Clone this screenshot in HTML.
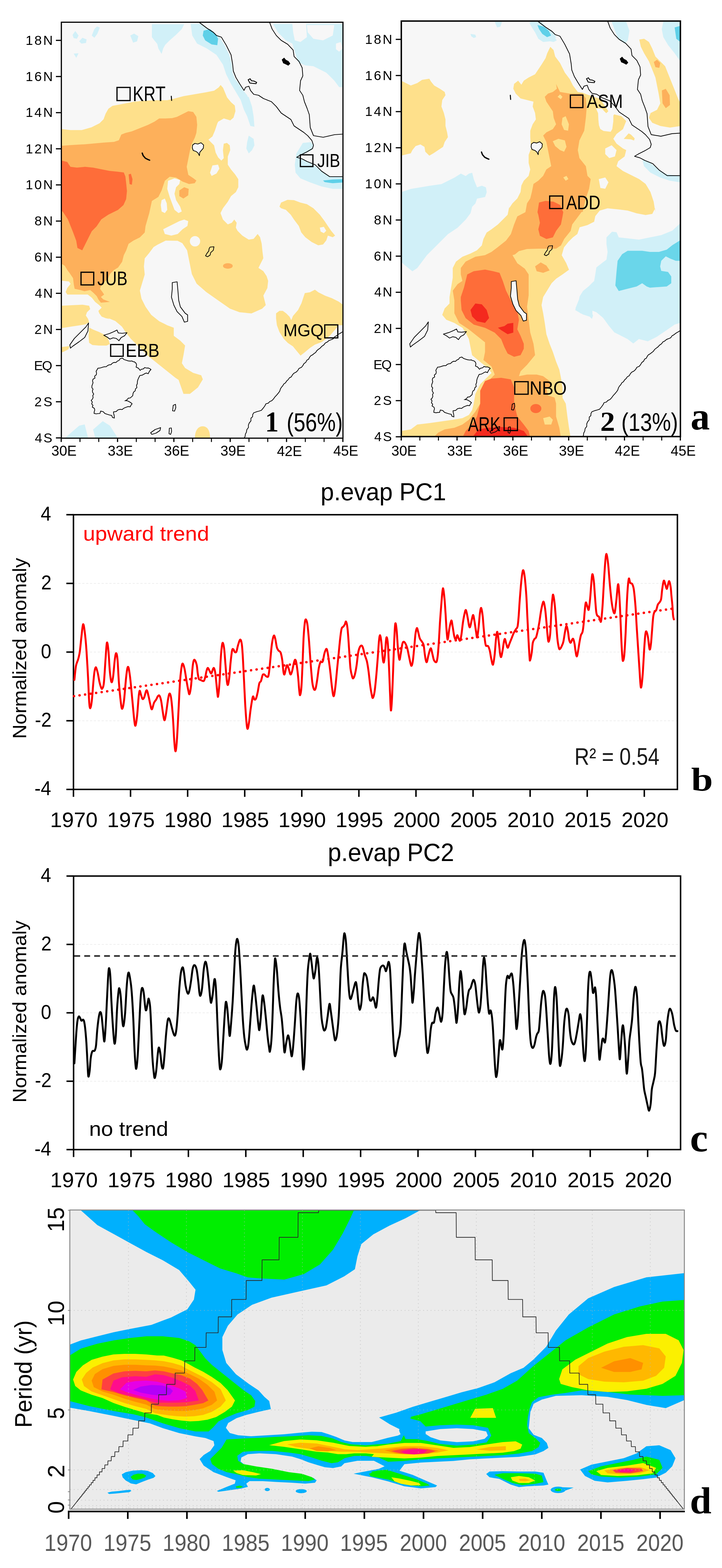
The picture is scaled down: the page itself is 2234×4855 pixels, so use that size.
<!DOCTYPE html>
<html><head><meta charset="utf-8"><style>
html,body{margin:0;padding:0;background:#fff;}
svg{display:block;}
text{font-kerning:none;}
</style></head><body>
<svg width="2234" height="4855" viewBox="0 0 2234 4855">
<rect width="2234" height="4855" fill="#fff"/>
<clipPath id="cl"><rect x="190" y="69" width="871" height="1287.5"/></clipPath>
<clipPath id="cr"><rect x="1241.5" y="65.5" width="864" height="1286"/></clipPath>
<rect x="188" y="67" width="875" height="1291" fill="#f7f7f7"/>
<g clip-path="url(#cl)">
<path d="M470.0,75.0 L569.9,75.0 L562.4,90.0 L544.9,107.5 L525.0,124.9 L507.5,142.4 L490.0,139.9 L477.5,124.9 L470.0,115.0 Z" fill="#d1f0f8" />
<path d="M589.9,74.0 L619.9,74.0 L634.9,85.0 L654.8,97.5 L679.8,115.0 L694.8,139.9 L709.8,169.9 L717.3,199.9 L719.8,224.9 L727.3,244.8 L739.8,259.8 L752.3,279.8 L764.7,294.8 L774.7,319.8 L779.7,339.8 L782.2,359.7 L764.7,359.7 L754.8,339.8 L744.8,309.8 L729.8,284.8 L714.8,259.8 L699.8,229.9 L689.8,199.9 L669.8,169.9 L639.9,149.9 L609.9,134.9 L594.9,110.0 Z" fill="#d1f0f8" />
<path d="M844.7,74.0 L1062.0,74.0 L1062.0,269.8 L1049.5,269.8 L1034.5,249.8 L1009.5,224.9 L969.6,204.9 L944.6,202.4 L922.1,192.4 L912.1,159.9 L904.6,134.9 L884.6,124.9 L859.7,100.0 Z" fill="#d1f0f8" />
<path d="M904.6,74.0 L947.1,74.0 L949.6,115.0 L929.6,129.9 L912.1,124.9 L907.1,100.0 Z" fill="#f7f7f7" />
<path d="M949.6,77.5 L1034.5,77.5 L1029.5,110.0 L999.5,124.9 L969.6,119.9 L952.1,100.0 Z" fill="#f7f7f7" />
<path d="M1039.5,134.9 L1054.5,129.9 L1059.5,149.9 L1049.5,159.9 L1039.5,152.4 Z" fill="#f7f7f7" />
<path d="M224.5,108.0 L233.0,96.0 L243.0,110.0 L238.0,120.0 L228.0,118.0 Z" fill="#d1f0f8" />
<path d="M245.0,128.0 L255.0,117.0 L268.0,122.0 L266.0,133.0 L252.0,135.0 Z" fill="#d1f0f8" />
<path d="M284.0,110.0 L292.0,90.0 L300.0,82.0 L309.0,85.0 L301.0,105.0 L292.0,117.0 Z" fill="#d1f0f8" />
<path d="M228.0,166.0 L243.0,165.0 L236.0,179.0 Z" fill="#d1f0f8" />
<path d="M403.0,110.0 L415.0,104.0 L428.0,112.0 L424.0,128.0 L412.0,132.0 Z" fill="#d1f0f8" />
<path d="M483.0,122.0 L500.0,124.0 L513.0,135.0 L505.0,150.0 L500.0,167.0 L490.0,150.0 Z" fill="#d1f0f8" />
<path d="M629.9,95.0 L649.8,90.0 L667.3,105.0 L674.8,119.9 L672.3,139.9 L654.8,137.4 L634.9,124.9 L627.4,110.0 Z" fill="#5fd0e8" />
<path d="M749.8,300.0 L769.7,300.0 L779.7,330.0 L784.7,359.9 L787.2,392.4 L774.7,389.9 L764.7,359.9 L757.3,330.0 Z" fill="#d1f0f8" />
<path d="M769.7,419.9 L784.7,429.9 L787.2,449.9 L779.7,464.9 L769.7,474.9 L762.3,459.9 L764.7,439.9 Z" fill="#d1f0f8" />
<path d="M937.1,442.4 L962.1,439.9 L969.6,449.9 L964.6,464.9 L944.6,474.9 L922.1,484.8 L969.6,509.8 L994.6,529.8 L1019.5,547.3 L1062.0,547.3 L1062.0,584.8 L1029.5,584.8 L994.6,577.3 L959.6,564.8 L929.6,552.3 L914.6,534.8 L912.1,509.8 L917.1,474.9 Z" fill="#d1f0f8" />
<path d="M999.5,558.8 L1029.5,555.8 L1062.0,554.8 L1062.0,564.8 L1029.5,567.3 L1004.5,563.8 Z" fill="#5fd0e8" />
<path d="M200.0,1357.0 L245.0,1318.0 L262.0,1314.0 L266.0,1330.0 L273.0,1357.0 Z" fill="#d1f0f8" />
<path d="M288.0,1330.0 L318.0,1304.0 L340.0,1318.0 L365.0,1357.0 L295.0,1357.0 Z" fill="#d1f0f8" />
<path d="M188.0,399.2 L218.0,402.7 L252.9,402.7 L282.9,394.2 L307.9,381.7 L320.4,369.2 L326.9,351.8 L335.4,336.8 L347.9,327.8 L387.8,320.3 L412.8,315.3 L447.8,311.8 L487.7,310.3 L517.7,310.3 L537.7,305.8 L567.7,297.8 L602.6,291.8 L637.6,285.8 L662.6,280.8 L676.6,270.8 L682.6,263.3 L690.1,271.8 L702.6,301.8 L715.1,316.8 L726.5,326.8 L728.5,344.3 L722.5,364.2 L712.6,372.7 L692.6,366.7 L675.1,376.7 L672.3,382.4 L664.8,404.9 L657.3,422.4 L644.9,432.4 L662.3,449.9 L667.3,472.4 L674.8,487.3 L684.8,497.3 L692.3,489.8 L689.8,464.9 L692.3,444.9 L702.3,442.4 L710.8,449.9 L712.3,464.9 L704.8,484.8 L704.8,509.8 L714.8,524.8 L727.3,539.8 L737.3,554.8 L737.3,579.8 L729.8,594.7 L714.8,607.2 L704.8,624.7 L689.8,644.7 L682.3,659.7 L689.8,679.7 L704.8,694.7 L717.3,689.7 L724.8,679.7 L732.3,689.7 L729.8,704.7 L734.8,714.6 L749.8,729.6 L769.7,742.1 L784.7,739.6 L797.2,724.6 L804.7,734.6 L809.7,754.6 L812.2,779.6 L814.7,799.6 L804.7,819.6 L799.7,829.5 L814.7,839.5 L824.7,854.5 L829.7,869.5 L827.2,892.0 L814.9,915.2 L822.3,944.7 L811.2,955.8 L778.0,970.5 L741.2,966.8 L711.7,955.8 L674.8,929.9 L637.9,904.1 L608.4,878.3 L593.7,848.8 L586.3,811.9 L578.9,775.1 L564.2,752.9 L549.4,745.5 L512.7,745.0 L487.7,757.5 L475.3,764.9 L460.3,784.9 L447.8,799.9 L445.3,824.9 L447.8,849.9 L440.3,874.9 L432.8,899.8 L437.8,924.8 L450.3,949.8 L467.8,974.8 L492.7,994.7 L517.7,1007.2 L537.7,1014.7 L537.7,1039.7 L557.7,1054.7 L572.7,1069.7 L567.7,1099.7 L562.7,1124.6 L572.7,1139.6 L597.7,1154.6 L622.6,1162.1 L627.6,1174.6 L612.6,1199.6 L587.7,1219.6 L567.7,1219.6 L552.6,1176.3 L542.4,1169.5 L525.6,1156.0 L508.7,1142.5 L491.8,1129.0 L474.9,1115.5 L458.0,1102.0 L444.5,1088.5 L431.0,1075.0 L417.5,1061.5 L404.0,1048.0 L390.5,1031.1 L377.0,1010.9 L356.8,994.0 L333.1,983.9 L339.9,987.8 L327.2,985.3 L314.6,980.3 L307.0,970.1 L304.5,962.5 L314.6,952.4 L307.0,944.8 L294.3,934.7 L284.2,922.0 L271.5,911.9 L246.2,911.9 L208.3,911.9 L203.2,904.3 L208.3,891.6 L218.4,879.0 L213.3,871.4 L188.0,868.9 Z" fill="#fee08b" />
<path d="M188.0,946.8 L221.8,945.1 L255.5,943.4 L275.8,946.8 L279.1,956.9 L269.0,967.0 L265.6,977.1 L272.4,987.3 L275.8,997.4 L265.6,1004.1 L245.4,1007.5 L221.8,1010.9 L201.5,1014.3 L188.0,1016.0 Z" fill="#fee08b" />
<path d="M275.8,1014.3 L289.3,1021.0 L306.1,1027.8 L319.6,1034.5 L329.8,1041.3 L336.5,1054.8 L339.9,1064.9 L329.8,1070.0 L306.1,1070.0 L285.9,1068.3 L275.8,1061.5 L274.1,1041.3 Z" fill="#fee08b" />
<path d="M188.0,1075.0 L201.5,1073.3 L215.0,1071.6 L211.6,1081.8 L198.1,1088.5 L188.0,1091.9 Z" fill="#fee08b" />
<path d="M603,1357 C603,1330 615,1320 627,1320 C640,1320 650,1330 650,1357 Z" fill="#fee08b"/>
<path d="M854.2,970.3 L864.6,962.5 L875.1,962.5 L885.6,970.3 L896.0,980.8 L901.3,991.3 L906.5,978.2 L922.2,959.9 L932.7,938.9 L943.1,907.6 L958.8,904.9 L974.5,897.1 L985.0,904.9 L1005.9,915.4 L1026.8,923.2 L1047.8,933.7 L1062.0,944.2 L1062.0,1007.0 L1047.8,1007.0 L1037.3,1020.0 L1021.6,1038.4 L1005.9,1051.4 L995.4,1059.3 L974.5,1067.1 L958.8,1077.6 L943.1,1090.7 L930.0,1101.1 L917.0,1085.4 L906.5,1072.4 L890.8,1061.9 L877.7,1048.8 L864.6,1027.9 L856.8,1007.0 L854.2,986.0 Z" fill="#fee08b" />
<path d="M864.7,639.7 L869.7,627.2 L889.6,618.7 L909.6,619.7 L929.6,627.2 L949.6,632.2 L969.6,644.7 L989.6,664.7 L1004.5,684.7 L1014.5,699.7 L1024.5,714.6 L1037.0,729.6 L1029.5,734.6 L1014.5,729.6 L1009.5,744.6 L999.5,757.1 L984.6,759.6 L964.6,749.6 L944.6,734.6 L932.1,719.6 L924.6,699.7 L909.6,679.7 L899.6,664.7 L884.6,649.7 L869.7,644.7 Z" fill="#fee08b" />
<path d="M989.6,704.7 L1002.0,702.2 L1009.5,714.6 L1002.0,722.1 L992.1,717.1 Z" fill="#f7f7f7" />
<path d="M657.3,512.3 L674.8,509.8 L678.8,522.3 L669.8,537.3 L654.8,544.8 L649.8,534.8 Z" fill="#f7f7f7" />
<path d="M520.0,559.8 L539.9,552.3 L557.4,557.3 L554.9,569.8 L544.9,579.8 L539.9,599.7 L544.9,619.7 L557.4,639.7 L562.4,654.7 L552.4,659.7 L539.9,649.7 L532.4,629.7 L525.0,609.7 L517.5,584.8 Z" fill="#f7f7f7" />
<path d="M500.0,619.7 L510.0,614.7 L516.0,629.7 L517.5,649.7 L510.0,659.7 L500.0,654.7 L497.5,634.7 Z" fill="#f7f7f7" />
<path d="M505.0,709.7 L529.9,697.2 L554.9,684.7 L569.9,679.7 L582.4,684.7 L579.9,699.7 L564.9,709.7 L549.9,724.6 L529.9,729.6 L510.0,724.6 Z" fill="#f7f7f7" />
<circle cx="603.4" cy="747.1" r="16" fill="#f7f7f7"/>
<path d="M188.0,451.7 L218.0,449.2 L262.9,446.7 L317.9,441.7 L352.9,439.2 L367.8,434.2 L375.3,416.7 L387.8,411.7 L407.8,406.7 L432.8,396.7 L457.8,386.7 L477.8,376.7 L492.7,366.7 L512.7,366.7 L532.7,365.7 L547.7,361.7 L567.7,351.8 L582.7,344.3 L597.7,346.8 L607.6,361.7 L610.1,386.7 L607.6,411.7 L602.6,426.7 L592.7,446.7 L587.7,466.7 L582.7,491.6 L577.7,516.6 L582.7,541.6 L597.7,551.6 L607.6,559.1 L602.4,567.3 L584.9,569.8 L564.9,562.3 L544.9,549.8 L525.0,547.3 L510.0,559.8 L500.0,589.8 L490.0,609.7 L470.0,622.2 L461.8,660.0 L450.3,700.0 L447.8,720.0 L432.8,735.0 L412.8,745.0 L397.8,755.0 L390.5,775.2 L382.9,790.4 L377.9,810.6 L365.2,828.4 L352.6,835.9 L339.9,848.6 L334.8,861.3 L322.2,873.9 L312.1,886.6 L309.5,894.2 L317.1,904.3 L322.2,911.9 L312.1,919.5 L319.6,927.1 L339.9,934.7 L312.1,937.2 L304.5,927.1 L299.4,917.0 L289.3,906.8 L279.1,898.0 L261.4,901.8 L248.8,898.0 L231.0,894.2 L228.5,881.5 L226.0,861.3 L215.8,846.1 L208.3,835.9 L200.7,823.3 L193.1,818.2 L188.0,818.2 Z" fill="#fdb05b" />
<path d="M554.9,589.8 L569.9,579.8 L583.9,584.8 L582.4,604.7 L567.4,614.7 L554.9,607.2 Z" fill="#fdb05b" />
<ellipse cx="705" cy="823.5" rx="15" ry="8.5" fill="#fdb05b"/>
<path d="M188.0,496.6 L208.0,501.6 L218.0,516.6 L238.0,519.1 L263.0,516.6 L288.0,519.1 L313.0,524.1 L338.0,529.1 L363.0,531.6 L383.0,534.1 L388.0,546.6 L390.3,566.6 L392.8,591.6 L390.3,616.6 L382.0,635.0 L365.0,650.0 L335.5,664.4 L313.4,679.2 L298.6,701.3 L283.9,716.0 L269.1,745.6 L261.8,760.3 L254.4,775.1 L239.6,767.7 L235.9,745.6 L224.9,716.0 L210.1,679.2 L195.4,657.0 L188.0,649.7 Z" fill="#fe6d39" />
<path d="M398.0,540.0 L405.0,538.0 L410.0,555.0 L408.0,572.0 L401.0,570.0 Z" fill="#fe6d39" />
<path d="M612.0,66.0 L620.0,72.0 L640.0,87.0 L660.0,100.0 L670.0,110.0 L685.0,115.0 L700.0,140.0 L715.0,170.0 L720.0,200.0 L722.0,220.0 L730.0,240.0 L742.0,260.0 L755.0,280.0 L760.0,270.0 L770.0,267.0 L775.0,280.0 L785.0,292.0 L800.0,295.0 L815.0,305.0 L840.0,315.0 L855.0,330.0 L870.0,350.0 L885.0,360.0 L900.0,370.0 L910.0,390.0 L925.0,400.0 L940.0,410.0 L952.0,420.0 L965.0,435.0 L970.0,450.0 L967.0,460.0 L950.0,470.0 L930.0,480.0 L918.0,487.0 L935.0,492.0 L950.0,500.0 L975.0,510.0 L995.0,530.0 L1020.0,547.0 L1065.0,547.0" fill="none" stroke="#000" stroke-width="2.2" stroke-linejoin="round" stroke-linecap="round" />
<path d="M833.0,66.0 L842.0,90.0 L855.0,110.0 L870.0,125.0 L890.0,137.0 L907.0,155.0 L910.0,175.0 L925.0,190.0 L935.0,210.0 L937.0,235.0 L930.0,250.0 L927.0,280.0 L937.0,295.0 L942.0,315.0 L950.0,335.0 L957.0,355.0 L960.0,395.0 L970.0,420.0 L1000.0,425.0 L1035.0,417.0 L1065.0,415.0" fill="none" stroke="#000" stroke-width="2.2" stroke-linejoin="round" stroke-linecap="round" />
<path d="M1064.8,1023.7 L1058.4,1028.4 L1052.5,1032.0 L1046.5,1035.4 L1041.1,1039.8 L1035.0,1043.1 L1030.8,1049.3 L1024.3,1051.9 L1017.7,1054.5 L1012.5,1059.1 L1006.3,1062.2 L1002.1,1068.0 L995.9,1072.1 L991.0,1077.6 L984.9,1081.9 L980.2,1085.9 L976.7,1091.3 L971.6,1094.9 L966.9,1098.8 L961.3,1101.8 L957.6,1106.6 L954.9,1112.3 L949.3,1115.4 L946.2,1121.9 L940.5,1125.9 L937.0,1132.1 L932.6,1137.6 L925.2,1140.7 L921.1,1147.5 L915.7,1152.6 L909.2,1155.7 L904.8,1160.7 L901.5,1166.7 L895.4,1170.0 L891.7,1175.5 L886.8,1179.8 L883.4,1185.3 L877.9,1189.1 L875.0,1194.6 L870.7,1199.2 L867.5,1204.6 L865.6,1211.0 L861.9,1216.3 L856.6,1222.7 L850.9,1228.7 L846.5,1234.9 L841.0,1240.7 L834.7,1243.3 L829.9,1248.4 L822.8,1250.2 L819.6,1256.6 L815.5,1262.3 L809.0,1270.3 L802.1,1272.7 L795.2,1274.5 L784.9,1278.2 L781.9,1283.7 L781.5,1290.3 L776.5,1294.9 L776.4,1303.3 L771.2,1309.7 L768.6,1316.2 L768.7,1323.7 L763.7,1330.3 L762.4,1338.2 L759.2,1344.4 L758.4,1351.5 L753.4,1360.0" fill="none" stroke="#000" stroke-width="2.2" stroke-linejoin="round" stroke-linecap="round" />
<path d="M596.0,449.0 L603.0,444.0 L612.0,446.0 L622.0,442.0 L630.0,449.0 L629.0,459.0 L622.0,467.0 L618.0,472.0 L617.0,482.0 L613.0,474.0 L607.0,469.0 L598.0,466.0 L595.0,458.0 Z" fill="#f7f7f7" stroke="#000" stroke-width="2.2" stroke-linejoin="round"/>
<path d="M533.0,875.0 L548.0,872.5 L550.5,900.0 L553.0,930.0 L558.0,950.0 L573.0,970.0 L580.5,975.0 L580.5,995.0 L570.5,997.5 L563.0,980.0 L548.0,965.0 L538.0,945.0 L530.5,920.0 L533.0,895.0 Z" fill="#f7f7f7" stroke="#000" stroke-width="2.2" stroke-linejoin="round"/>
<path d="M216.0,1068.0 L230.0,1048.0 L250.0,1028.0 L266.0,1012.0 L274.0,1000.0 L272.0,1025.0 L262.0,1045.0 L245.0,1058.0 L225.0,1072.0 L218.0,1078.0 Z" fill="#f7f7f7" stroke="#000" stroke-width="2.2" stroke-linejoin="round"/>
<path d="M378.6,1108.8 L383.9,1113.2 L390.1,1115.3 L396.4,1117.3 L402.7,1118.1 L408.5,1117.7 L411.2,1119.6 L416.3,1120.6 L420.9,1124.6 L422.6,1129.6 L421.2,1136.8 L428.1,1139.9 L433.6,1146.7 L438.0,1143.2 L443.2,1142.4 L447.7,1138.2 L454.1,1139.7 L458.7,1139.4 L463.9,1141.6 L467.1,1144.1 L462.4,1149.4 L458.5,1157.2 L452.7,1154.9 L447.9,1157.0 L443.3,1159.8 L439.7,1161.7 L432.7,1162.7 L430.1,1168.0 L426.9,1174.8 L425.1,1181.2 L424.9,1187.7 L422.4,1193.5 L423.5,1200.2 L419.1,1204.3 L418.3,1210.1 L413.5,1214.0 L411.6,1218.6 L410.7,1225.2 L406.8,1228.8 L402.8,1232.3 L396.9,1232.8 L393.1,1237.8 L387.8,1240.6 L394.3,1241.0 L400.0,1244.0 L404.4,1246.5 L408.7,1250.3 L405.1,1254.8 L402.9,1259.6 L396.2,1258.9 L389.5,1261.2 L382.8,1264.1 L378.0,1268.1 L371.5,1267.4 L364.7,1269.2 L359.7,1274.1 L351.2,1275.4 L351.6,1280.5 L352.9,1284.6 L353.6,1289.9 L353.7,1294.2 L348.0,1292.6 L345.7,1286.4 L338.2,1284.7 L331.0,1282.5 L324.4,1280.2 L319.4,1274.7 L311.5,1272.9 L309.2,1280.3 L303.3,1280.5 L297.9,1281.5 L291.2,1280.2 L291.4,1275.1 L293.3,1269.5 L291.8,1264.3 L285.7,1260.5 L287.6,1254.9 L283.7,1250.7 L285.6,1244.7 L282.2,1239.8 L286.2,1235.5 L288.1,1230.6 L287.0,1225.0 L289.9,1220.2 L286.7,1214.9 L285.8,1210.3 L287.8,1204.9 L284.3,1200.3 L284.4,1194.8 L286.2,1189.9 L287.9,1185.1 L286.3,1179.3 L287.8,1174.1 L293.8,1170.6 L292.8,1164.7 L297.8,1160.6 L298.8,1155.5 L297.4,1149.7 L300.3,1144.9 L303.0,1140.1 L308.1,1139.7 L313.1,1138.5 L318.1,1136.8 L323.2,1135.6 L328.7,1135.5 L333.0,1131.7 L337.9,1129.7 L343.4,1129.1 L347.3,1124.8 L352.5,1122.1 L358.9,1122.3 L363.0,1118.1 L368.1,1116.2 L371.7,1110.8 Z" fill="#f7f7f7" stroke="#000" stroke-width="2.2" stroke-linejoin="miter"/>
<path d="M321.0,1038.0 L338.0,1033.0 L352.0,1027.0 L362.0,1022.0 L366.0,1031.0 L378.0,1032.0 L393.0,1030.0 L385.0,1040.0 L375.0,1045.0 L368.0,1055.0 L360.0,1048.0 L350.0,1046.0 L340.0,1050.0 L332.0,1044.0 Z" fill="none" stroke="#000" stroke-width="2.2" stroke-linejoin="round"/>
<path d="M650.0,765.0 L662.0,764.0 L660.0,775.0 L652.0,782.0 L650.0,790.0 L642.0,795.0 L636.0,792.0 L640.0,785.0 L646.0,777.0 L647.0,770.0 Z" fill="none" stroke="#000" stroke-width="2.2" stroke-linejoin="round"/>
<path d="M466.0,1340.0 L480.0,1330.0 L497.0,1324.0 L495.0,1333.0 L483.0,1341.0 L470.0,1345.0 Z" fill="none" stroke="#000" stroke-width="2.2" stroke-linejoin="round"/>
<path d="M524.0,1326.0 L530.0,1325.0 L531.0,1336.0 L528.0,1345.0 L523.0,1343.0 Z" fill="none" stroke="#000" stroke-width="2.2" stroke-linejoin="round"/>
<path d="M536.0,1255.0 L543.0,1252.0 L544.0,1262.0 L540.0,1273.0 L534.0,1272.0 Z" fill="none" stroke="#000" stroke-width="2.2" stroke-linejoin="round"/>
<path d="M440.0,474.0 L443.0,482.0 L450.0,490.0 L458.0,494.0 L463.0,496.0" fill="none" stroke="#000" stroke-width="4" stroke-linejoin="round" stroke-linecap="round" />
<path d="M530.0,298.0 L531.0,311.0" fill="none" stroke="#000" stroke-width="3" stroke-linejoin="round" stroke-linecap="round" />
<path d="M768,247 L774,244 L778,250 L786,251 L794,255 L792,259 L781,258 L773,257 Z" fill="none" stroke="#000" stroke-width="2.6"/>
<path d="M873,185 L879,180 L884,186 L892,190 L897,197 L892,202 L884,198 L877,195 Z" fill="#000" stroke="#000" stroke-width="2"/>
</g>
<rect x="362.0" y="270.7" width="40.5" height="40.7" fill="none" stroke="#000" stroke-width="3.7"/><text transform="translate(410.8,313.2) scale(0.7866,1)" font-family='"Liberation Sans", sans-serif' font-weight="normal" font-size="64.54" fill="#000" >KRT</text>
<rect x="929.4" y="479.4" width="38.8" height="36.3" fill="none" stroke="#000" stroke-width="3.7"/><text transform="translate(981.7,516.9) scale(0.8554,1)" font-family='"Liberation Sans", sans-serif' font-weight="normal" font-size="57.33" fill="#000" >JIB</text>
<rect x="250.7" y="842.9" width="39.3" height="39.3" fill="none" stroke="#000" stroke-width="3.7"/><text transform="translate(301.2,883.4) scale(0.8003,1)" font-family='"Liberation Sans", sans-serif' font-weight="normal" font-size="61.63" fill="#000" >JUB</text>
<rect x="342.4" y="1066.8" width="38.8" height="36.3" fill="none" stroke="#000" stroke-width="3.7"/><text transform="translate(388.7,1105.0) scale(0.9216,1)" font-family='"Liberation Sans", sans-serif' font-weight="normal" font-size="56.69" fill="#000" >EBB</text>
<rect x="1004.9" y="1005.9" width="40.3" height="40.3" fill="none" stroke="#000" stroke-width="3.7"/><text transform="translate(876.7,1041.4) scale(0.9757,1)" font-family='"Liberation Sans", sans-serif' font-weight="normal" font-size="53.54" fill="#000" >MGQ</text>
<text transform="translate(820.3,1334.5) scale(0.9502,1)" font-family='"Liberation Serif", serif' font-weight="bold" font-size="88.62" fill="#000" >1</text>
<text transform="translate(887.0,1334.5) scale(0.8143,1)" font-family='"Liberation Sans", sans-serif' font-weight="normal" font-size="79.86" fill="#000" >(56%)</text>
<rect x="189.8" y="68.8" width="871.4" height="1287.9" fill="none" stroke="#000" stroke-width="3.6"/>
<line x1="173.0" y1="125.0" x2="189.0" y2="125.0" stroke="#000" stroke-width="3.6"/>
<text x="79.2" y="138.8" font-family='"Liberation Sans", sans-serif' font-weight="normal" font-size="40.96" letter-spacing="4.51" fill="#000">18N</text>
<line x1="173.0" y1="236.9" x2="189.0" y2="236.9" stroke="#000" stroke-width="3.6"/>
<text x="79.2" y="250.7" font-family='"Liberation Sans", sans-serif' font-weight="normal" font-size="40.96" letter-spacing="4.51" fill="#000">16N</text>
<line x1="173.0" y1="348.8" x2="189.0" y2="348.8" stroke="#000" stroke-width="3.6"/>
<text x="79.2" y="362.1" font-family='"Liberation Sans", sans-serif' font-weight="normal" font-size="40.96" letter-spacing="4.51" fill="#000">14N</text>
<line x1="173.0" y1="460.7" x2="189.0" y2="460.7" stroke="#000" stroke-width="3.6"/>
<text x="79.2" y="474.5" font-family='"Liberation Sans", sans-serif' font-weight="normal" font-size="40.96" letter-spacing="4.51" fill="#000">12N</text>
<line x1="173.0" y1="572.5" x2="189.0" y2="572.5" stroke="#000" stroke-width="3.6"/>
<text x="79.2" y="586.4" font-family='"Liberation Sans", sans-serif' font-weight="normal" font-size="40.96" letter-spacing="4.51" fill="#000">10N</text>
<line x1="173.0" y1="684.5" x2="189.0" y2="684.5" stroke="#000" stroke-width="3.6"/>
<text x="106.8" y="698.3" font-family='"Liberation Sans", sans-serif' font-weight="normal" font-size="40.96" letter-spacing="4.16" fill="#000">8N</text>
<line x1="173.0" y1="796.4" x2="189.0" y2="796.4" stroke="#000" stroke-width="3.6"/>
<text x="106.5" y="810.2" font-family='"Liberation Sans", sans-serif' font-weight="normal" font-size="40.96" letter-spacing="4.46" fill="#000">6N</text>
<line x1="173.0" y1="908.2" x2="189.0" y2="908.2" stroke="#000" stroke-width="3.6"/>
<text x="107.7" y="921.6" font-family='"Liberation Sans", sans-serif' font-weight="normal" font-size="40.96" letter-spacing="3.32" fill="#000">4N</text>
<line x1="173.0" y1="1020.2" x2="189.0" y2="1020.2" stroke="#000" stroke-width="3.6"/>
<text x="106.5" y="1034.0" font-family='"Liberation Sans", sans-serif' font-weight="normal" font-size="40.96" letter-spacing="4.44" fill="#000">2N</text>
<line x1="173.0" y1="1132.0" x2="189.0" y2="1132.0" stroke="#000" stroke-width="3.6"/>
<text x="105.2" y="1145.9" font-family='"Liberation Sans", sans-serif' font-weight="normal" font-size="40.96" letter-spacing="-2.46" fill="#000">EQ</text>
<line x1="173.0" y1="1244.0" x2="189.0" y2="1244.0" stroke="#000" stroke-width="3.6"/>
<text x="106.5" y="1257.8" font-family='"Liberation Sans", sans-serif' font-weight="normal" font-size="40.96" letter-spacing="5.24" fill="#000">2S</text>
<line x1="173.0" y1="1355.9" x2="189.0" y2="1355.9" stroke="#000" stroke-width="3.6"/>
<text x="107.7" y="1369.7" font-family='"Liberation Sans", sans-serif' font-weight="normal" font-size="40.96" letter-spacing="4.12" fill="#000">4S</text>
<line x1="189.4" y1="1355.5" x2="189.4" y2="1368.5" stroke="#000" stroke-width="3.6"/>
<line x1="247.5" y1="1355.5" x2="247.5" y2="1368.5" stroke="#000" stroke-width="3"/>
<line x1="305.6" y1="1355.5" x2="305.6" y2="1368.5" stroke="#000" stroke-width="3"/>
<line x1="363.7" y1="1355.5" x2="363.7" y2="1368.5" stroke="#000" stroke-width="3.6"/>
<line x1="421.8" y1="1355.5" x2="421.8" y2="1368.5" stroke="#000" stroke-width="3"/>
<line x1="479.9" y1="1355.5" x2="479.9" y2="1368.5" stroke="#000" stroke-width="3"/>
<line x1="538.0" y1="1355.5" x2="538.0" y2="1368.5" stroke="#000" stroke-width="3.6"/>
<line x1="596.1" y1="1355.5" x2="596.1" y2="1368.5" stroke="#000" stroke-width="3"/>
<line x1="654.2" y1="1355.5" x2="654.2" y2="1368.5" stroke="#000" stroke-width="3"/>
<line x1="712.3" y1="1355.5" x2="712.3" y2="1368.5" stroke="#000" stroke-width="3.6"/>
<line x1="770.4" y1="1355.5" x2="770.4" y2="1368.5" stroke="#000" stroke-width="3"/>
<line x1="828.5" y1="1355.5" x2="828.5" y2="1368.5" stroke="#000" stroke-width="3"/>
<line x1="886.6" y1="1355.5" x2="886.6" y2="1368.5" stroke="#000" stroke-width="3.6"/>
<line x1="944.7" y1="1355.5" x2="944.7" y2="1368.5" stroke="#000" stroke-width="3"/>
<line x1="1002.8" y1="1355.5" x2="1002.8" y2="1368.5" stroke="#000" stroke-width="3"/>
<line x1="1060.9" y1="1355.5" x2="1060.9" y2="1368.5" stroke="#000" stroke-width="3.6"/>
<text transform="translate(159.0,1411.1) scale(0.9860,1)" font-family='"Liberation Sans", sans-serif' font-weight="normal" font-size="44.49" fill="#000" >30E</text>
<text transform="translate(333.3,1411.1) scale(0.9860,1)" font-family='"Liberation Sans", sans-serif' font-weight="normal" font-size="44.49" fill="#000" >33E</text>
<text transform="translate(507.6,1411.1) scale(0.9860,1)" font-family='"Liberation Sans", sans-serif' font-weight="normal" font-size="44.49" fill="#000" >36E</text>
<text transform="translate(681.9,1411.1) scale(0.9860,1)" font-family='"Liberation Sans", sans-serif' font-weight="normal" font-size="44.49" fill="#000" >39E</text>
<text transform="translate(856.9,1411.5) scale(0.9638,1)" font-family='"Liberation Sans", sans-serif' font-weight="normal" font-size="45.11" fill="#000" >42E</text>
<text transform="translate(1031.2,1411.1) scale(0.9632,1)" font-family='"Liberation Sans", sans-serif' font-weight="normal" font-size="45.14" fill="#000" >45E</text>
<rect x="1239" y="62.5" width="868" height="1292" fill="#f7f7f7"/>
<g clip-path="url(#cr)">
<path d="M1241.0,595.0 L1271.0,585.0 L1301.0,580.0 L1331.0,575.0 L1366.0,570.0 L1386.0,560.0 L1406.0,550.0 L1426.0,537.5 L1441.0,545.0 L1451.0,537.5 L1461.0,535.0 L1466.0,555.0 L1476.0,580.0 L1491.0,575.0 L1503.5,580.0 L1506.0,595.0 L1501.0,610.0 L1476.0,615.0 L1471.0,630.0 L1461.0,640.0 L1456.0,660.0 L1441.0,680.0 L1416.0,705.0 L1386.0,725.0 L1361.0,750.0 L1341.0,770.0 L1321.0,790.0 L1306.0,810.0 L1291.0,830.0 L1276.0,840.0 L1251.0,820.0 L1241.0,810.0 Z" fill="#d1f0f8" />
<path d="M2103.0,693.0 L2080.5,714.0 L2046.0,728.0 L2011.0,735.0 L1977.0,742.0 L1942.0,738.0 L1914.5,735.0 L1907.6,719.0 L1893.8,717.6 L1876.5,735.0 L1876.5,755.7 L1880.0,780.0 L1876.5,804.0 L1862.6,814.5 L1845.3,828.0 L1842.0,849.0 L1838.4,870.0 L1821.0,887.0 L1803.8,901.0 L1793.4,918.0 L1790.0,935.6 L1779.6,960.0 L1803.8,973.7 L1824.6,980.6 L1831.5,987.5 L1835.0,977.0 L1828.0,960.0 L1845.3,966.8 L1866.0,984.0 L1883.4,1008.0 L1900.7,1029.0 L1921.5,1039.4 L1942.0,1050.0 L1959.5,1063.6 L1976.8,1049.8 L2004.5,1056.7 L2032.0,1043.0 L2063.0,1022.0 L2087.5,1005.0 L2110.0,998.0 L2110.0,690.0 Z" fill="#d1f0f8" />
<path d="M2110.0,745.0 L2103.0,745.0 L2080.5,759.0 L2063.0,773.0 L2039.0,780.0 L2011.0,780.0 L1987.0,776.5 L1942.0,776.5 L1925.0,787.0 L1911.0,807.6 L1907.6,842.0 L1904.0,884.0 L1914.5,901.0 L1942.0,894.0 L1970.0,887.0 L1987.0,877.0 L2001.0,887.0 L2011.0,890.7 L2063.0,887.0 L2077.0,877.0 L2077.0,856.0 L2067.0,842.0 L2046.0,838.8 L2042.6,825.0 L2046.0,807.6 L2060.0,793.8 L2074.0,800.7 L2091.0,807.6 L2110.0,807.6 Z" fill="#6ad6ea" />
<path d="M1637.9,70.0 L1662.9,70.0 L1682.9,80.0 L1702.8,95.0 L1712.8,110.0 L1722.8,124.9 L1712.8,129.9 L1687.9,124.9 L1667.9,115.0 L1652.9,95.0 L1642.9,80.0 Z" fill="#d1f0f8" />
<path d="M1640.7,67.5 L1675.6,67.5 L1690.6,85.0 L1710.6,100.0 L1720.6,115.0 L1705.6,127.4 L1680.6,129.9 L1665.6,120.0 L1655.6,100.0 L1645.7,85.0 Z" fill="#d1f0f8" />
<path d="M1892.7,67.5 L1937.6,67.5 L1947.6,95.0 L1942.6,124.9 L1932.6,134.9 L1912.7,120.0 L1902.7,95.0 Z" fill="#d1f0f8" />
<path d="M1662.9,77.5 L1682.9,82.5 L1697.8,95.0 L1705.3,110.0 L1692.8,115.0 L1677.9,105.0 L1667.9,90.0 Z" fill="#5fd0e8" />
<path d="M1530.8,67.5 L1553.2,67.5 L1548.2,82.5 L1538.2,85.0 Z" fill="#d1f0f8" />
<path d="M2052.5,67.5 L2105.0,67.5 L2105.0,189.9 L2087.5,164.9 L2067.5,139.9 L2052.5,115.0 L2047.5,90.0 Z" fill="#d1f0f8" />
<path d="M2087.5,85.0 L2105.0,80.0 L2105.0,129.9 L2092.5,120.0 Z" fill="#5fd0e8" />
<path d="M1987.6,494.6 L2012.6,504.6 L2037.6,524.6 L2062.5,539.6 L2105.0,544.6 L2105.0,564.6 L2072.5,559.6 L2042.5,549.6 L2012.6,534.6 L1992.6,514.6 Z" fill="#d1f0f8" />
<path d="M1833.0,874.8 L1815.5,899.8 L1790.5,929.8 L1780.5,954.7 L1795.5,969.7 L1833.0,979.7 Z" fill="#d1f0f8" />
<path d="M1455.8,105.0 L1470.8,107.5 L1473.3,115.0 L1465.8,117.5 L1458.3,112.5 Z" fill="#d1f0f8" />
<path d="M1241.0,249.8 L1256.0,257.3 L1271.0,264.8 L1291.0,257.3 L1305.9,247.3 L1328.4,243.8 L1333.4,252.3 L1343.4,264.8 L1360.9,274.8 L1375.9,284.8 L1378.4,294.8 L1368.4,309.8 L1365.9,329.8 L1373.4,349.8 L1378.4,369.7 L1378.4,389.7 L1383.4,409.7 L1385.9,424.7 L1375.9,439.7 L1370.9,454.7 L1355.9,464.7 L1340.9,474.7 L1328.4,482.1 L1315.9,469.7 L1313.4,454.7 L1300.9,447.2 L1286.0,452.2 L1276.0,464.7 L1271.0,474.7 L1251.0,479.6 L1241.0,482.1 Z" fill="#fee08b" />
<path d="M1702.8,144.9 L1712.8,154.9 L1717.8,174.9 L1732.8,194.9 L1747.8,224.9 L1762.8,244.8 L1772.8,264.8 L1787.8,284.8 L1802.8,287.3 L1822.7,294.8 L1852.7,304.8 L1862.7,314.8 L1872.7,329.8 L1882.7,344.8 L1902.7,354.8 L1922.7,359.7 L1937.6,374.7 L1927.6,399.7 L1907.7,414.7 L1897.7,429.7 L1907.7,444.7 L1927.6,459.7 L1937.6,464.7 L1932.6,484.6 L1912.7,499.6 L1907.7,514.6 L1927.6,529.6 L1947.6,539.6 L1977.6,554.6 L1997.6,569.6 L2012.6,594.5 L2022.6,624.5 L2027.6,657.0 L2027.0,645.0 L2018.3,662.3 L1997.6,665.7 L1969.9,660.6 L1942.2,651.9 L1914.5,648.4 L1879.9,645.0 L1855.7,651.9 L1841.9,669.2 L1838.4,686.5 L1817.6,696.9 L1793.4,703.8 L1786.5,724.6 L1772.7,734.9 L1758.8,748.8 L1745.0,766.1 L1738.1,790.3 L1751.9,814.5 L1760.6,835.3 L1741.5,849.1 L1720.8,863.0 L1706.9,876.8 L1680.6,919.8 L1675.6,944.7 L1680.6,969.7 L1685.6,999.7 L1690.6,1034.7 L1700.6,1064.6 L1710.6,1089.6 L1720.6,1119.6 L1730.6,1144.6 L1735.6,1169.5 L1740.6,1199.5 L1740.6,1232.0 L1750.6,1249.7 L1755.6,1289.7 L1760.6,1324.6 L1765.6,1354.6 L1241.0,1354.6 L1241.0,1334.6 L1271.0,1329.6 L1291.0,1314.6 L1330.9,1309.7 L1365.9,1304.7 L1400.9,1299.7 L1430.8,1294.7 L1450.8,1284.7 L1460.8,1269.7 L1465.8,1249.7 L1470.8,1219.7 L1485.8,1189.8 L1505.8,1169.8 L1520.8,1154.8 L1510.8,1139.8 L1490.8,1124.8 L1460.8,1099.8 L1455.8,1074.9 L1450.8,1049.9 L1440.8,1029.9 L1430.8,1014.9 L1405.9,999.9 L1380.9,989.9 L1368.4,974.9 L1375.9,955.0 L1390.9,939.7 L1390.9,919.8 L1395.9,889.8 L1400.9,859.8 L1400.9,829.8 L1410.9,809.9 L1430.8,794.9 L1455.8,784.9 L1475.8,774.9 L1490.8,759.9 L1495.8,739.9 L1505.8,719.9 L1520.8,709.9 L1540.7,695.0 L1555.7,680.0 L1570.7,665.0 L1575.7,640.0 L1575.7,644.5 L1585.7,629.5 L1600.7,614.5 L1610.7,594.5 L1613.2,574.6 L1620.7,559.6 L1635.7,544.6 L1640.7,524.6 L1635.7,504.6 L1635.7,479.6 L1643.2,459.7 L1640.7,424.7 L1640.7,404.7 L1648.2,384.7 L1658.1,369.7 L1655.6,349.8 L1648.2,329.8 L1650.7,314.8 L1630.7,309.8 L1610.7,304.8 L1595.7,289.8 L1588.2,274.8 L1590.7,259.8 L1603.2,249.8 L1613.2,262.3 L1620.7,249.8 L1635.7,239.9 L1655.6,229.9 L1665.6,214.9 L1675.6,199.9 L1688.1,179.9 L1693.1,164.9 Z" fill="#fee08b" />
<path d="M1843.9,335.4 L1850.6,350.6 L1851.5,370.9 L1853.2,387.8 L1857.4,399.6 L1867.5,405.5 L1889.5,408.0 L1894.5,399.6 L1897.6,375.9 L1897.9,357.4 L1901.3,353.2 L1914.8,349.8 L1908.0,340.5 L1887.8,336.3 L1882.7,343.9 L1875.9,350.6 L1869.2,343.9 L1862.4,336.3 Z" fill="#f7f7f7" />
<path d="M1930.0,430.0 L1945.1,413.1 L1951.9,416.5 L1963.7,428.3 L1962.0,435.0 L1951.9,431.6 Z" fill="#fee08b" />
<path d="M1872.7,459.7 L1892.7,449.7 L1907.7,464.7 L1902.7,484.6 L1885.2,489.6 L1872.7,477.1 Z" fill="#f7f7f7" />
<path d="M1852.7,554.6 L1872.7,549.6 L1882.7,564.6 L1872.7,584.6 L1857.7,582.1 Z" fill="#f7f7f7" />
<path d="M1978.0,122.5 L1993.0,120.0 L2008.0,130.0 L2018.0,150.0 L2028.0,175.0 L2043.0,190.0 L2058.0,205.0 L2068.0,230.0 L2078.0,255.0 L2088.0,280.0 L2098.0,305.0 L2108.0,325.0 L2108.0,390.0 L2073.0,395.0 L2043.0,390.0 L2018.0,380.0 L2008.0,365.0 L2013.0,350.0 L2033.0,340.0 L2043.0,320.0 L2038.0,290.0 L2033.0,265.0 L2028.0,240.0 L2018.0,215.0 L2008.0,190.0 L1993.0,165.0 L1983.0,145.0 Z" fill="#fee08b" />
<path d="M2023.0,192.0 L2033.0,185.0 L2043.0,195.0 L2040.0,210.0 L2028.0,208.0 Z" fill="#fdb05b" />
<path d="M2048.0,280.0 L2060.0,275.0 L2072.0,295.0 L2073.0,325.0 L2060.0,335.0 L2050.0,320.0 Z" fill="#fdb05b" />
<path d="M1712.8,242.3 L1722.8,264.8 L1732.8,284.8 L1762.8,289.8 L1802.8,289.8 L1812.7,304.8 L1815.2,334.8 L1812.7,364.7 L1807.7,404.7 L1792.8,434.7 L1787.8,464.7 L1792.8,489.6 L1812.7,514.6 L1817.7,544.6 L1827.7,554.6 L1822.7,584.6 L1812.7,614.5 L1802.8,657.0 L1800.5,655.0 L1770.5,695.0 L1765.6,714.9 L1745.6,739.9 L1735.6,759.9 L1720.6,769.9 L1690.6,769.9 L1665.6,769.9 L1630.7,770.9 L1605.7,777.4 L1590.7,789.9 L1600.7,814.9 L1620.7,827.3 L1635.7,849.8 L1635.7,874.8 L1635.7,914.8 L1630.7,949.7 L1635.7,989.7 L1640.7,1029.7 L1650.7,1064.6 L1655.6,1099.6 L1630.7,1129.8 L1610.7,1149.8 L1605.7,1164.8 L1630.7,1159.8 L1660.6,1159.8 L1680.6,1164.8 L1700.6,1179.8 L1710.6,1209.7 L1720.6,1249.7 L1720.6,1289.7 L1730.6,1324.6 L1735.6,1354.6 L1340.9,1354.6 L1355.9,1339.6 L1375.9,1329.6 L1405.9,1324.6 L1430.8,1314.6 L1450.8,1299.7 L1470.8,1274.7 L1485.8,1249.7 L1490.8,1224.7 L1495.8,1199.7 L1510.8,1179.8 L1530.8,1159.8 L1520.8,1134.8 L1495.8,1114.8 L1500.8,1089.8 L1500.8,1059.9 L1475.8,1039.9 L1450.8,1019.9 L1420.8,999.9 L1405.9,969.9 L1405.9,930.0 L1400.9,900.0 L1415.9,879.8 L1430.8,869.8 L1425.8,849.8 L1425.8,829.8 L1440.8,809.9 L1470.8,794.9 L1500.8,789.9 L1520.8,779.9 L1540.7,764.9 L1565.7,744.9 L1580.7,724.9 L1590.7,695.0 L1600.7,670.0 L1625.7,657.0 L1630.7,629.5 L1640.7,614.5 L1645.7,594.5 L1650.7,569.6 L1665.6,559.6 L1680.6,544.6 L1690.6,524.6 L1705.6,514.6 L1700.6,489.6 L1695.6,464.7 L1690.6,439.7 L1680.6,419.7 L1690.6,409.7 L1710.6,399.7 L1720.6,384.7 L1713.1,364.7 L1710.6,344.8 L1700.6,329.8 L1690.6,314.8 L1685.6,299.8 L1695.6,289.8 L1710.6,284.8 L1723.1,274.8 L1720.6,259.8 Z" fill="#fdb05b" />
<path d="M1725.3,299.8 L1732.8,292.3 L1740.3,299.8 L1735.3,307.3 Z" fill="#fee08b" />
<path d="M1740.3,364.7 L1750.3,359.7 L1760.3,384.7 L1757.8,404.7 L1745.3,402.2 L1737.8,384.7 Z" fill="#fee08b" />
<path d="M1710.3,437.2 L1727.8,429.7 L1747.8,434.7 L1752.8,454.7 L1745.3,469.7 L1732.8,464.7 L1717.8,452.2 Z" fill="#fee08b" />
<path d="M1742.8,549.6 L1752.8,544.6 L1758.8,554.6 L1750.3,559.6 Z" fill="#fee08b" />
<path d="M1585.7,789.9 L1620.7,779.9 L1665.6,779.9 L1735.6,789.9 L1745.6,819.8 L1735.6,849.8 L1705.6,854.8 L1675.6,839.8 L1655.6,829.8 L1635.7,839.8 L1620.7,829.8 L1600.7,814.9 Z" fill="#fee08b" />
<path d="M1655.6,824.8 L1673.1,812.4 L1690.6,822.3 L1700.6,837.3 L1680.6,844.8 L1660.6,839.8 Z" fill="#fdb05b" />
<path d="M1690.6,1199.7 L1715.6,1194.7 L1740.6,1204.7 L1740.6,1224.7 L1720.6,1232.2 L1695.6,1224.7 Z" fill="#fee08b" />
<path d="M1680.6,1294.7 L1700.6,1289.7 L1710.6,1299.7 L1705.6,1314.6 L1685.6,1314.6 Z" fill="#fee08b" />
<path d="M1667.9,627.0 L1687.9,622.0 L1712.8,624.5 L1732.8,634.5 L1742.8,657.0 L1740.6,670.0 L1735.6,695.0 L1720.6,714.9 L1710.6,734.9 L1690.6,739.9 L1670.6,729.9 L1665.6,709.9 L1670.6,690.0 L1665.6,665.0 L1663.1,657.0 Z" fill="#fe6d39" />
<path d="M1445.8,849.8 L1465.8,839.8 L1500.8,834.8 L1525.8,839.8 L1545.7,844.8 L1555.7,869.8 L1565.7,899.8 L1575.7,919.8 L1585.7,939.7 L1600.7,964.7 L1605.7,989.7 L1600.7,1019.7 L1610.7,1039.7 L1620.7,1064.6 L1620.7,1064.9 L1620.7,1079.8 L1610.7,1099.8 L1590.7,1104.8 L1570.7,1094.8 L1560.7,1074.9 L1550.7,1049.9 L1530.8,1029.9 L1500.8,1014.9 L1465.8,1004.9 L1440.8,984.9 L1428.3,959.9 L1425.8,930.0 L1425.8,919.8 L1435.8,889.8 Z" fill="#fe6d39" />
<path d="M1485.8,1209.7 L1500.8,1179.8 L1520.8,1172.3 L1550.7,1169.8 L1580.7,1174.8 L1590.7,1199.7 L1590.7,1249.7 L1600.7,1289.7 L1620.7,1314.6 L1635.7,1334.6 L1640.7,1354.6 L1430.8,1354.6 L1440.8,1334.6 L1460.8,1314.6 L1475.8,1289.7 L1485.8,1249.7 Z" fill="#fe6d39" />
<ellipse cx="1658" cy="1265" rx="17" ry="14" fill="#fe6d39"/>
<path d="M1455.8,959.7 L1470.8,939.7 L1490.8,942.2 L1505.8,959.7 L1513.3,984.7 L1500.8,999.7 L1475.8,994.7 L1460.8,979.7 Z" fill="#f4291e" />
<path d="M1540.7,1014.7 L1560.7,1009.7 L1570.7,1002.2 L1588.2,999.7 L1588.2,1029.7 L1570.7,1034.7 L1550.7,1022.2 Z" fill="#f4291e" />
<path d="M1460.8,1354.6 L1480.8,1329.6 L1510.8,1324.6 L1550.7,1322.1 L1590.7,1324.6 L1620.7,1334.6 L1635.7,1354.6 Z" fill="#f4291e" />
<g transform="matrix(0.99088 0 0 0.99964 1053.83 -2.975)"><path d="M612.0,66.0 L620.0,72.0 L640.0,87.0 L660.0,100.0 L670.0,110.0 L685.0,115.0 L700.0,140.0 L715.0,170.0 L720.0,200.0 L722.0,220.0 L730.0,240.0 L742.0,260.0 L755.0,280.0 L760.0,270.0 L770.0,267.0 L775.0,280.0 L785.0,292.0 L800.0,295.0 L815.0,305.0 L840.0,315.0 L855.0,330.0 L870.0,350.0 L885.0,360.0 L900.0,370.0 L910.0,390.0 L925.0,400.0 L940.0,410.0 L952.0,420.0 L965.0,435.0 L970.0,450.0 L967.0,460.0 L950.0,470.0 L930.0,480.0 L918.0,487.0 L935.0,492.0 L950.0,500.0 L975.0,510.0 L995.0,530.0 L1020.0,547.0 L1065.0,547.0" fill="none" stroke="#000" stroke-width="2.2" stroke-linejoin="round" stroke-linecap="round" />
<path d="M833.0,66.0 L842.0,90.0 L855.0,110.0 L870.0,125.0 L890.0,137.0 L907.0,155.0 L910.0,175.0 L925.0,190.0 L935.0,210.0 L937.0,235.0 L930.0,250.0 L927.0,280.0 L937.0,295.0 L942.0,315.0 L950.0,335.0 L957.0,355.0 L960.0,395.0 L970.0,420.0 L1000.0,425.0 L1035.0,417.0 L1065.0,415.0" fill="none" stroke="#000" stroke-width="2.2" stroke-linejoin="round" stroke-linecap="round" />
<path d="M1064.8,1023.7 L1058.4,1028.4 L1052.5,1032.0 L1046.5,1035.4 L1041.1,1039.8 L1035.0,1043.1 L1030.8,1049.3 L1024.3,1051.9 L1017.7,1054.5 L1012.5,1059.1 L1006.3,1062.2 L1002.1,1068.0 L995.9,1072.1 L991.0,1077.6 L984.9,1081.9 L980.2,1085.9 L976.7,1091.3 L971.6,1094.9 L966.9,1098.8 L961.3,1101.8 L957.6,1106.6 L954.9,1112.3 L949.3,1115.4 L946.2,1121.9 L940.5,1125.9 L937.0,1132.1 L932.6,1137.6 L925.2,1140.7 L921.1,1147.5 L915.7,1152.6 L909.2,1155.7 L904.8,1160.7 L901.5,1166.7 L895.4,1170.0 L891.7,1175.5 L886.8,1179.8 L883.4,1185.3 L877.9,1189.1 L875.0,1194.6 L870.7,1199.2 L867.5,1204.6 L865.6,1211.0 L861.9,1216.3 L856.6,1222.7 L850.9,1228.7 L846.5,1234.9 L841.0,1240.7 L834.7,1243.3 L829.9,1248.4 L822.8,1250.2 L819.6,1256.6 L815.5,1262.3 L809.0,1270.3 L802.1,1272.7 L795.2,1274.5 L784.9,1278.2 L781.9,1283.7 L781.5,1290.3 L776.5,1294.9 L776.4,1303.3 L771.2,1309.7 L768.6,1316.2 L768.7,1323.7 L763.7,1330.3 L762.4,1338.2 L759.2,1344.4 L758.4,1351.5 L753.4,1360.0" fill="none" stroke="#000" stroke-width="2.2" stroke-linejoin="round" stroke-linecap="round" />
<path d="M596.0,449.0 L603.0,444.0 L612.0,446.0 L622.0,442.0 L630.0,449.0 L629.0,459.0 L622.0,467.0 L618.0,472.0 L617.0,482.0 L613.0,474.0 L607.0,469.0 L598.0,466.0 L595.0,458.0 Z" fill="#f7f7f7" stroke="#000" stroke-width="2.2" stroke-linejoin="round"/>
<path d="M533.0,875.0 L548.0,872.5 L550.5,900.0 L553.0,930.0 L558.0,950.0 L573.0,970.0 L580.5,975.0 L580.5,995.0 L570.5,997.5 L563.0,980.0 L548.0,965.0 L538.0,945.0 L530.5,920.0 L533.0,895.0 Z" fill="#f7f7f7" stroke="#000" stroke-width="2.2" stroke-linejoin="round"/>
<path d="M216.0,1068.0 L230.0,1048.0 L250.0,1028.0 L266.0,1012.0 L274.0,1000.0 L272.0,1025.0 L262.0,1045.0 L245.0,1058.0 L225.0,1072.0 L218.0,1078.0 Z" fill="#f7f7f7" stroke="#000" stroke-width="2.2" stroke-linejoin="round"/>
<path d="M378.6,1108.8 L383.9,1113.2 L390.1,1115.3 L396.4,1117.3 L402.7,1118.1 L408.5,1117.7 L411.2,1119.6 L416.3,1120.6 L420.9,1124.6 L422.6,1129.6 L421.2,1136.8 L428.1,1139.9 L433.6,1146.7 L438.0,1143.2 L443.2,1142.4 L447.7,1138.2 L454.1,1139.7 L458.7,1139.4 L463.9,1141.6 L467.1,1144.1 L462.4,1149.4 L458.5,1157.2 L452.7,1154.9 L447.9,1157.0 L443.3,1159.8 L439.7,1161.7 L432.7,1162.7 L430.1,1168.0 L426.9,1174.8 L425.1,1181.2 L424.9,1187.7 L422.4,1193.5 L423.5,1200.2 L419.1,1204.3 L418.3,1210.1 L413.5,1214.0 L411.6,1218.6 L410.7,1225.2 L406.8,1228.8 L402.8,1232.3 L396.9,1232.8 L393.1,1237.8 L387.8,1240.6 L394.3,1241.0 L400.0,1244.0 L404.4,1246.5 L408.7,1250.3 L405.1,1254.8 L402.9,1259.6 L396.2,1258.9 L389.5,1261.2 L382.8,1264.1 L378.0,1268.1 L371.5,1267.4 L364.7,1269.2 L359.7,1274.1 L351.2,1275.4 L351.6,1280.5 L352.9,1284.6 L353.6,1289.9 L353.7,1294.2 L348.0,1292.6 L345.7,1286.4 L338.2,1284.7 L331.0,1282.5 L324.4,1280.2 L319.4,1274.7 L311.5,1272.9 L309.2,1280.3 L303.3,1280.5 L297.9,1281.5 L291.2,1280.2 L291.4,1275.1 L293.3,1269.5 L291.8,1264.3 L285.7,1260.5 L287.6,1254.9 L283.7,1250.7 L285.6,1244.7 L282.2,1239.8 L286.2,1235.5 L288.1,1230.6 L287.0,1225.0 L289.9,1220.2 L286.7,1214.9 L285.8,1210.3 L287.8,1204.9 L284.3,1200.3 L284.4,1194.8 L286.2,1189.9 L287.9,1185.1 L286.3,1179.3 L287.8,1174.1 L293.8,1170.6 L292.8,1164.7 L297.8,1160.6 L298.8,1155.5 L297.4,1149.7 L300.3,1144.9 L303.0,1140.1 L308.1,1139.7 L313.1,1138.5 L318.1,1136.8 L323.2,1135.6 L328.7,1135.5 L333.0,1131.7 L337.9,1129.7 L343.4,1129.1 L347.3,1124.8 L352.5,1122.1 L358.9,1122.3 L363.0,1118.1 L368.1,1116.2 L371.7,1110.8 Z" fill="#f7f7f7" stroke="#000" stroke-width="2.2" stroke-linejoin="miter"/>
<path d="M321.0,1038.0 L338.0,1033.0 L352.0,1027.0 L362.0,1022.0 L366.0,1031.0 L378.0,1032.0 L393.0,1030.0 L385.0,1040.0 L375.0,1045.0 L368.0,1055.0 L360.0,1048.0 L350.0,1046.0 L340.0,1050.0 L332.0,1044.0 Z" fill="none" stroke="#000" stroke-width="2.2" stroke-linejoin="round"/>
<path d="M650.0,765.0 L662.0,764.0 L660.0,775.0 L652.0,782.0 L650.0,790.0 L642.0,795.0 L636.0,792.0 L640.0,785.0 L646.0,777.0 L647.0,770.0 Z" fill="none" stroke="#000" stroke-width="2.2" stroke-linejoin="round"/>
<path d="M466.0,1340.0 L480.0,1330.0 L497.0,1324.0 L495.0,1333.0 L483.0,1341.0 L470.0,1345.0 Z" fill="none" stroke="#000" stroke-width="2.2" stroke-linejoin="round"/>
<path d="M524.0,1326.0 L530.0,1325.0 L531.0,1336.0 L528.0,1345.0 L523.0,1343.0 Z" fill="none" stroke="#000" stroke-width="2.2" stroke-linejoin="round"/>
<path d="M536.0,1255.0 L543.0,1252.0 L544.0,1262.0 L540.0,1273.0 L534.0,1272.0 Z" fill="none" stroke="#000" stroke-width="2.2" stroke-linejoin="round"/>
<path d="M440.0,474.0 L443.0,482.0 L450.0,490.0 L458.0,494.0 L463.0,496.0" fill="none" stroke="#000" stroke-width="4" stroke-linejoin="round" stroke-linecap="round" />
<path d="M530.0,298.0 L531.0,311.0" fill="none" stroke="#000" stroke-width="3" stroke-linejoin="round" stroke-linecap="round" />
<path d="M768,247 L774,244 L778,250 L786,251 L794,255 L792,259 L781,258 L773,257 Z" fill="none" stroke="#000" stroke-width="2.6"/>
<path d="M873,185 L879,180 L884,186 L892,190 L897,197 L892,202 L884,198 L877,195 Z" fill="#000" stroke="#000" stroke-width="2"/></g>
</g>
<rect x="1764.8" y="294.4" width="38.8" height="38.8" fill="none" stroke="#000" stroke-width="3.7"/><text transform="translate(1815.4,334.4) scale(0.8597,1)" font-family='"Liberation Sans", sans-serif' font-weight="normal" font-size="60.03" fill="#000" >ASM</text>
<rect x="1700.8" y="606.9" width="40.3" height="38.8" fill="none" stroke="#000" stroke-width="3.7"/><text transform="translate(1751.9,647.5) scale(0.8127,1)" font-family='"Liberation Sans", sans-serif' font-weight="normal" font-size="61.77" fill="#000" >ADD</text>
<rect x="1592.8" y="1181.8" width="41.3" height="38.8" fill="none" stroke="#000" stroke-width="3.7"/><text transform="translate(1638.7,1221.9) scale(0.8832,1)" font-family='"Liberation Sans", sans-serif' font-weight="normal" font-size="60.03" fill="#000" >NBO</text>
<rect x="1559.8" y="1293.8" width="41.3" height="39.3" fill="none" stroke="#000" stroke-width="3.7"/><text transform="translate(1447.9,1335.0) scale(0.7832,1)" font-family='"Liberation Sans", sans-serif' font-weight="normal" font-size="62.50" fill="#000" >ARK</text>
<text transform="translate(1857.2,1333.6) scale(1.0903,1)" font-family='"Liberation Serif", serif' font-weight="bold" font-size="83.97" fill="#000" >2</text>
<text transform="translate(1922.5,1334.4) scale(0.8378,1)" font-family='"Liberation Sans", sans-serif' font-weight="normal" font-size="78.46" fill="#000" >(13%)</text>
<rect x="1241.7" y="65.2" width="863.6" height="1286.6" fill="none" stroke="#000" stroke-width="4.4"/>
<line x1="1224.5" y1="121.9" x2="1240.5" y2="121.9" stroke="#000" stroke-width="3.6"/>
<text x="1129.5" y="135.7" font-family='"Liberation Sans", sans-serif' font-weight="normal" font-size="40.96" letter-spacing="4.51" fill="#000">18N</text>
<line x1="1224.5" y1="233.8" x2="1240.5" y2="233.8" stroke="#000" stroke-width="3.6"/>
<text x="1129.5" y="247.6" font-family='"Liberation Sans", sans-serif' font-weight="normal" font-size="40.96" letter-spacing="4.51" fill="#000">16N</text>
<line x1="1224.5" y1="345.6" x2="1240.5" y2="345.6" stroke="#000" stroke-width="3.6"/>
<text x="1129.5" y="359.0" font-family='"Liberation Sans", sans-serif' font-weight="normal" font-size="40.96" letter-spacing="4.51" fill="#000">14N</text>
<line x1="1224.5" y1="457.5" x2="1240.5" y2="457.5" stroke="#000" stroke-width="3.6"/>
<text x="1129.5" y="471.3" font-family='"Liberation Sans", sans-serif' font-weight="normal" font-size="40.96" letter-spacing="4.51" fill="#000">12N</text>
<line x1="1224.5" y1="569.4" x2="1240.5" y2="569.4" stroke="#000" stroke-width="3.6"/>
<text x="1129.5" y="583.2" font-family='"Liberation Sans", sans-serif' font-weight="normal" font-size="40.96" letter-spacing="4.51" fill="#000">10N</text>
<line x1="1224.5" y1="681.2" x2="1240.5" y2="681.2" stroke="#000" stroke-width="3.6"/>
<text x="1157.1" y="695.0" font-family='"Liberation Sans", sans-serif' font-weight="normal" font-size="40.96" letter-spacing="4.16" fill="#000">8N</text>
<line x1="1224.5" y1="793.1" x2="1240.5" y2="793.1" stroke="#000" stroke-width="3.6"/>
<text x="1156.8" y="806.9" font-family='"Liberation Sans", sans-serif' font-weight="normal" font-size="40.96" letter-spacing="4.46" fill="#000">6N</text>
<line x1="1224.5" y1="905.0" x2="1240.5" y2="905.0" stroke="#000" stroke-width="3.6"/>
<text x="1158.0" y="918.3" font-family='"Liberation Sans", sans-serif' font-weight="normal" font-size="40.96" letter-spacing="3.32" fill="#000">4N</text>
<line x1="1224.5" y1="1016.8" x2="1240.5" y2="1016.8" stroke="#000" stroke-width="3.6"/>
<text x="1156.8" y="1030.6" font-family='"Liberation Sans", sans-serif' font-weight="normal" font-size="40.96" letter-spacing="4.44" fill="#000">2N</text>
<line x1="1224.5" y1="1128.7" x2="1240.5" y2="1128.7" stroke="#000" stroke-width="3.6"/>
<text x="1155.5" y="1142.5" font-family='"Liberation Sans", sans-serif' font-weight="normal" font-size="40.96" letter-spacing="-2.46" fill="#000">EQ</text>
<line x1="1224.5" y1="1240.5" x2="1240.5" y2="1240.5" stroke="#000" stroke-width="3.6"/>
<text x="1156.8" y="1254.3" font-family='"Liberation Sans", sans-serif' font-weight="normal" font-size="40.96" letter-spacing="5.24" fill="#000">2S</text>
<line x1="1224.5" y1="1352.4" x2="1240.5" y2="1352.4" stroke="#000" stroke-width="3.6"/>
<text x="1158.0" y="1366.2" font-family='"Liberation Sans", sans-serif' font-weight="normal" font-size="40.96" letter-spacing="4.12" fill="#000">4S</text>
<line x1="1241.5" y1="1351.0" x2="1241.5" y2="1364.0" stroke="#000" stroke-width="3.6"/>
<line x1="1299.1" y1="1351.0" x2="1299.1" y2="1364.0" stroke="#000" stroke-width="3"/>
<line x1="1356.6" y1="1351.0" x2="1356.6" y2="1364.0" stroke="#000" stroke-width="3"/>
<line x1="1414.2" y1="1351.0" x2="1414.2" y2="1364.0" stroke="#000" stroke-width="3.6"/>
<line x1="1471.8" y1="1351.0" x2="1471.8" y2="1364.0" stroke="#000" stroke-width="3"/>
<line x1="1529.3" y1="1351.0" x2="1529.3" y2="1364.0" stroke="#000" stroke-width="3"/>
<line x1="1586.9" y1="1351.0" x2="1586.9" y2="1364.0" stroke="#000" stroke-width="3.6"/>
<line x1="1644.5" y1="1351.0" x2="1644.5" y2="1364.0" stroke="#000" stroke-width="3"/>
<line x1="1702.1" y1="1351.0" x2="1702.1" y2="1364.0" stroke="#000" stroke-width="3"/>
<line x1="1759.6" y1="1351.0" x2="1759.6" y2="1364.0" stroke="#000" stroke-width="3.6"/>
<line x1="1817.2" y1="1351.0" x2="1817.2" y2="1364.0" stroke="#000" stroke-width="3"/>
<line x1="1874.8" y1="1351.0" x2="1874.8" y2="1364.0" stroke="#000" stroke-width="3"/>
<line x1="1932.3" y1="1351.0" x2="1932.3" y2="1364.0" stroke="#000" stroke-width="3.6"/>
<line x1="1989.9" y1="1351.0" x2="1989.9" y2="1364.0" stroke="#000" stroke-width="3"/>
<line x1="2047.5" y1="1351.0" x2="2047.5" y2="1364.0" stroke="#000" stroke-width="3"/>
<line x1="2105.1" y1="1351.0" x2="2105.1" y2="1364.0" stroke="#000" stroke-width="3.6"/>
<text transform="translate(1211.1,1410.5) scale(0.9860,1)" font-family='"Liberation Sans", sans-serif' font-weight="normal" font-size="44.49" fill="#000" >30E</text>
<text transform="translate(1383.8,1410.5) scale(0.9860,1)" font-family='"Liberation Sans", sans-serif' font-weight="normal" font-size="44.49" fill="#000" >33E</text>
<text transform="translate(1556.5,1410.5) scale(0.9860,1)" font-family='"Liberation Sans", sans-serif' font-weight="normal" font-size="44.49" fill="#000" >36E</text>
<text transform="translate(1729.2,1410.5) scale(0.9860,1)" font-family='"Liberation Sans", sans-serif' font-weight="normal" font-size="44.49" fill="#000" >39E</text>
<text transform="translate(1902.6,1410.9) scale(0.9638,1)" font-family='"Liberation Sans", sans-serif' font-weight="normal" font-size="45.11" fill="#000" >42E</text>
<text transform="translate(2075.3,1410.5) scale(0.9632,1)" font-family='"Liberation Sans", sans-serif' font-weight="normal" font-size="45.14" fill="#000" >45E</text>
<text transform="translate(2136.7,1330.2) scale(0.9920,1)" font-family='"Liberation Serif", serif' font-weight="bold" font-size="120.04" fill="#000" >a</text>
<line x1="230.3" y1="1806.4" x2="2093" y2="1806.4" stroke="#ececec" stroke-width="2" stroke-dasharray="7,5"/>
<line x1="230.3" y1="2019.0" x2="2093" y2="2019.0" stroke="#ececec" stroke-width="2" stroke-dasharray="7,5"/>
<line x1="230.3" y1="2231.7" x2="2093" y2="2231.7" stroke="#ececec" stroke-width="2" stroke-dasharray="7,5"/>
<path d="M227.3,1593.7 L2096,1593.7 L2096,2444.3 L227.3,2444.3 Z" fill="none" stroke="#000" stroke-width="4.6"/>
<line x1="205.3" y1="1593.7" x2="227.3" y2="1593.7" stroke="#000" stroke-width="4.6"/>
<line x1="205.3" y1="1806.4" x2="227.3" y2="1806.4" stroke="#000" stroke-width="4.6"/>
<line x1="205.3" y1="2019.0" x2="227.3" y2="2019.0" stroke="#000" stroke-width="4.6"/>
<line x1="205.3" y1="2231.7" x2="227.3" y2="2231.7" stroke="#000" stroke-width="4.6"/>
<line x1="205.3" y1="2444.3" x2="227.3" y2="2444.3" stroke="#000" stroke-width="4.6"/>
<line x1="227.3" y1="2444.3" x2="227.3" y2="2467.3" stroke="#000" stroke-width="4.6"/>
<line x1="403.9" y1="2444.3" x2="403.9" y2="2467.3" stroke="#000" stroke-width="4.6"/>
<line x1="580.6" y1="2444.3" x2="580.6" y2="2467.3" stroke="#000" stroke-width="4.6"/>
<line x1="757.2" y1="2444.3" x2="757.2" y2="2467.3" stroke="#000" stroke-width="4.6"/>
<line x1="933.8" y1="2444.3" x2="933.8" y2="2467.3" stroke="#000" stroke-width="4.6"/>
<line x1="1110.5" y1="2444.3" x2="1110.5" y2="2467.3" stroke="#000" stroke-width="4.6"/>
<line x1="1287.1" y1="2444.3" x2="1287.1" y2="2467.3" stroke="#000" stroke-width="4.6"/>
<line x1="1463.7" y1="2444.3" x2="1463.7" y2="2467.3" stroke="#000" stroke-width="4.6"/>
<line x1="1640.3" y1="2444.3" x2="1640.3" y2="2467.3" stroke="#000" stroke-width="4.6"/>
<line x1="1817.0" y1="2444.3" x2="1817.0" y2="2467.3" stroke="#000" stroke-width="4.6"/>
<line x1="1993.6" y1="2444.3" x2="1993.6" y2="2467.3" stroke="#000" stroke-width="4.6"/>
<text transform="translate(126.0,1611.7) scale(0.9100,1)" font-family='"Liberation Sans", sans-serif' font-weight="normal" font-size="63.69" fill="#000" >4</text>
<text transform="translate(127.2,1825.0) scale(0.9100,1)" font-family='"Liberation Sans", sans-serif' font-weight="normal" font-size="63.69" fill="#000" >2</text>
<text transform="translate(126.5,2037.7) scale(0.9100,1)" font-family='"Liberation Sans", sans-serif' font-weight="normal" font-size="63.69" fill="#000" >0</text>
<text transform="translate(107.9,2250.3) scale(0.9100,1)" font-family='"Liberation Sans", sans-serif' font-weight="normal" font-size="63.69" fill="#000" >-2</text>
<text transform="translate(106.7,2462.3) scale(0.9100,1)" font-family='"Liberation Sans", sans-serif' font-weight="normal" font-size="63.69" fill="#000" >-4</text>
<text transform="translate(155.0,2561.2) scale(1.0223,1)" font-family='"Liberation Sans", sans-serif' font-weight="normal" font-size="64.69" fill="#000" >1970</text>
<text transform="translate(331.6,2561.2) scale(1.0238,1)" font-family='"Liberation Sans", sans-serif' font-weight="normal" font-size="64.69" fill="#000" >1975</text>
<text transform="translate(508.3,2561.2) scale(1.0223,1)" font-family='"Liberation Sans", sans-serif' font-weight="normal" font-size="64.69" fill="#000" >1980</text>
<text transform="translate(684.9,2561.2) scale(1.0238,1)" font-family='"Liberation Sans", sans-serif' font-weight="normal" font-size="64.69" fill="#000" >1985</text>
<text transform="translate(861.5,2561.2) scale(1.0223,1)" font-family='"Liberation Sans", sans-serif' font-weight="normal" font-size="64.69" fill="#000" >1990</text>
<text transform="translate(1038.2,2561.2) scale(1.0238,1)" font-family='"Liberation Sans", sans-serif' font-weight="normal" font-size="64.69" fill="#000" >1995</text>
<text transform="translate(1216.5,2561.2) scale(1.0099,1)" font-family='"Liberation Sans", sans-serif' font-weight="normal" font-size="64.69" fill="#000" >2000</text>
<text transform="translate(1393.2,2561.2) scale(1.0113,1)" font-family='"Liberation Sans", sans-serif' font-weight="normal" font-size="64.69" fill="#000" >2005</text>
<text transform="translate(1569.8,2561.2) scale(1.0099,1)" font-family='"Liberation Sans", sans-serif' font-weight="normal" font-size="64.69" fill="#000" >2010</text>
<text transform="translate(1746.4,2561.2) scale(1.0113,1)" font-family='"Liberation Sans", sans-serif' font-weight="normal" font-size="64.69" fill="#000" >2015</text>
<text transform="translate(1923.1,2561.2) scale(1.0099,1)" font-family='"Liberation Sans", sans-serif' font-weight="normal" font-size="64.69" fill="#000" >2020</text>
<text transform="translate(992.1,1548.6) scale(0.9724,1)" font-family='"Liberation Sans", sans-serif' font-weight="normal" font-size="76.40" fill="#000" >p.evap PC1</text>
<text transform="translate(81.1,2287.6) rotate(-90) scale(1.0478,1)" font-family='"Liberation Sans", sans-serif' font-weight="normal" font-size="58.68" fill="#000" >Normalized anomaly</text>
<text transform="translate(2138.5,2448.0) scale(1.2020,1)" font-family='"Liberation Serif", serif' font-weight="bold" font-size="100.91" fill="#000" >b</text>
<path d="M230.1,2105.2 C231.0,2097.9 233.2,2072.0 235.2,2061.3 C237.2,2050.6 240.0,2048.4 241.9,2041.1 C243.9,2033.7 245.3,2029.2 247.0,2017.4 C248.7,2005.6 250.4,1984.2 252.1,1970.2 C253.8,1956.1 255.4,1935.3 257.1,1933.0 C258.8,1930.8 260.5,1943.7 262.2,1956.7 C263.9,1969.6 265.6,1987.6 267.3,2010.7 C268.9,2033.7 270.9,2068.6 272.3,2095.1 C273.7,2121.5 274.6,2153.0 275.7,2169.3 C276.8,2185.6 277.7,2193.0 279.1,2193.0 C280.5,2193.0 282.4,2183.4 284.1,2169.3 C285.8,2155.3 287.8,2123.8 289.2,2108.6 C290.6,2093.4 291.3,2085.2 292.6,2078.2 C293.9,2071.2 295.3,2065.2 297.0,2066.4 C298.6,2067.5 300.9,2077.3 302.7,2084.9 C304.5,2092.5 306.1,2104.6 307.8,2111.9 C309.5,2119.3 311.4,2125.4 312.8,2128.8 C314.2,2132.2 314.8,2134.4 316.2,2132.2 C317.6,2129.9 319.6,2129.9 321.3,2115.3 C323.0,2100.7 324.8,2065.2 326.3,2044.4 C327.9,2023.6 329.2,1995.5 330.7,1990.4 C332.2,1985.4 333.9,1999.4 335.4,2014.1 C337.0,2028.7 338.3,2061.9 339.8,2078.2 C341.4,2094.5 343.2,2109.1 344.9,2111.9 C346.6,2114.8 348.3,2106.3 350.0,2095.1 C351.6,2083.8 353.5,2056.5 355.0,2044.4 C356.5,2032.3 357.7,2023.1 359.1,2022.5 C360.5,2021.9 362.0,2026.1 363.5,2041.1 C364.9,2056.0 366.2,2090.0 367.8,2111.9 C369.5,2133.9 371.9,2158.9 373.6,2172.7 C375.3,2186.5 376.3,2195.2 378.0,2194.6 C379.7,2194.1 381.6,2185.9 383.7,2169.3 C385.8,2152.7 388.4,2112.5 390.5,2095.1 C392.5,2077.6 394.2,2064.7 396.2,2064.7 C398.2,2064.7 400.1,2078.7 402.3,2095.1 C404.4,2111.4 406.9,2140.6 409.0,2162.6 C411.2,2184.5 413.4,2212.6 415.1,2226.7 C416.8,2240.8 417.6,2248.6 419.2,2247.0 C420.7,2245.3 422.6,2230.6 424.2,2216.6 C425.8,2202.5 427.3,2175.5 428.6,2162.6 C429.9,2149.6 430.6,2140.6 432.0,2138.9 C433.3,2137.3 435.2,2148.2 436.7,2152.4 C438.2,2156.7 439.5,2163.1 441.1,2164.3 C442.7,2165.4 444.1,2163.7 446.2,2159.2 C448.2,2154.7 451.3,2137.8 453.6,2137.3 C455.8,2136.7 457.8,2148.8 459.7,2155.8 C461.5,2162.9 463.0,2172.7 464.7,2179.5 C466.4,2186.2 467.8,2196.9 469.8,2196.3 C471.8,2195.8 474.3,2181.1 476.5,2176.1 C478.8,2171.0 481.3,2169.3 483.3,2165.9 C485.3,2162.6 486.7,2157.8 488.4,2155.8 C490.0,2153.9 491.7,2151.9 493.4,2154.1 C495.1,2156.4 496.8,2161.2 498.5,2169.3 C500.2,2177.5 501.9,2193.0 503.5,2203.1 C505.2,2213.2 506.9,2229.0 508.6,2230.1 C510.3,2231.2 511.7,2221.1 513.7,2209.8 C515.6,2198.6 518.5,2173.0 520.4,2162.6 C522.4,2152.2 523.8,2146.3 525.5,2147.4 C527.2,2148.5 528.9,2155.5 530.5,2169.3 C532.2,2183.1 534.2,2209.8 535.6,2230.1 C537.0,2250.3 537.7,2274.8 539.0,2290.8 C540.2,2306.9 541.6,2326.3 543.0,2326.3 C544.4,2326.3 545.9,2312.5 547.4,2290.8 C549.0,2269.2 550.9,2226.1 552.5,2196.3 C554.1,2166.5 555.5,2132.8 556.9,2111.9 C558.3,2091.1 559.6,2081.0 560.9,2071.4 C562.3,2061.9 563.3,2054.6 565.0,2054.6 C566.7,2054.6 568.9,2061.9 571.1,2071.4 C573.2,2081.0 575.8,2100.7 577.8,2111.9 C579.8,2123.2 581.5,2132.8 582.9,2138.9 C584.3,2145.1 584.8,2151.9 586.2,2149.1 C587.7,2146.3 589.6,2136.7 591.3,2122.1 C593.0,2107.4 594.7,2074.5 596.4,2061.3 C598.1,2048.1 599.4,2043.3 601.4,2042.7 C603.4,2042.2 606.7,2050.9 608.4,2057.9 C610.2,2065.0 610.7,2077.6 611.8,2084.9 C612.9,2092.3 613.8,2098.4 615.2,2101.8 C616.6,2105.2 617.7,2104.1 620.3,2105.2 C622.8,2106.3 627.8,2110.3 630.4,2108.6 C632.9,2106.9 634.0,2100.1 635.4,2095.1 C636.8,2090.0 637.5,2082.7 638.8,2078.2 C640.1,2073.7 641.5,2068.1 643.2,2068.1 C644.9,2068.1 647.1,2075.4 648.9,2078.2 C650.7,2081.0 652.0,2086.6 654.0,2084.9 C656.0,2083.2 658.8,2068.6 660.8,2068.1 C662.7,2067.5 664.4,2074.2 665.8,2081.6 C667.2,2088.9 668.1,2101.3 669.2,2111.9 C670.3,2122.6 671.6,2138.4 672.6,2145.7 C673.5,2153.0 673.8,2161.4 674.9,2155.8 C676.1,2150.2 678.0,2130.5 679.3,2111.9 C680.6,2093.4 681.6,2062.4 682.7,2044.4 C683.8,2026.4 685.0,2012.9 686.1,2003.9 C687.2,1994.9 688.2,1989.3 689.5,1990.4 C690.7,1991.5 692.4,1998.9 693.8,2010.7 C695.2,2022.5 696.5,2045.0 697.9,2061.3 C699.2,2077.6 700.7,2098.7 701.9,2108.6 C703.2,2118.4 704.0,2122.6 705.3,2120.4 C706.6,2118.1 708.4,2106.0 709.7,2095.1 C711.0,2084.1 711.7,2068.1 713.1,2054.6 C714.5,2041.1 716.6,2021.4 718.1,2014.1 C719.7,2006.7 720.8,2009.8 722.2,2010.7 C723.6,2011.5 725.0,2018.0 726.6,2019.1 C728.2,2020.2 730.0,2021.1 731.6,2017.4 C733.3,2013.8 734.7,2003.4 736.7,1997.2 C738.7,1991.0 741.5,1980.3 743.5,1980.3 C745.4,1980.3 747.1,1986.5 748.5,1997.2 C749.9,2007.9 750.8,2025.3 751.9,2044.4 C753.0,2063.6 754.1,2089.4 755.3,2111.9 C756.4,2134.4 757.4,2158.6 758.6,2179.5 C759.9,2200.3 761.5,2223.9 762.7,2236.8 C763.9,2249.8 764.8,2257.1 766.1,2257.1 C767.4,2257.1 768.9,2247.0 770.5,2236.8 C772.0,2226.7 773.6,2209.5 775.5,2196.3 C777.5,2183.1 780.3,2162.6 782.3,2157.5 C784.2,2152.4 785.7,2165.1 787.3,2165.9 C789.0,2166.8 790.7,2166.5 792.4,2162.6 C794.1,2158.6 795.8,2150.2 797.5,2142.3 C799.2,2134.4 800.8,2120.9 802.5,2115.3 C804.2,2109.7 805.9,2112.8 807.6,2108.6 C809.3,2104.3 811.0,2093.4 812.7,2090.0 C814.3,2086.6 816.0,2087.7 817.7,2088.3 C819.4,2088.9 820.8,2092.3 822.8,2093.4 C824.8,2094.5 827.8,2097.6 829.5,2095.1 C831.2,2092.5 831.8,2086.6 832.9,2078.2 C834.0,2069.7 834.9,2058.5 836.3,2044.4 C837.7,2030.4 839.5,2006.5 841.4,1993.8 C843.2,1981.1 845.4,1971.3 847.1,1968.5 C848.8,1965.7 849.9,1971.0 851.5,1976.9 C853.1,1982.8 854.9,1997.7 856.5,2003.9 C858.2,2010.1 859.6,2011.2 861.6,2014.1 C863.6,2016.9 866.4,2015.7 868.4,2020.8 C870.3,2025.9 872.0,2034.9 873.4,2044.4 C874.8,2054.0 875.7,2070.9 876.8,2078.2 C877.9,2085.5 878.8,2090.0 880.2,2088.3 C881.6,2086.6 883.8,2072.8 885.2,2068.1 C886.6,2063.3 887.2,2059.1 888.6,2059.6 C890.0,2060.2 892.0,2066.7 893.7,2071.4 C895.4,2076.2 897.0,2087.2 898.7,2088.3 C900.4,2089.4 902.1,2083.8 903.8,2078.2 C905.5,2072.6 907.3,2060.5 908.9,2054.6 C910.4,2048.6 911.8,2042.7 913.2,2042.7 C914.7,2042.7 915.8,2045.8 917.3,2054.6 C918.8,2063.3 921.0,2081.6 922.4,2095.1 C923.8,2108.6 924.7,2126.0 925.7,2135.6 C926.8,2145.1 927.3,2153.6 928.4,2152.4 C929.6,2151.3 931.3,2144.0 932.5,2128.8 C933.7,2113.6 934.7,2086.6 935.9,2061.3 C937.0,2036.0 938.1,1998.3 939.2,1976.9 C940.4,1955.5 941.5,1942.9 942.6,1933.0 C943.7,1923.2 944.6,1917.8 946.0,1917.8 C947.4,1917.8 949.4,1922.1 951.1,1933.0 C952.7,1944.0 954.4,1963.4 956.1,1983.7 C957.8,2003.9 959.5,2033.2 961.2,2054.6 C962.9,2075.9 964.6,2098.7 966.2,2111.9 C967.9,2125.2 969.6,2130.5 971.3,2133.9 C973.0,2137.3 974.7,2137.0 976.4,2132.2 C978.1,2127.4 979.7,2115.9 981.4,2105.2 C983.1,2094.5 984.8,2077.3 986.5,2068.1 C988.2,2058.8 990.4,2052.6 991.6,2049.5 C992.7,2046.4 992.3,2049.8 993.5,2049.5 C994.7,2049.2 996.9,2052.0 998.6,2047.8 C1000.3,2043.6 1001.8,2030.6 1003.6,2024.2 C1005.5,2017.7 1008.0,2009.5 1009.7,2009.0 C1011.4,2008.4 1012.2,2013.2 1013.8,2020.8 C1015.3,2028.4 1017.4,2044.4 1018.8,2054.6 C1020.2,2064.7 1020.8,2069.2 1022.2,2081.6 C1023.6,2093.9 1025.6,2116.4 1027.3,2128.8 C1028.9,2141.2 1030.6,2155.8 1032.3,2155.8 C1034.0,2155.8 1035.7,2141.8 1037.4,2128.8 C1039.1,2115.9 1040.8,2095.1 1042.4,2078.2 C1044.1,2061.3 1045.8,2044.4 1047.5,2027.6 C1049.2,2010.7 1051.0,1990.4 1052.6,1976.9 C1054.1,1963.4 1055.3,1952.7 1057.0,1946.5 C1058.6,1940.4 1061.0,1942.0 1062.7,1939.8 C1064.4,1937.5 1065.8,1935.6 1067.1,1933.0 C1068.4,1930.5 1069.2,1923.5 1070.5,1924.6 C1071.7,1925.7 1073.3,1931.1 1074.5,1939.8 C1075.8,1948.5 1076.8,1962.3 1077.9,1976.9 C1079.0,1991.5 1080.1,2011.8 1081.3,2027.6 C1082.4,2043.3 1083.2,2060.2 1084.6,2071.4 C1086.0,2082.7 1088.3,2090.3 1089.7,2095.1 C1091.1,2099.8 1091.7,2101.3 1093.1,2100.1 C1094.5,2099.0 1096.5,2094.8 1098.1,2088.3 C1099.8,2081.8 1101.5,2072.6 1103.2,2061.3 C1104.9,2050.1 1106.6,2030.4 1108.3,2020.8 C1110.0,2011.2 1111.5,2007.6 1113.3,2003.9 C1115.1,2000.3 1117.4,1998.3 1119.1,1998.9 C1120.8,1999.4 1121.9,2002.5 1123.5,2007.3 C1125.0,2012.1 1126.6,2020.8 1128.5,2027.6 C1130.5,2034.3 1133.3,2039.4 1135.3,2047.8 C1137.2,2056.2 1138.6,2065.8 1140.3,2078.2 C1142.0,2090.6 1143.7,2109.7 1145.4,2122.1 C1147.1,2134.4 1149.1,2146.0 1150.5,2152.4 C1151.9,2158.9 1152.4,2162.6 1153.8,2160.9 C1155.2,2159.2 1157.2,2153.3 1158.9,2142.3 C1160.6,2131.4 1162.3,2113.1 1164.0,2095.1 C1165.7,2077.1 1167.6,2052.3 1169.0,2034.3 C1170.4,2016.3 1171.3,1998.3 1172.4,1987.0 C1173.5,1975.8 1174.5,1966.8 1175.8,1966.8 C1177.0,1966.8 1178.4,1975.2 1179.8,1987.0 C1181.2,1998.9 1182.9,2027.0 1184.2,2037.7 C1185.5,2048.4 1186.5,2052.9 1187.6,2051.2 C1188.7,2049.5 1189.8,2038.8 1191.0,2027.6 C1192.1,2016.3 1193.4,1992.7 1194.3,1983.7 C1195.3,1974.7 1195.8,1971.9 1196.7,1973.5 C1197.7,1975.2 1199.0,1979.2 1200.1,1993.8 C1201.2,2008.4 1202.3,2036.0 1203.5,2061.3 C1204.6,2086.6 1205.8,2122.6 1206.8,2145.7 C1207.8,2168.8 1208.5,2196.9 1209.5,2199.7 C1210.5,2202.5 1211.8,2182.8 1212.9,2162.6 C1214.0,2142.3 1215.2,2107.4 1216.3,2078.2 C1217.4,2048.9 1218.5,2011.5 1219.7,1987.0 C1220.8,1962.6 1221.8,1937.5 1223.0,1931.4 C1224.3,1925.2 1225.7,1936.7 1227.1,1949.9 C1228.5,1963.1 1230.0,1995.2 1231.5,2010.7 C1232.9,2026.1 1234.5,2040.5 1235.9,2042.7 C1237.3,2045.0 1238.4,2032.3 1239.9,2024.2 C1241.4,2016.0 1243.4,2000.0 1245.0,1993.8 C1246.6,1987.6 1247.7,1987.0 1249.4,1987.0 C1251.1,1987.0 1253.3,1990.4 1255.1,1993.8 C1256.9,1997.2 1258.5,2001.1 1260.2,2007.3 C1261.9,2013.5 1263.5,2023.1 1265.2,2030.9 C1266.9,2038.8 1268.9,2049.5 1270.3,2054.6 C1271.7,2059.6 1272.4,2063.0 1273.7,2061.3 C1274.9,2059.6 1276.3,2054.6 1277.7,2044.4 C1279.1,2034.3 1280.8,2014.1 1282.1,2000.5 C1283.4,1987.0 1284.2,1972.7 1285.5,1963.4 C1286.8,1954.1 1288.5,1946.0 1289.9,1944.9 C1291.3,1943.7 1292.4,1951.3 1293.9,1956.7 C1295.4,1962.0 1297.0,1971.9 1299.0,1976.9 C1301.0,1982.0 1303.8,1983.7 1305.7,1987.0 C1307.7,1990.4 1309.4,1991.0 1310.8,1997.2 C1312.2,2003.4 1313.1,2016.3 1314.2,2024.2 C1315.3,2032.1 1316.4,2040.2 1317.6,2044.4 C1318.7,2048.6 1319.5,2052.3 1320.9,2049.5 C1322.3,2046.7 1324.0,2034.6 1326.0,2027.6 C1328.0,2020.5 1330.8,2007.9 1332.7,2007.3 C1334.7,2006.7 1336.1,2018.0 1337.8,2024.2 C1339.5,2030.4 1340.7,2040.2 1342.9,2044.4 C1345.0,2048.6 1348.7,2052.3 1350.6,2049.5 C1352.6,2046.7 1353.4,2038.5 1354.7,2027.6 C1355.9,2016.6 1356.9,2000.5 1358.1,1983.7 C1359.2,1966.8 1360.0,1947.1 1361.4,1926.3 C1362.8,1905.5 1365.0,1876.2 1366.5,1858.8 C1368.0,1841.3 1369.1,1822.8 1370.5,1821.6 C1372.0,1820.5 1373.9,1839.1 1375.2,1852.0 C1376.5,1865.0 1377.4,1882.4 1378.6,1899.3 C1379.7,1916.2 1380.8,1939.8 1381.9,1953.3 C1383.1,1966.8 1383.9,1981.4 1385.3,1980.3 C1386.7,1979.2 1388.5,1956.4 1390.4,1946.5 C1392.2,1936.7 1394.8,1922.3 1396.5,1921.2 C1398.1,1920.1 1399.0,1931.6 1400.5,1939.8 C1402.0,1947.9 1403.9,1963.4 1405.6,1970.2 C1407.3,1976.9 1409.1,1980.9 1410.6,1980.3 C1412.2,1979.7 1413.3,1967.4 1414.7,1966.8 C1416.1,1966.2 1417.6,1974.1 1419.1,1976.9 C1420.5,1979.7 1422.1,1985.4 1423.5,1983.7 C1424.9,1982.0 1426.0,1976.4 1427.5,1966.8 C1429.0,1957.2 1430.9,1937.5 1432.6,1926.3 C1434.3,1915.0 1436.1,1905.5 1437.6,1899.3 C1439.2,1893.1 1440.1,1886.9 1441.7,1889.2 C1443.3,1891.4 1445.5,1904.9 1447.1,1912.8 C1448.7,1920.7 1449.9,1931.6 1451.1,1936.4 C1452.4,1941.2 1453.1,1944.3 1454.5,1941.5 C1455.9,1938.7 1458.0,1925.7 1459.6,1919.5 C1461.2,1913.3 1462.6,1903.8 1464.0,1904.3 C1465.4,1904.9 1466.5,1914.2 1468.0,1922.9 C1469.5,1931.6 1471.7,1948.2 1473.1,1956.7 C1474.5,1965.1 1475.2,1975.8 1476.5,1973.5 C1477.7,1971.3 1479.4,1955.5 1480.8,1943.2 C1482.3,1930.8 1483.5,1909.4 1484.9,1899.3 C1486.2,1889.2 1487.5,1881.3 1488.9,1882.4 C1490.4,1883.5 1492.0,1895.3 1493.3,1906.0 C1494.6,1916.7 1495.6,1934.2 1496.7,1946.5 C1497.8,1958.9 1499.0,1971.6 1500.1,1980.3 C1501.2,1989.0 1501.8,1995.5 1503.5,1998.9 C1505.1,2002.2 1508.2,1998.0 1510.2,2000.5 C1512.2,2003.1 1513.6,2007.3 1515.3,2014.1 C1517.0,2020.8 1518.6,2033.7 1520.3,2041.1 C1522.0,2048.4 1523.7,2060.2 1525.4,2057.9 C1527.1,2055.7 1528.9,2041.1 1530.5,2027.6 C1532.0,2014.1 1533.4,1988.7 1534.9,1976.9 C1536.3,1965.1 1537.4,1953.9 1538.9,1956.7 C1540.4,1959.5 1542.6,1982.5 1544.0,1993.8 C1545.4,2005.0 1546.2,2017.4 1547.3,2024.2 C1548.5,2030.9 1549.4,2036.0 1550.7,2034.3 C1552.0,2032.6 1553.7,2021.9 1555.1,2014.1 C1556.5,2006.2 1557.9,1993.0 1559.2,1987.0 C1560.4,1981.1 1561.3,1977.5 1562.5,1978.6 C1563.8,1979.7 1565.2,1989.3 1566.6,1993.8 C1568.0,1998.3 1569.4,2005.6 1571.0,2005.6 C1572.5,2005.6 1574.1,1998.6 1576.0,1993.8 C1578.0,1989.0 1580.5,1982.5 1582.8,1976.9 C1585.0,1971.3 1587.3,1964.8 1589.5,1960.0 C1591.8,1955.3 1594.3,1951.6 1596.3,1948.2 C1598.3,1944.9 1599.9,1946.3 1601.4,1939.8 C1602.8,1933.3 1603.6,1922.9 1604.7,1909.4 C1605.9,1895.9 1606.7,1877.3 1608.1,1858.8 C1609.5,1840.2 1611.5,1813.5 1613.2,1798.0 C1614.9,1782.5 1616.5,1768.2 1618.2,1765.9 C1619.9,1763.7 1621.6,1771.9 1623.3,1784.5 C1625.0,1797.2 1626.9,1821.1 1628.4,1841.9 C1629.8,1862.7 1630.6,1886.9 1631.7,1909.4 C1632.9,1931.9 1634.0,1956.1 1635.1,1976.9 C1636.2,1997.7 1637.6,2023.1 1638.5,2034.3 C1639.3,2045.6 1639.0,2046.7 1640.2,2044.4 C1641.3,2042.2 1643.8,2029.8 1645.2,2020.8 C1646.6,2011.8 1647.2,1997.5 1648.6,1990.4 C1650.0,1983.4 1652.0,1981.4 1653.7,1978.6 C1655.4,1975.8 1657.0,1977.8 1658.7,1973.5 C1660.4,1969.3 1662.1,1961.2 1663.8,1953.3 C1665.5,1945.4 1667.2,1936.4 1668.9,1926.3 C1670.5,1916.2 1672.2,1902.1 1673.9,1892.5 C1675.6,1883.0 1677.6,1873.7 1679.0,1868.9 C1680.4,1864.1 1681.1,1861.0 1682.4,1863.8 C1683.7,1866.7 1685.3,1875.4 1686.8,1885.8 C1688.2,1896.2 1689.6,1912.8 1690.8,1926.3 C1692.0,1939.8 1693.1,1956.7 1694.2,1966.8 C1695.3,1976.9 1696.1,1988.2 1697.6,1987.0 C1699.0,1985.9 1701.2,1975.8 1702.6,1960.0 C1704.0,1944.3 1704.9,1910.5 1706.0,1892.5 C1707.1,1874.5 1708.4,1860.5 1709.4,1852.0 C1710.3,1843.6 1710.6,1839.1 1711.7,1841.9 C1712.9,1844.7 1714.8,1857.7 1716.1,1868.9 C1717.4,1880.2 1718.1,1891.4 1719.5,1909.4 C1720.9,1927.4 1722.9,1960.6 1724.6,1976.9 C1726.2,1993.2 1728.2,2002.0 1729.6,2007.3 C1731.0,2012.6 1731.6,2010.1 1733.0,2009.0 C1734.4,2007.9 1736.4,2004.2 1738.1,2000.5 C1739.7,1996.9 1741.4,1994.4 1743.1,1987.0 C1744.8,1979.7 1746.6,1964.8 1748.2,1956.7 C1749.8,1948.5 1751.3,1938.1 1752.8,1938.1 C1754.4,1938.1 1756.2,1949.6 1757.6,1956.7 C1758.9,1963.7 1759.6,1974.7 1760.9,1980.3 C1762.2,1985.9 1763.7,1990.4 1765.3,1990.4 C1766.9,1990.4 1769.0,1982.3 1770.4,1980.3 C1771.8,1978.3 1772.5,1976.4 1773.8,1978.6 C1775.0,1980.9 1776.7,1987.9 1777.8,1993.8 C1778.9,1999.7 1779.4,2007.6 1780.5,2014.1 C1781.6,2020.5 1783.2,2032.6 1784.6,2032.6 C1786.0,2032.6 1787.5,2021.6 1788.9,2014.1 C1790.4,2006.5 1791.9,1994.9 1793.3,1987.0 C1794.7,1979.2 1795.9,1971.9 1797.4,1966.8 C1798.9,1961.7 1801.0,1962.3 1802.4,1956.7 C1803.9,1951.0 1804.7,1943.7 1805.8,1933.0 C1806.9,1922.3 1808.1,1903.8 1809.2,1892.5 C1810.3,1881.3 1811.2,1867.8 1812.6,1865.5 C1814.0,1863.3 1816.1,1875.4 1817.6,1879.0 C1819.2,1882.7 1820.3,1892.0 1821.7,1887.5 C1823.1,1883.0 1824.8,1865.2 1826.1,1852.0 C1827.4,1838.8 1828.3,1820.5 1829.5,1808.1 C1830.6,1795.8 1831.5,1779.5 1832.8,1777.8 C1834.1,1776.1 1835.9,1787.3 1837.2,1798.0 C1838.5,1808.7 1839.4,1826.1 1840.6,1841.9 C1841.8,1857.7 1843.4,1881.8 1844.6,1892.5 C1845.9,1903.2 1846.6,1903.2 1848.0,1906.0 C1849.4,1908.8 1851.7,1907.2 1853.1,1909.4 C1854.5,1911.7 1855.3,1917.3 1856.5,1919.5 C1857.6,1921.8 1858.5,1929.7 1859.8,1922.9 C1861.1,1916.2 1862.8,1898.2 1864.2,1879.0 C1865.6,1859.9 1866.9,1831.2 1868.3,1808.1 C1869.7,1785.1 1871.3,1756.1 1872.7,1740.6 C1874.1,1725.2 1875.2,1714.2 1876.7,1715.3 C1878.2,1716.4 1880.1,1731.9 1881.8,1747.4 C1883.5,1762.9 1885.1,1789.6 1886.8,1808.1 C1888.5,1826.7 1890.2,1845.3 1891.9,1858.8 C1893.6,1872.3 1895.3,1882.7 1897.0,1889.2 C1898.6,1895.6 1900.3,1902.7 1902.0,1897.6 C1903.7,1892.5 1905.4,1873.4 1907.1,1858.8 C1908.8,1844.1 1910.7,1814.3 1912.2,1809.8 C1913.6,1805.3 1914.4,1818.0 1915.5,1831.8 C1916.7,1845.6 1917.8,1868.3 1918.9,1892.5 C1920.0,1916.7 1921.2,1953.3 1922.3,1976.9 C1923.4,2000.5 1924.7,2022.8 1925.7,2034.3 C1926.6,2045.8 1927.0,2047.2 1928.0,2046.1 C1929.0,2045.0 1930.4,2041.9 1931.7,2027.6 C1933.0,2013.2 1934.5,1985.4 1935.8,1960.0 C1937.0,1934.7 1938.0,1899.3 1939.2,1875.7 C1940.3,1852.0 1941.4,1832.3 1942.5,1818.3 C1943.7,1804.2 1944.7,1793.5 1945.9,1791.3 C1947.1,1789.0 1948.3,1802.0 1950.0,1804.8 C1951.6,1807.6 1954.2,1804.8 1956.0,1808.1 C1957.9,1811.5 1959.4,1813.8 1961.1,1825.0 C1962.8,1836.3 1964.6,1856.0 1966.2,1875.7 C1967.7,1895.3 1968.8,1920.7 1970.2,1943.2 C1971.6,1965.7 1973.1,1988.2 1974.6,2010.7 C1976.1,2033.2 1977.6,2058.5 1979.0,2078.2 C1980.4,2097.9 1981.5,2126.0 1983.0,2128.8 C1984.6,2131.6 1986.4,2114.8 1988.1,2095.1 C1989.8,2075.4 1991.8,2032.1 1993.2,2010.7 C1994.6,1989.3 1995.4,1976.1 1996.5,1966.8 C1997.7,1957.5 1998.5,1953.9 1999.9,1955.0 C2001.3,1956.1 2003.3,1964.3 2005.0,1973.5 C2006.7,1982.8 2008.5,2007.3 2010.0,2010.7 C2011.6,2014.1 2012.9,2003.4 2014.1,1993.8 C2015.3,1984.2 2016.3,1967.4 2017.5,1953.3 C2018.6,1939.2 2019.9,1919.3 2021.2,1909.4 C2022.5,1899.6 2023.7,1897.6 2025.2,1894.2 C2026.8,1890.8 2028.6,1892.8 2030.3,1889.2 C2032.0,1885.5 2033.7,1876.2 2035.4,1872.3 C2037.0,1868.3 2038.7,1868.3 2040.4,1865.5 C2042.1,1862.7 2044.1,1862.2 2045.5,1855.4 C2046.9,1848.6 2047.5,1834.6 2048.9,1825.0 C2050.3,1815.5 2052.2,1800.3 2053.9,1798.0 C2055.6,1795.8 2057.4,1807.3 2059.0,1811.5 C2060.6,1815.7 2062.0,1823.9 2063.4,1823.3 C2064.8,1822.8 2066.2,1812.1 2067.4,1808.1 C2068.7,1804.2 2069.5,1798.0 2070.8,1799.7 C2072.1,1801.4 2074.1,1810.7 2075.2,1818.3 C2076.3,1825.9 2076.7,1836.3 2077.6,1845.3 C2078.4,1854.3 2079.4,1862.2 2080.3,1872.3 C2081.1,1882.4 2081.8,1898.4 2082.6,1906.0 C2083.4,1913.6 2084.6,1915.9 2085.0,1917.8" fill="none" stroke="#ff0000" stroke-width="6" stroke-linejoin="round" stroke-linecap="round"/>
<line x1="229" y1="2155.5" x2="2085" y2="1884" stroke="#ff0000" stroke-width="7.5" stroke-dasharray="0.1,17.2" stroke-linecap="round"/>
<text transform="translate(257.2,1674.0) scale(1.0486,1)" font-family='"Liberation Sans", sans-serif' font-weight="normal" font-size="63.73" fill="#ff0000" >upward trend</text>
<text transform="translate(1777.6,2368.2) scale(0.8573,1)" font-family='"Liberation Sans", sans-serif' font-weight="normal" font-size="74.01" fill="#1a1a1a" >R² = 0.54</text>
<line x1="230.7" y1="2924.2" x2="2102.8" y2="2924.2" stroke="#ececec" stroke-width="2" stroke-dasharray="7,5"/>
<line x1="230.7" y1="3136.0" x2="2102.8" y2="3136.0" stroke="#ececec" stroke-width="2" stroke-dasharray="7,5"/>
<line x1="230.7" y1="3347.8" x2="2102.8" y2="3347.8" stroke="#ececec" stroke-width="2" stroke-dasharray="7,5"/>
<path d="M227.7,2712.5 L2105.8,2712.5 L2105.8,3559.5 L227.7,3559.5 Z" fill="none" stroke="#000" stroke-width="4.6"/>
<line x1="205.7" y1="2712.5" x2="227.7" y2="2712.5" stroke="#000" stroke-width="4.6"/>
<line x1="205.7" y1="2924.2" x2="227.7" y2="2924.2" stroke="#000" stroke-width="4.6"/>
<line x1="205.7" y1="3136.0" x2="227.7" y2="3136.0" stroke="#000" stroke-width="4.6"/>
<line x1="205.7" y1="3347.8" x2="227.7" y2="3347.8" stroke="#000" stroke-width="4.6"/>
<line x1="205.7" y1="3559.5" x2="227.7" y2="3559.5" stroke="#000" stroke-width="4.6"/>
<line x1="227.7" y1="3559.5" x2="227.7" y2="3582.5" stroke="#000" stroke-width="4.6"/>
<line x1="405.3" y1="3559.5" x2="405.3" y2="3582.5" stroke="#000" stroke-width="4.6"/>
<line x1="582.9" y1="3559.5" x2="582.9" y2="3582.5" stroke="#000" stroke-width="4.6"/>
<line x1="760.6" y1="3559.5" x2="760.6" y2="3582.5" stroke="#000" stroke-width="4.6"/>
<line x1="938.2" y1="3559.5" x2="938.2" y2="3582.5" stroke="#000" stroke-width="4.6"/>
<line x1="1115.8" y1="3559.5" x2="1115.8" y2="3582.5" stroke="#000" stroke-width="4.6"/>
<line x1="1293.4" y1="3559.5" x2="1293.4" y2="3582.5" stroke="#000" stroke-width="4.6"/>
<line x1="1471.0" y1="3559.5" x2="1471.0" y2="3582.5" stroke="#000" stroke-width="4.6"/>
<line x1="1648.7" y1="3559.5" x2="1648.7" y2="3582.5" stroke="#000" stroke-width="4.6"/>
<line x1="1826.3" y1="3559.5" x2="1826.3" y2="3582.5" stroke="#000" stroke-width="4.6"/>
<line x1="2003.9" y1="3559.5" x2="2003.9" y2="3582.5" stroke="#000" stroke-width="4.6"/>
<text transform="translate(126.0,2730.5) scale(0.9100,1)" font-family='"Liberation Sans", sans-serif' font-weight="normal" font-size="63.69" fill="#000" >4</text>
<text transform="translate(127.2,2942.9) scale(0.9100,1)" font-family='"Liberation Sans", sans-serif' font-weight="normal" font-size="63.69" fill="#000" >2</text>
<text transform="translate(126.5,3154.7) scale(0.9100,1)" font-family='"Liberation Sans", sans-serif' font-weight="normal" font-size="63.69" fill="#000" >0</text>
<text transform="translate(107.9,3366.4) scale(0.9100,1)" font-family='"Liberation Sans", sans-serif' font-weight="normal" font-size="63.69" fill="#000" >-2</text>
<text transform="translate(106.7,3577.5) scale(0.9100,1)" font-family='"Liberation Sans", sans-serif' font-weight="normal" font-size="63.69" fill="#000" >-4</text>
<text transform="translate(155.4,3676.1) scale(1.0135,1)" font-family='"Liberation Sans", sans-serif' font-weight="normal" font-size="65.25" fill="#000" >1970</text>
<text transform="translate(333.0,3676.1) scale(1.0149,1)" font-family='"Liberation Sans", sans-serif' font-weight="normal" font-size="65.25" fill="#000" >1975</text>
<text transform="translate(510.7,3676.1) scale(1.0135,1)" font-family='"Liberation Sans", sans-serif' font-weight="normal" font-size="65.25" fill="#000" >1980</text>
<text transform="translate(688.3,3676.1) scale(1.0149,1)" font-family='"Liberation Sans", sans-serif' font-weight="normal" font-size="65.25" fill="#000" >1985</text>
<text transform="translate(865.9,3676.1) scale(1.0135,1)" font-family='"Liberation Sans", sans-serif' font-weight="normal" font-size="65.25" fill="#000" >1990</text>
<text transform="translate(1043.5,3676.1) scale(1.0149,1)" font-family='"Liberation Sans", sans-serif' font-weight="normal" font-size="65.25" fill="#000" >1995</text>
<text transform="translate(1222.9,3676.1) scale(1.0012,1)" font-family='"Liberation Sans", sans-serif' font-weight="normal" font-size="65.25" fill="#000" >2000</text>
<text transform="translate(1400.5,3676.1) scale(1.0026,1)" font-family='"Liberation Sans", sans-serif' font-weight="normal" font-size="65.25" fill="#000" >2005</text>
<text transform="translate(1578.1,3676.1) scale(1.0012,1)" font-family='"Liberation Sans", sans-serif' font-weight="normal" font-size="65.25" fill="#000" >2010</text>
<text transform="translate(1755.7,3676.1) scale(1.0026,1)" font-family='"Liberation Sans", sans-serif' font-weight="normal" font-size="65.25" fill="#000" >2015</text>
<text transform="translate(1933.4,3676.1) scale(1.0012,1)" font-family='"Liberation Sans", sans-serif' font-weight="normal" font-size="65.25" fill="#000" >2020</text>
<text transform="translate(1014.2,2666.1) scale(0.9712,1)" font-family='"Liberation Sans", sans-serif' font-weight="normal" font-size="77.06" fill="#000" >p.evap PC2</text>
<text transform="translate(81.1,3413.9) rotate(-90) scale(1.0548,1)" font-family='"Liberation Sans", sans-serif' font-weight="normal" font-size="58.68" fill="#000" >Normalized anomaly</text>
<text transform="translate(2135.0,3564.8) scale(1.0211,1)" font-family='"Liberation Serif", serif' font-weight="bold" font-size="122.17" fill="#000" >c</text>
<path d="M230.1,3292.2 C230.7,3283.2 232.4,3255.6 233.5,3238.2 C234.6,3220.7 235.8,3201.1 236.9,3187.6 C238.0,3174.1 239.0,3163.9 240.3,3157.2 C241.5,3150.4 242.9,3147.6 244.3,3147.0 C245.7,3146.5 247.4,3151.5 248.7,3153.8 C250.0,3156.0 250.7,3160.0 252.1,3160.5 C253.5,3161.1 255.7,3156.6 257.1,3157.2 C258.5,3157.7 259.4,3158.9 260.5,3163.9 C261.6,3169.0 262.8,3176.9 263.9,3187.6 C265.0,3198.2 266.1,3211.2 267.3,3228.1 C268.4,3244.9 269.6,3271.4 270.6,3288.8 C271.6,3306.3 272.2,3328.2 273.3,3332.7 C274.5,3337.2 276.1,3325.4 277.4,3315.8 C278.6,3306.3 279.4,3285.4 280.8,3275.3 C282.2,3265.2 283.9,3258.7 285.8,3255.1 C287.8,3251.4 290.7,3256.2 292.6,3253.4 C294.4,3250.6 295.6,3249.2 297.0,3238.2 C298.4,3227.2 299.5,3202.7 301.0,3187.6 C302.5,3172.4 304.5,3156.0 306.1,3147.0 C307.7,3138.0 309.1,3133.5 310.5,3133.5 C311.9,3133.5 313.2,3138.0 314.5,3147.0 C315.9,3156.0 317.2,3174.6 318.6,3187.6 C320.0,3200.5 321.5,3227.5 323.0,3224.7 C324.4,3221.9 325.9,3193.7 327.3,3170.7 C328.7,3147.6 330.0,3112.7 331.4,3086.3 C332.7,3059.8 334.3,3026.7 335.4,3012.0 C336.6,2997.4 337.1,2996.3 338.1,2998.5 C339.2,3000.8 340.4,3008.1 341.5,3025.5 C342.6,3043.0 343.5,3076.2 344.9,3103.2 C346.3,3130.2 348.4,3166.2 350.0,3187.6 C351.5,3208.9 352.9,3228.6 354.3,3231.4 C355.8,3234.2 357.0,3223.0 358.4,3204.4 C359.7,3185.9 361.0,3142.5 362.4,3120.0 C363.9,3097.5 365.7,3079.3 366.8,3069.4 C368.0,3059.6 368.4,3058.2 369.5,3061.0 C370.7,3063.8 372.2,3070.8 373.6,3086.3 C375.0,3101.8 376.6,3138.6 378.0,3153.8 C379.4,3169.0 380.5,3180.2 382.0,3177.4 C383.5,3174.6 385.4,3157.7 387.1,3136.9 C388.8,3116.1 390.5,3073.3 392.2,3052.5 C393.8,3031.7 395.5,3016.0 397.2,3012.0 C398.9,3008.1 400.6,3019.3 402.3,3028.9 C404.0,3038.5 405.7,3048.6 407.3,3069.4 C409.0,3090.2 410.9,3122.9 412.4,3153.8 C413.9,3184.7 415.0,3229.2 416.5,3255.1 C417.9,3280.9 419.3,3306.3 420.8,3309.1 C422.4,3311.9 424.2,3295.0 425.9,3271.9 C427.6,3248.9 429.4,3201.6 431.0,3170.7 C432.5,3139.7 434.0,3104.9 435.4,3086.3 C436.8,3067.7 437.9,3061.5 439.4,3059.3 C440.9,3057.0 442.8,3062.7 444.5,3072.8 C446.2,3082.9 448.1,3111.0 449.5,3120.0 C450.9,3129.0 451.5,3130.2 452.9,3126.8 C454.3,3123.4 456.7,3105.4 458.0,3099.8 C459.2,3094.2 459.2,3089.7 460.3,3093.0 C461.5,3096.4 463.4,3104.3 464.7,3120.0 C466.0,3135.8 467.0,3162.2 468.1,3187.6 C469.2,3212.9 470.2,3249.4 471.5,3271.9 C472.8,3294.4 474.6,3311.6 475.9,3322.6 C477.1,3333.5 477.7,3338.9 478.9,3337.8 C480.1,3336.6 481.7,3328.5 483.3,3315.8 C484.9,3303.2 486.9,3273.9 488.4,3261.8 C489.8,3249.7 490.4,3243.2 491.7,3243.2 C493.0,3243.2 494.7,3252.5 496.1,3261.8 C497.5,3271.1 498.8,3291.4 500.2,3298.9 C501.6,3306.5 503.2,3311.9 504.6,3307.4 C506.0,3302.9 507.1,3289.1 508.6,3271.9 C510.1,3254.8 512.0,3223.0 513.7,3204.4 C515.4,3185.9 517.2,3169.0 518.7,3160.5 C520.3,3152.1 521.6,3152.7 523.1,3153.8 C524.6,3154.9 526.3,3162.2 527.8,3167.3 C529.4,3172.4 530.7,3178.6 532.2,3184.2 C533.8,3189.8 535.7,3197.4 537.3,3201.1 C538.9,3204.7 540.3,3208.4 541.7,3206.1 C543.1,3203.9 544.3,3199.1 545.7,3187.6 C547.1,3176.0 548.7,3156.6 550.1,3136.9 C551.5,3117.2 552.7,3089.7 554.2,3069.4 C555.7,3049.2 557.4,3027.8 559.2,3015.4 C561.0,3003.0 563.3,2995.7 565.0,2995.1 C566.7,2994.6 567.8,3002.5 569.4,3012.0 C570.9,3021.6 572.5,3041.8 574.4,3052.5 C576.4,3063.2 579.2,3073.9 581.2,3076.2 C583.2,3078.4 584.6,3072.8 586.2,3066.0 C587.9,3059.3 589.6,3046.9 591.3,3035.7 C593.0,3024.4 594.6,3006.4 596.4,2998.5 C598.2,2990.6 600.1,2987.8 602.1,2988.4 C604.1,2989.0 606.5,2993.5 608.4,3001.9 C610.3,3010.3 612.1,3027.2 613.5,3039.0 C614.9,3050.8 615.8,3065.5 616.9,3072.8 C618.0,3080.1 618.8,3085.2 620.3,3082.9 C621.7,3080.7 623.6,3072.8 625.3,3059.3 C627.0,3045.8 628.7,3015.5 630.4,3001.9 C632.1,2988.3 633.8,2978.7 635.4,2977.6 C637.1,2976.5 638.8,2984.9 640.5,2995.1 C642.2,3005.4 644.0,3023.8 645.6,3039.0 C647.1,3054.2 648.7,3075.3 650.0,3086.3 C651.3,3097.3 652.0,3106.0 653.3,3104.9 C654.7,3103.7 656.4,3091.6 658.1,3079.5 C659.7,3067.4 661.9,3036.8 663.5,3032.3 C665.0,3027.8 666.3,3037.9 667.5,3052.5 C668.7,3067.2 669.8,3094.7 670.9,3120.0 C672.0,3145.4 673.1,3179.1 674.3,3204.4 C675.4,3229.7 676.5,3254.2 677.6,3271.9 C678.8,3289.7 679.6,3307.9 681.0,3310.8 C682.4,3313.6 684.5,3303.7 686.1,3288.8 C687.7,3273.9 689.1,3243.8 690.5,3221.3 C691.9,3198.8 693.2,3173.5 694.5,3153.8 C695.9,3134.1 697.2,3108.8 698.6,3103.2 C700.0,3097.5 701.5,3108.8 703.0,3120.0 C704.4,3131.3 706.0,3156.0 707.3,3170.7 C708.6,3185.3 709.5,3207.8 710.7,3207.8 C712.0,3207.8 713.2,3188.1 714.8,3170.7 C716.3,3153.2 718.4,3125.7 719.8,3103.2 C721.2,3080.7 721.9,3061.0 723.2,3035.7 C724.5,3010.3 726.3,2971.0 727.6,2951.3 C728.9,2931.6 729.8,2924.8 731.0,2917.5 C732.1,2910.2 733.1,2905.7 734.3,2907.4 C735.6,2909.1 737.0,2914.7 738.4,2927.6 C739.7,2940.6 741.0,2961.4 742.4,2985.0 C743.9,3008.6 745.4,3041.3 746.8,3069.4 C748.3,3097.5 749.7,3130.2 751.2,3153.8 C752.7,3177.4 754.4,3197.1 755.9,3211.2 C757.5,3225.2 758.9,3231.7 760.3,3238.2 C761.7,3244.7 763.0,3251.1 764.4,3250.0 C765.8,3248.9 767.2,3244.7 768.8,3231.4 C770.4,3218.2 772.2,3192.1 773.8,3170.7 C775.5,3149.3 777.1,3122.9 778.9,3103.2 C780.7,3083.5 783.0,3057.6 784.6,3052.5 C786.3,3047.5 787.5,3061.5 789.0,3072.8 C790.6,3084.0 792.4,3103.7 794.1,3120.0 C795.8,3136.4 797.7,3159.1 799.2,3170.7 C800.6,3182.2 801.3,3192.1 802.5,3189.2 C803.8,3186.4 805.2,3169.8 806.6,3153.8 C808.0,3137.8 809.8,3104.9 811.0,3093.0 C812.2,3081.2 812.5,3080.7 813.7,3082.9 C814.8,3085.2 816.2,3094.7 817.7,3106.5 C819.2,3118.4 821.1,3136.9 822.8,3153.8 C824.5,3170.7 826.2,3192.3 827.8,3207.8 C829.5,3223.3 831.7,3238.7 832.9,3246.6 C834.1,3254.5 834.1,3259.3 835.3,3255.1 C836.4,3250.8 838.4,3238.2 839.7,3221.3 C841.0,3204.4 841.9,3181.9 843.0,3153.8 C844.2,3125.7 845.3,3080.7 846.4,3052.5 C847.5,3024.4 848.9,2999.1 849.8,2985.0 C850.7,2971.0 850.7,2965.3 851.8,2968.1 C852.9,2971.0 854.9,2985.0 856.5,3001.9 C858.2,3018.8 859.9,3049.7 861.6,3069.4 C863.3,3089.1 865.0,3106.0 866.7,3120.0 C868.4,3134.1 870.2,3139.7 871.7,3153.8 C873.3,3167.9 874.7,3187.0 876.1,3204.4 C877.5,3221.9 878.6,3253.9 880.2,3258.4 C881.7,3262.9 883.4,3240.2 885.2,3231.4 C887.0,3222.7 889.3,3207.8 891.0,3206.1 C892.7,3204.4 893.9,3213.2 895.4,3221.3 C896.8,3229.5 898.5,3246.9 899.7,3255.1 C901.0,3263.2 901.9,3273.1 903.1,3270.3 C904.4,3267.4 905.7,3254.8 907.2,3238.2 C908.7,3221.6 910.7,3193.2 912.2,3170.7 C913.8,3148.2 915.2,3118.9 916.6,3103.2 C918.0,3087.4 919.2,3077.8 920.7,3076.2 C922.2,3074.5 924.2,3080.1 925.7,3093.0 C927.3,3106.0 928.7,3129.6 930.1,3153.8 C931.5,3178.0 932.8,3212.0 934.2,3238.2 C935.5,3264.3 936.8,3305.1 938.2,3310.8 C939.6,3316.4 941.3,3295.3 942.6,3271.9 C943.9,3248.6 944.9,3204.4 946.0,3170.7 C947.1,3136.9 948.2,3097.5 949.4,3069.4 C950.5,3041.3 951.3,3019.9 952.7,3001.9 C954.1,2983.9 956.5,2969.3 957.8,2961.4 C959.1,2953.5 959.4,2950.7 960.5,2954.6 C961.6,2958.6 963.2,2974.3 964.6,2985.0 C965.9,2995.7 967.5,3011.5 968.6,3018.8 C969.7,3026.1 970.0,3031.7 971.3,3028.9 C972.6,3026.1 974.8,3012.6 976.4,3001.9 C977.9,2991.2 979.3,2967.6 980.8,2964.8 C982.2,2962.0 983.8,2973.2 985.1,2985.0 C986.3,2996.8 987.3,3016.0 988.4,3035.7 C989.6,3055.3 990.7,3083.5 991.8,3103.2 C992.9,3122.9 993.9,3140.9 995.2,3153.8 C996.5,3166.7 998.2,3174.6 999.6,3180.8 C1001.0,3187.0 1002.1,3190.9 1003.6,3190.9 C1005.1,3190.9 1007.0,3188.1 1008.7,3180.8 C1010.4,3173.5 1012.0,3159.1 1013.8,3147.0 C1015.6,3135.0 1017.8,3110.5 1019.5,3108.2 C1021.2,3106.0 1022.3,3123.1 1023.9,3133.5 C1025.5,3144.0 1027.3,3158.3 1028.9,3170.7 C1030.6,3183.1 1032.6,3199.4 1034.0,3207.8 C1035.4,3216.2 1036.0,3221.9 1037.4,3221.3 C1038.8,3220.7 1040.8,3215.7 1042.4,3204.4 C1044.1,3193.2 1046.1,3173.5 1047.5,3153.8 C1048.9,3134.1 1049.8,3111.6 1050.9,3086.3 C1052.0,3061.0 1052.9,3024.4 1054.3,3001.9 C1055.7,2979.4 1057.7,2968.1 1059.3,2951.3 C1060.9,2934.4 1062.5,2910.8 1063.7,2900.6 C1064.9,2890.5 1065.3,2887.7 1066.4,2890.5 C1067.5,2893.3 1069.1,2901.8 1070.5,2917.5 C1071.8,2933.3 1073.2,2962.5 1074.5,2985.0 C1075.9,3007.5 1077.3,3035.7 1078.6,3052.5 C1079.8,3069.4 1080.8,3079.5 1081.9,3086.3 C1083.1,3093.0 1084.0,3094.2 1085.3,3093.0 C1086.6,3091.9 1088.1,3085.2 1089.7,3079.5 C1091.3,3073.9 1092.9,3065.8 1094.8,3059.3 C1096.6,3052.8 1099.2,3040.2 1100.8,3040.7 C1102.5,3041.3 1103.5,3052.3 1104.9,3062.7 C1106.2,3073.1 1107.5,3092.5 1108.9,3103.2 C1110.4,3113.9 1111.8,3126.8 1113.3,3126.8 C1114.9,3126.8 1117.0,3115.5 1118.4,3103.2 C1119.8,3090.8 1120.5,3066.6 1121.8,3052.5 C1123.0,3038.5 1124.7,3025.2 1125.8,3018.8 C1126.9,3012.3 1127.1,3012.6 1128.5,3013.7 C1130.0,3014.8 1132.9,3019.1 1134.6,3025.5 C1136.3,3032.0 1137.1,3041.3 1138.6,3052.5 C1140.2,3063.8 1142.0,3085.4 1143.7,3093.0 C1145.4,3100.6 1147.1,3098.9 1148.8,3098.1 C1150.5,3097.3 1152.3,3087.7 1153.8,3088.0 C1155.4,3088.3 1156.7,3094.4 1158.2,3099.8 C1159.8,3105.1 1161.8,3121.2 1163.3,3120.0 C1164.8,3118.9 1165.9,3106.5 1167.3,3093.0 C1168.7,3079.5 1170.3,3054.2 1171.7,3039.0 C1173.1,3023.8 1174.3,3009.8 1175.8,3001.9 C1177.3,2994.0 1179.0,2993.7 1180.8,2991.8 C1182.6,2989.8 1184.9,2989.0 1186.6,2990.1 C1188.3,2991.2 1189.7,2995.7 1191.0,2998.5 C1192.3,3001.3 1193.1,3008.1 1194.3,3007.0 C1195.6,3005.8 1197.3,2996.6 1198.7,2991.8 C1200.1,2987.0 1201.4,2976.6 1202.8,2978.3 C1204.1,2980.0 1205.6,2986.7 1206.8,3001.9 C1208.1,3017.1 1209.2,3046.9 1210.2,3069.4 C1211.2,3091.9 1211.9,3114.4 1212.9,3136.9 C1213.9,3159.4 1215.2,3184.7 1216.3,3204.4 C1217.4,3224.1 1218.5,3244.1 1219.7,3255.1 C1220.8,3266.0 1221.6,3271.4 1223.0,3270.3 C1224.4,3269.1 1226.5,3256.5 1228.1,3248.3 C1229.7,3240.2 1231.1,3228.6 1232.5,3221.3 C1233.9,3214.0 1235.3,3212.9 1236.5,3204.4 C1237.8,3196.0 1238.8,3190.4 1239.9,3170.7 C1241.0,3151.0 1242.2,3114.4 1243.3,3086.3 C1244.4,3058.2 1245.5,3027.2 1246.7,3001.9 C1247.8,2976.6 1249.0,2947.8 1250.0,2934.4 C1251.1,2921.0 1251.6,2919.9 1252.7,2921.6 C1253.9,2923.2 1255.3,2936.8 1256.8,2944.5 C1258.3,2952.3 1260.2,2960.3 1261.9,2968.1 C1263.5,2976.0 1265.5,2983.3 1266.9,2991.8 C1268.3,3000.2 1269.2,3005.8 1270.3,3018.8 C1271.4,3031.7 1272.7,3055.1 1273.7,3069.4 C1274.7,3083.8 1275.2,3104.9 1276.4,3104.9 C1277.5,3104.9 1279.2,3083.8 1280.4,3069.4 C1281.7,3055.1 1282.6,3035.7 1283.8,3018.8 C1285.0,3001.9 1286.4,2985.0 1287.8,2968.1 C1289.3,2951.3 1290.8,2930.7 1292.2,2917.5 C1293.7,2904.3 1295.1,2888.8 1296.6,2888.8 C1298.1,2888.8 1300.0,2904.3 1301.4,2917.5 C1302.7,2930.7 1303.6,2951.3 1304.7,2968.1 C1305.9,2985.0 1307.0,2999.1 1308.1,3018.8 C1309.2,3038.5 1310.4,3063.8 1311.5,3086.3 C1312.6,3108.8 1313.7,3131.3 1314.9,3153.8 C1316.0,3176.3 1317.3,3203.6 1318.6,3221.3 C1319.9,3239.0 1321.1,3257.3 1322.6,3260.1 C1324.1,3262.9 1326.0,3250.3 1327.7,3238.2 C1329.4,3226.1 1331.2,3199.4 1332.7,3187.6 C1334.3,3175.7 1335.4,3171.0 1337.1,3167.3 C1338.8,3163.6 1341.1,3170.7 1342.9,3165.6 C1344.7,3160.5 1346.1,3144.6 1347.9,3136.9 C1349.8,3129.2 1352.2,3119.4 1354.0,3119.4 C1355.8,3119.4 1356.9,3129.5 1358.7,3136.9 C1360.5,3144.3 1363.0,3163.9 1364.8,3163.9 C1366.6,3163.9 1368.1,3152.7 1369.5,3136.9 C1370.8,3121.2 1371.7,3091.9 1372.8,3069.4 C1374.0,3046.9 1375.1,3019.9 1376.2,3001.9 C1377.3,2983.9 1378.5,2970.4 1379.6,2961.4 C1380.7,2952.4 1381.7,2945.1 1383.0,2947.9 C1384.2,2950.7 1385.7,2963.6 1387.0,2978.3 C1388.4,2992.9 1389.8,3020.5 1391.1,3035.7 C1392.3,3050.8 1393.1,3062.1 1394.4,3069.4 C1395.7,3076.7 1397.4,3076.2 1398.8,3079.5 C1400.3,3082.9 1401.8,3082.9 1403.2,3089.7 C1404.6,3096.4 1406.0,3109.4 1407.3,3120.0 C1408.5,3130.7 1409.7,3146.2 1410.6,3153.8 C1411.6,3161.4 1411.9,3171.2 1413.0,3165.6 C1414.1,3160.0 1416.1,3138.9 1417.4,3120.0 C1418.7,3101.2 1419.5,3071.4 1420.8,3052.5 C1422.0,3033.7 1423.4,3009.8 1424.8,3007.0 C1426.2,3004.1 1427.9,3022.4 1429.2,3035.7 C1430.5,3048.9 1431.4,3070.5 1432.6,3086.3 C1433.7,3102.0 1435.0,3121.2 1435.9,3130.2 C1436.9,3139.2 1437.2,3142.0 1438.3,3140.3 C1439.4,3138.6 1441.2,3129.0 1442.7,3120.0 C1444.2,3111.0 1445.7,3095.3 1447.1,3086.3 C1448.5,3077.3 1449.6,3070.5 1451.1,3066.0 C1452.7,3061.5 1454.5,3063.2 1456.2,3059.3 C1457.9,3055.3 1459.7,3046.6 1461.3,3042.4 C1462.8,3038.2 1464.1,3032.8 1465.7,3034.0 C1467.2,3035.1 1469.2,3040.4 1470.7,3049.2 C1472.2,3057.9 1473.4,3074.5 1474.8,3086.3 C1476.1,3098.1 1477.6,3111.9 1478.8,3120.0 C1480.1,3128.2 1480.9,3136.4 1482.2,3135.2 C1483.5,3134.1 1485.1,3127.1 1486.6,3113.3 C1488.0,3099.5 1489.7,3072.8 1491.0,3052.5 C1492.3,3032.3 1493.2,3006.4 1494.3,2991.8 C1495.5,2977.1 1496.5,2964.8 1497.7,2964.8 C1499.0,2964.8 1500.4,2977.1 1501.8,2991.8 C1503.1,3006.4 1504.4,3032.3 1505.8,3052.5 C1507.2,3072.8 1508.9,3098.9 1510.2,3113.3 C1511.5,3127.6 1512.3,3136.1 1513.6,3138.6 C1514.9,3141.1 1516.6,3127.1 1518.0,3128.5 C1519.4,3129.9 1520.8,3137.2 1522.0,3147.0 C1523.3,3156.9 1524.4,3172.4 1525.4,3187.6 C1526.4,3202.7 1527.1,3219.6 1528.1,3238.2 C1529.1,3256.8 1530.4,3282.9 1531.5,3298.9 C1532.6,3315.0 1533.6,3331.6 1534.9,3334.4 C1536.1,3337.2 1537.7,3326.2 1538.9,3315.8 C1540.1,3305.4 1541.2,3286.6 1542.3,3271.9 C1543.4,3257.3 1544.7,3236.5 1545.7,3228.1 C1546.6,3219.6 1547.1,3219.6 1548.0,3221.3 C1549.0,3223.0 1550.3,3233.7 1551.4,3238.2 C1552.5,3242.7 1553.6,3253.9 1554.8,3248.3 C1555.9,3242.7 1557.3,3225.8 1558.5,3204.4 C1559.7,3183.1 1560.7,3145.4 1561.9,3120.0 C1563.0,3094.7 1563.9,3068.8 1565.2,3052.5 C1566.6,3036.2 1568.3,3026.1 1570.0,3022.2 C1571.6,3018.2 1573.8,3029.5 1575.4,3028.9 C1576.9,3028.3 1578.0,3021.0 1579.4,3018.8 C1580.8,3016.5 1582.4,3011.5 1583.8,3015.4 C1585.2,3019.3 1586.6,3030.6 1587.8,3042.4 C1589.1,3054.2 1590.1,3070.5 1591.2,3086.3 C1592.3,3102.0 1593.5,3120.3 1594.6,3136.9 C1595.7,3153.5 1596.7,3183.1 1598.0,3185.9 C1599.3,3188.7 1601.0,3170.4 1602.4,3153.8 C1603.8,3137.2 1605.1,3108.8 1606.4,3086.3 C1607.8,3063.8 1609.1,3041.3 1610.5,3018.8 C1611.9,2996.3 1613.0,2969.3 1614.9,2951.3 C1616.7,2933.3 1619.6,2913.6 1621.6,2910.8 C1623.6,2907.9 1625.3,2922.0 1626.7,2934.4 C1628.1,2946.8 1628.9,2965.3 1630.0,2985.0 C1631.2,3004.7 1632.3,3027.2 1633.4,3052.5 C1634.5,3077.8 1635.7,3111.6 1636.8,3136.9 C1637.9,3162.2 1639.0,3188.1 1640.2,3204.4 C1641.3,3220.7 1642.1,3228.1 1643.5,3234.8 C1645.0,3241.6 1646.9,3244.9 1648.6,3244.9 C1650.3,3244.9 1652.0,3240.4 1653.7,3234.8 C1655.4,3229.2 1657.3,3216.8 1658.7,3211.2 C1660.1,3205.6 1660.7,3204.4 1662.1,3201.1 C1663.5,3197.7 1665.8,3198.8 1667.2,3190.9 C1668.6,3183.1 1669.3,3168.4 1670.5,3153.8 C1671.8,3139.2 1673.2,3116.7 1674.6,3103.2 C1676.0,3089.7 1677.7,3078.4 1679.0,3072.8 C1680.3,3067.2 1681.1,3067.2 1682.4,3069.4 C1683.7,3071.7 1685.3,3075.0 1686.8,3086.3 C1688.2,3097.5 1689.5,3117.2 1690.8,3136.9 C1692.2,3156.6 1693.4,3181.9 1694.9,3204.4 C1696.3,3226.9 1697.8,3257.0 1699.2,3271.9 C1700.6,3286.8 1701.9,3296.7 1703.3,3293.9 C1704.7,3291.1 1706.4,3275.6 1707.7,3255.1 C1709.0,3234.5 1709.9,3198.8 1711.1,3170.7 C1712.2,3142.5 1713.3,3105.4 1714.4,3086.3 C1715.6,3067.2 1716.6,3055.9 1717.8,3055.9 C1719.0,3055.9 1720.6,3070.0 1721.9,3086.3 C1723.1,3102.6 1724.1,3128.5 1725.2,3153.8 C1726.4,3179.1 1727.4,3214.0 1728.6,3238.2 C1729.8,3262.4 1730.9,3292.2 1732.3,3298.9 C1733.8,3305.7 1735.9,3288.8 1737.4,3278.7 C1738.9,3268.6 1740.1,3256.2 1741.4,3238.2 C1742.8,3220.2 1744.1,3188.1 1745.5,3170.7 C1746.9,3153.2 1748.4,3141.4 1749.9,3133.5 C1751.3,3125.7 1752.6,3121.7 1754.3,3123.4 C1755.9,3125.1 1758.1,3133.0 1759.6,3143.7 C1761.0,3154.4 1761.7,3175.2 1763.0,3187.6 C1764.2,3199.9 1765.5,3210.6 1767.0,3217.9 C1768.5,3225.2 1770.5,3228.9 1772.1,3231.4 C1773.6,3234.0 1775.0,3234.8 1776.5,3233.1 C1777.9,3231.4 1779.0,3227.8 1780.5,3221.3 C1782.0,3214.8 1783.9,3203.9 1785.6,3194.3 C1787.3,3184.7 1789.1,3172.9 1790.6,3163.9 C1792.2,3154.9 1793.6,3140.9 1795.0,3140.3 C1796.4,3139.7 1797.8,3148.2 1799.1,3160.5 C1800.3,3172.9 1801.3,3197.1 1802.4,3214.6 C1803.6,3232.0 1804.7,3253.4 1805.8,3265.2 C1806.9,3277.0 1808.1,3287.1 1809.2,3285.4 C1810.3,3283.8 1811.4,3274.2 1812.6,3255.1 C1813.7,3235.9 1814.8,3201.6 1815.9,3170.7 C1817.1,3139.7 1818.2,3094.7 1819.3,3069.4 C1820.5,3044.1 1821.5,3028.6 1822.7,3018.8 C1823.9,3008.9 1825.3,3007.0 1826.8,3010.3 C1828.2,3013.7 1829.8,3028.6 1831.1,3039.0 C1832.4,3049.4 1833.4,3067.7 1834.5,3072.8 C1835.6,3077.8 1836.8,3071.9 1837.9,3069.4 C1839.0,3066.9 1840.1,3054.8 1841.3,3057.6 C1842.4,3060.4 1843.5,3070.3 1844.6,3086.3 C1845.8,3102.3 1846.9,3131.3 1848.0,3153.8 C1849.1,3176.3 1850.3,3200.2 1851.4,3221.3 C1852.5,3242.4 1853.5,3274.8 1854.8,3280.4 C1856.0,3286.0 1857.4,3264.9 1858.8,3255.1 C1860.2,3245.2 1861.9,3227.8 1863.2,3221.3 C1864.5,3214.8 1865.2,3215.1 1866.6,3216.2 C1868.0,3217.4 1870.2,3230.0 1871.6,3228.1 C1873.1,3226.1 1873.6,3219.6 1875.0,3204.4 C1876.4,3189.2 1878.5,3159.4 1880.1,3136.9 C1881.7,3114.4 1883.1,3089.1 1884.5,3069.4 C1885.9,3049.7 1887.1,3029.7 1888.5,3018.8 C1889.9,3007.8 1891.3,3003.0 1892.9,3003.6 C1894.5,3004.1 1896.3,3012.9 1898.0,3022.2 C1899.6,3031.4 1901.2,3043.0 1902.7,3059.3 C1904.2,3075.6 1905.6,3098.7 1907.1,3120.0 C1908.6,3141.4 1910.1,3165.0 1911.5,3187.6 C1912.9,3210.1 1914.4,3239.9 1915.5,3255.1 C1916.7,3270.3 1917.1,3284.3 1918.2,3278.7 C1919.4,3273.1 1921.0,3237.6 1922.3,3221.3 C1923.5,3205.0 1924.6,3188.1 1925.7,3180.8 C1926.7,3173.5 1927.3,3172.9 1928.4,3177.4 C1929.4,3181.9 1930.6,3194.9 1931.7,3207.8 C1932.9,3220.7 1933.9,3235.7 1935.1,3255.1 C1936.3,3274.5 1937.6,3321.4 1939.2,3324.3 C1940.7,3327.1 1942.8,3289.1 1944.2,3271.9 C1945.6,3254.8 1946.3,3235.4 1947.6,3221.3 C1948.9,3207.2 1950.6,3198.8 1952.0,3187.6 C1953.4,3176.3 1954.8,3167.9 1956.0,3153.8 C1957.3,3139.7 1958.3,3117.2 1959.4,3103.2 C1960.5,3089.1 1961.5,3077.3 1962.8,3069.4 C1964.0,3061.5 1965.4,3053.1 1966.8,3055.9 C1968.2,3058.7 1969.9,3070.0 1971.2,3086.3 C1972.5,3102.6 1973.5,3131.3 1974.6,3153.8 C1975.7,3176.3 1976.7,3198.8 1978.0,3221.3 C1979.3,3243.8 1981.0,3274.2 1982.4,3288.8 C1983.8,3303.4 1985.2,3300.6 1986.4,3309.1 C1987.7,3317.5 1988.7,3328.8 1989.8,3339.5 C1990.9,3350.1 1991.8,3363.6 1993.2,3373.2 C1994.6,3382.8 1996.5,3389.0 1998.2,3396.8 C1999.9,3404.7 2001.6,3413.4 2003.3,3420.5 C2005.0,3427.5 2006.7,3439.6 2008.4,3439.0 C2010.0,3438.5 2012.0,3428.1 2013.4,3417.1 C2014.8,3406.1 2015.4,3384.5 2016.8,3373.2 C2018.2,3362.0 2020.2,3358.0 2021.9,3349.6 C2023.5,3341.1 2025.4,3338.3 2026.9,3322.6 C2028.4,3306.8 2029.7,3274.8 2031.0,3255.1 C2032.2,3235.4 2033.3,3218.5 2034.3,3204.4 C2035.4,3190.4 2035.9,3177.7 2037.0,3170.7 C2038.2,3163.6 2039.7,3161.1 2041.1,3162.2 C2042.5,3163.4 2044.0,3168.7 2045.5,3177.4 C2046.9,3186.1 2048.4,3204.4 2049.9,3214.6 C2051.4,3224.7 2052.9,3237.1 2054.6,3238.2 C2056.3,3239.3 2058.4,3232.6 2060.0,3221.3 C2061.6,3210.1 2062.5,3185.3 2064.1,3170.7 C2065.6,3156.0 2067.5,3141.4 2069.1,3133.5 C2070.7,3125.7 2071.8,3122.9 2073.5,3123.4 C2075.2,3124.0 2077.7,3131.9 2079.2,3136.9 C2080.8,3142.0 2081.5,3147.6 2082.6,3153.8 C2083.7,3160.0 2084.6,3167.9 2086.0,3174.1 C2087.4,3180.2 2089.4,3187.8 2091.1,3190.9 C2092.7,3194.0 2095.3,3192.3 2096.1,3192.6" fill="none" stroke="#000" stroke-width="6" stroke-linejoin="round" stroke-linecap="round"/>
<line x1="230" y1="2960" x2="2091.4" y2="2960" stroke="#2e2e2e" stroke-width="5" stroke-dasharray="18,12.71"/>
<text transform="translate(275.7,3517.3) scale(1.0524,1)" font-family='"Liberation Sans", sans-serif' font-weight="normal" font-size="63.46" fill="#000" >no trend</text>
<rect x="217" y="3747.5" width="1900.5" height="925.5" fill="#ebebeb"/>
<path d="M250.0,3747.5 L1300.0,3747.5 L1255.0,3772.0 L1205.0,3795.0 L1155.0,3822.0 L1118.0,3852.0 L1106.0,3890.0 L1098.0,3930.0 L1065.0,3952.0 L1010.0,3980.0 L920.0,4000.0 L840.0,4018.0 L780.0,4040.0 L735.0,4070.0 L705.0,4105.0 L688.0,4140.0 L688.0,4180.0 L700.0,4220.0 L730.0,4255.0 L770.0,4285.0 L800.0,4305.0 L818.0,4325.0 L833.0,4338.0 L838.0,4363.0 L802.0,4371.0 L762.0,4381.0 L732.0,4391.0 L706.0,4406.0 L699.0,4421.0 L711.0,4437.0 L737.0,4444.0 L777.0,4447.0 L828.0,4444.0 L878.0,4441.0 L929.0,4436.0 L965.0,4433.0 L995.0,4434.0 L1020.0,4442.0 L1040.0,4449.0 L1066.0,4460.0 L1091.0,4465.0 L1132.0,4465.0 L1150.0,4465.0 L1170.0,4460.0 L1200.0,4452.0 L1231.0,4445.0 L1251.0,4435.0 L1236.0,4425.0 L1206.0,4410.0 L1173.0,4389.0 L1226.0,4374.0 L1277.0,4356.0 L1327.0,4341.0 L1378.0,4326.0 L1428.0,4311.0 L1479.0,4298.0 L1530.0,4280.0 L1580.0,4252.0 L1620.0,4235.0 L1650.0,4210.0 L1690.0,4170.0 L1720.0,4120.0 L1760.0,4070.0 L1820.0,4020.0 L1900.0,3985.0 L2000.0,3955.0 L2117.5,3942.0 L2117.5,4335.0 L2060.0,4360.0 L2000.0,4350.0 L1940.0,4335.0 L1880.0,4325.0 L1800.0,4320.0 L1720.0,4322.0 L1676.6,4333.5 L1651.3,4346.2 L1641.1,4371.5 L1638.6,4396.8 L1636.1,4422.2 L1651.3,4442.4 L1676.6,4452.5 L1691.8,4467.7 L1696.8,4482.9 L1681.6,4493.0 L1656.3,4503.2 L1605.7,4510.8 L1555.1,4513.3 L1504.4,4515.8 L1453.8,4518.4 L1403.2,4523.4 L1352.5,4526.0 L1301.9,4528.5 L1251.3,4533.5 L1236.0,4553.8 L1276.6,4566.5 L1317.0,4584.2 L1352.5,4599.4 L1347.5,4604.4 L1301.9,4608.5 L1251.3,4601.9 L1200.6,4586.7 L1150.0,4574.0 L1094.0,4563.0 L1131.6,4555.7 L1172.0,4548.0 L1190.0,4540.0 L1157.0,4523.0 L1106.0,4523.0 L1065.8,4530.4 L1055.7,4540.5 L1030.4,4545.6 L1005.1,4543.0 L979.7,4535.4 L954.4,4527.8 L929.1,4517.7 L903.8,4510.1 L853.2,4502.5 L802.5,4500.0 L767.1,4502.5 L746.8,4512.7 L744.3,4525.3 L757.0,4535.4 L792.4,4545.6 L843.0,4555.7 L893.7,4563.3 L944.3,4568.4 L969.6,4575.9 L979.7,4583.5 L974.7,4591.1 L944.3,4593.7 L903.8,4591.1 L853.2,4588.6 L812.7,4586.1 L772.2,4586.1 L762.0,4593.7 L767.1,4603.8 L746.8,4608.9 L711.4,4613.9 L675.9,4619.0 L670.9,4616.5 L701.3,4603.8 L726.6,4593.7 L729.1,4583.5 L701.3,4573.4 L660.8,4558.2 L630.4,4538.0 L617.7,4517.7 L630.4,4505.1 L650.6,4492.4 L663.3,4474.7 L660.8,4462.0 L635.4,4452.5 L605.0,4447.4 L554.4,4437.3 L503.8,4422.1 L463.3,4406.9 L412.7,4396.8 L351.9,4384.1 L275.9,4368.9 L217.0,4358.8 L217.0,4162.9 L250.6,4150.3 L301.3,4137.6 L351.9,4124.9 L402.5,4114.8 L468.4,4102.2 L529.1,4079.4 L579.7,4054.0 L600.0,4023.7 L605.0,3993.3 L584.8,3968.0 L554.4,3932.5 L503.8,3902.2 L453.2,3876.8 L402.5,3849.0 L351.9,3821.1 L301.3,3793.3 Z" fill="#00b0fd" />
<path d="M376.9,4564.9 L389.0,4558.2 L410.6,4553.6 L437.6,4552.0 L456.5,4554.1 L472.7,4560.9 L480.9,4570.3 L475.4,4575.7 L459.3,4581.1 L437.6,4589.2 L421.4,4596.0 L405.2,4593.3 L389.0,4583.9 L379.6,4574.4 Z" fill="#00b0fd" />
<path d="M332.3,4621.7 L345.8,4618.4 L367.4,4616.8 L389.0,4614.1 L402.5,4613.0 L406.6,4616.2 L399.8,4620.3 L378.2,4622.2 L356.6,4624.4 L337.7,4625.7 Z" fill="#00b0fd" />
<ellipse cx="932" cy="4617" rx="17" ry="6.5" fill="#00b0fd"/>
<ellipse cx="827" cy="4612" rx="8" ry="5" fill="#00b0fd"/>
<path d="M1504.4,4563.9 L1514.6,4556.3 L1555.1,4555.3 L1605.7,4556.3 L1656.3,4556.3 L1681.6,4559.9 L1689.2,4579.1 L1696.8,4596.8 L1681.6,4599.4 L1631.0,4601.9 L1605.7,4604.4 L1580.4,4596.8 L1544.9,4579.1 L1514.6,4574.1 Z" fill="#00b0fd" />
<ellipse cx="1727" cy="4613" rx="23" ry="10" fill="#00b0fd"/>
<path d="M1795.0,4550.0 L1830.0,4535.0 L1880.0,4525.0 L1930.0,4515.0 L1970.0,4500.0 L2000.0,4478.0 L2040.0,4475.0 L2075.0,4490.0 L2090.0,4515.0 L2080.0,4540.0 L2060.0,4560.0 L2030.0,4575.0 L1990.0,4580.0 L1940.0,4585.0 L1880.0,4590.0 L1840.0,4585.0 L1810.0,4570.0 Z" fill="#00b0fd" />
<path d="M1710.0,4612.0 L1740.0,4605.0 L1775.0,4606.0 L1750.0,4615.0 L1715.0,4620.0 Z" fill="#00b0fd" />
<path d="M1240.0,4400.0 L1271.0,4387.0 L1300.0,4395.0 L1317.0,4415.0 L1362.0,4412.0 L1413.0,4410.0 L1464.0,4412.0 L1512.0,4420.0 L1522.0,4445.0 L1507.0,4467.0 L1464.0,4474.0 L1413.0,4477.0 L1362.0,4472.0 L1320.0,4462.0 L1280.0,4455.0 L1245.0,4455.0 L1235.0,4430.0 Z" fill="#00b0fd" />
<path d="M410.0,3747.5 L1095.0,3747.5 L1085.0,3770.0 L1060.0,3820.0 L1030.0,3870.0 L990.0,3915.0 L940.0,3945.0 L880.0,3962.0 L800.0,3958.0 L767.1,3955.3 L731.6,3942.7 L681.0,3927.5 L630.4,3902.2 L579.7,3876.8 L529.1,3846.5 L483.5,3816.1 L448.1,3790.8 L427.8,3765.4 Z" fill="#00ee00" />
<path d="M217.0,4196.0 L250.6,4175.6 L301.3,4160.4 L351.9,4150.3 L402.5,4142.7 L453.2,4137.6 L503.8,4137.6 L554.4,4142.7 L584.8,4152.8 L605.0,4165.4 L620.3,4185.7 L635.4,4205.9 L655.7,4226.2 L681.0,4246.5 L706.3,4266.7 L731.6,4287.0 L757.0,4307.0 L777.2,4320.3 L789.9,4338.0 L787.3,4355.7 L767.1,4365.8 L731.6,4375.9 L701.3,4388.6 L675.9,4401.3 L660.0,4419.0 L645.6,4432.2 L605.0,4432.2 L554.4,4422.1 L503.8,4406.9 L453.2,4389.2 L412.7,4379.0 L351.9,4368.9 L275.9,4353.7 L217.0,4338.5 Z" fill="#00ee00" />
<path d="M701.0,4457.0 L752.0,4454.0 L802.0,4452.0 L853.0,4449.0 L904.0,4447.0 L954.0,4444.0 L995.0,4446.0 L1030.0,4454.0 L1056.0,4465.0 L1086.0,4472.0 L1132.0,4475.0 L1167.0,4472.0 L1200.0,4470.0 L1240.0,4462.0 L1262.0,4420.0 L1271.5,4386.7 L1301.9,4379.1 L1352.5,4363.9 L1403.2,4348.7 L1453.8,4333.5 L1504.4,4318.4 L1555.1,4300.6 L1600.0,4275.0 L1650.0,4230.0 L1700.0,4190.0 L1750.0,4150.0 L1820.0,4110.0 L1900.0,4070.0 L1980.0,4045.0 L2050.0,4030.0 L2117.5,4025.0 L2117.5,4320.0 L2050.0,4322.0 L1950.0,4318.0 L1880.0,4310.0 L1800.0,4305.0 L1750.0,4313.0 L1707.0,4318.4 L1666.5,4326.0 L1646.2,4341.1 L1638.6,4361.4 L1633.5,4386.7 L1631.0,4412.0 L1636.1,4437.3 L1656.3,4452.5 L1671.5,4467.7 L1666.5,4480.4 L1646.2,4493.0 L1605.7,4500.6 L1555.1,4505.7 L1504.4,4508.2 L1453.8,4510.8 L1403.2,4513.3 L1352.5,4515.8 L1301.9,4518.4 L1251.3,4523.4 L1200.6,4526.0 L1172.0,4513.0 L1132.0,4508.0 L1096.0,4508.0 L1066.0,4515.0 L1045.6,4527.8 L1025.3,4530.4 L994.9,4522.8 L964.6,4512.7 L929.1,4502.5 L893.7,4497.5 L843.0,4492.4 L792.4,4492.4 L751.9,4494.9 L734.2,4507.6 L736.7,4522.8 L751.9,4532.9 L792.4,4540.5 L843.0,4548.1 L893.7,4558.2 L934.2,4563.3 L964.6,4573.4 L974.7,4581.0 L954.4,4586.1 L903.8,4583.5 L853.2,4581.0 L802.5,4578.5 L767.1,4573.4 L746.8,4568.4 L726.6,4563.3 L701.3,4558.2 L675.9,4548.1 L655.7,4532.9 L650.6,4517.7 L665.8,4502.5 L686.1,4482.3 Z" fill="#00ee00" />
<path d="M1245.0,4398.0 L1268.0,4392.0 L1300.0,4400.0 L1317.0,4417.0 L1362.0,4413.0 L1413.0,4411.0 L1464.0,4413.0 L1510.0,4421.0 L1520.0,4445.0 L1506.0,4466.0 L1464.0,4473.0 L1413.0,4476.0 L1362.0,4471.0 L1320.0,4461.0 L1290.0,4456.0 L1255.0,4456.0 L1243.0,4430.0 Z" fill="#00b0fd" />
<path d="M1317.0,4432.0 L1362.7,4424.7 L1413.3,4422.2 L1463.9,4424.7 L1504.4,4432.3 L1509.5,4445.0 L1499.4,4455.0 L1463.9,4462.7 L1413.3,4465.2 L1362.7,4460.1 L1332.3,4450.0 L1317.0,4439.9 Z" fill="#ebebeb" />
<path d="M403.9,4573.0 L413.3,4566.3 L426.8,4562.8 L443.0,4563.6 L452.5,4569.0 L448.4,4574.4 L434.9,4579.8 L421.4,4582.5 L410.6,4581.1 Z" fill="#00ee00" />
<path d="M1150.0,4556.3 L1180.4,4552.8 L1205.7,4553.8 L1231.0,4561.4 L1261.4,4571.5 L1291.8,4581.6 L1322.2,4594.3 L1329.7,4599.4 L1301.9,4601.9 L1271.5,4599.4 L1241.1,4594.3 L1210.8,4584.2 L1180.4,4574.1 L1150.0,4569.0 Z" fill="#00ee00" />
<path d="M1141.8,4563.3 L1167.1,4553.2 L1200.0,4550.6 L1200.0,4581.0 L1172.2,4575.9 L1146.8,4570.9 Z" fill="#00ee00" />
<path d="M1529.7,4566.5 L1555.1,4561.4 L1605.7,4561.4 L1656.3,4562.9 L1676.6,4569.0 L1681.6,4589.2 L1656.3,4594.3 L1615.8,4598.4 L1585.4,4591.8 L1555.1,4579.1 Z" fill="#00ee00" />
<ellipse cx="1727" cy="4613" rx="10" ry="4" fill="#00ee00"/>
<path d="M1820.0,4555.0 L1860.0,4540.0 L1920.0,4528.0 L1960.0,4520.0 L2000.0,4510.0 L2040.0,4520.0 L2050.0,4545.0 L2030.0,4565.0 L1980.0,4572.0 L1920.0,4575.0 L1860.0,4572.0 L1830.0,4565.0 Z" fill="#00ee00" />
<path d="M729.1,4602.8 L741.8,4599.7 L751.9,4602.8 L744.3,4606.8 L731.6,4606.8 Z" fill="#00ee00" />
<path d="M226.1,4271.4 L236.3,4247.8 L256.5,4227.5 L283.5,4210.6 L317.3,4200.5 L351.0,4193.8 L384.8,4192.1 L418.5,4192.1 L452.3,4193.8 L486.0,4197.1 L507.0,4197.3 L534.0,4204.0 L561.0,4212.1 L582.6,4222.9 L601.5,4233.7 L628.5,4247.2 L655.5,4263.4 L682.5,4282.3 L704.1,4303.9 L727.1,4336.3 L717.6,4355.2 L696.0,4371.4 L669.0,4387.6 L642.0,4395.7 L615.0,4399.8 L588.0,4401.1 L561.0,4398.4 L534.0,4394.4 L507.0,4389.0 L486.0,4381.1 L452.3,4376.0 L418.5,4365.9 L384.8,4355.8 L351.0,4344.0 L317.3,4328.8 L283.5,4318.6 L249.8,4305.1 L232.9,4291.6 Z" fill="#fbf000" />
<path d="M832.9,4474.7 L878.5,4462.0 L929.1,4457.0 L979.7,4459.5 L1030.4,4467.1 L1081.0,4477.2 L1131.6,4479.7 L1167.1,4477.2 L1150.0,4480.4 L1200.6,4472.8 L1251.3,4467.7 L1301.9,4467.7 L1352.5,4475.3 L1403.2,4482.9 L1453.8,4480.4 L1504.4,4472.8 L1555.1,4465.2 L1595.6,4462.7 L1615.8,4472.8 L1610.8,4485.4 L1590.5,4493.0 L1555.1,4498.1 L1504.4,4500.6 L1453.8,4503.2 L1403.2,4505.7 L1352.5,4508.2 L1301.9,4513.3 L1251.3,4515.8 L1200.6,4513.3 L1150.0,4510.8 L1157.0,4502.5 L1131.6,4500.0 L1096.2,4500.0 L1070.9,4502.5 L1045.6,4502.5 L1015.2,4497.5 L979.7,4494.9 L929.1,4487.3 L878.5,4479.7 Z" fill="#fbf000" />
<path d="M721.5,4553.2 L751.9,4552.2 L782.3,4558.2 L807.6,4564.3 L792.4,4568.4 L751.9,4567.3 L731.6,4560.8 Z" fill="#fbf000" />
<path d="M1210.8,4574.1 L1236.1,4578.1 L1266.5,4584.2 L1296.8,4591.8 L1301.9,4598.4 L1271.5,4599.4 L1241.1,4594.3 L1220.9,4586.7 Z" fill="#fbf000" />
<path d="M1580.4,4574.1 L1605.7,4570.0 L1636.1,4574.1 L1656.3,4584.2 L1636.1,4591.8 L1605.7,4591.8 L1585.4,4584.2 Z" fill="#fbf000" />
<path d="M1845.0,4555.0 L1880.0,4545.0 L1940.0,4538.0 L1990.0,4530.0 L2030.0,4545.0 L2020.0,4562.0 L1970.0,4568.0 L1910.0,4570.0 L1860.0,4567.0 Z" fill="#fbf000" />
<path d="M1730.0,4270.0 L1740.0,4240.0 L1780.0,4210.0 L1830.0,4185.0 L1880.0,4160.0 L1940.0,4140.0 L2000.0,4130.0 L2060.0,4130.0 L2100.0,4150.0 L2115.0,4180.0 L2110.0,4220.0 L2090.0,4260.0 L2050.0,4285.0 L2000.0,4300.0 L1940.0,4308.0 L1880.0,4310.0 L1820.0,4305.0 L1770.0,4295.0 L1735.0,4285.0 Z" fill="#fbf000" />
<path d="M1455.0,4390.0 L1470.0,4362.0 L1525.0,4360.0 L1535.0,4390.0 Z" fill="#fbf000" />
<path d="M253.1,4271.4 L266.6,4251.1 L286.9,4234.3 L317.3,4220.8 L351.0,4212.3 L384.8,4209.0 L418.5,4209.0 L452.3,4210.6 L480.0,4212.1 L507.0,4214.8 L534.0,4220.2 L561.0,4228.3 L574.5,4236.4 L601.5,4249.9 L628.5,4263.4 L655.5,4279.6 L682.5,4301.2 L698.7,4336.3 L682.5,4355.2 L655.5,4371.4 L628.5,4380.9 L601.5,4384.9 L574.5,4386.3 L547.5,4384.9 L520.5,4382.2 L493.5,4378.2 L480.0,4375.5 L452.3,4362.5 L418.5,4354.1 L384.8,4344.0 L351.0,4332.2 L317.3,4320.3 L283.5,4308.5 L259.9,4291.6 Z" fill="#ffb800" />
<path d="M888.6,4472.2 L929.1,4467.1 L979.7,4469.6 L1030.4,4479.7 L1065.8,4487.3 L1106.3,4489.9 L1146.8,4487.3 L1182.3,4484.8 L1150.0,4488.0 L1200.6,4482.9 L1251.3,4477.8 L1301.9,4477.8 L1352.5,4482.9 L1388.0,4490.5 L1352.5,4498.1 L1301.9,4503.2 L1251.3,4503.2 L1200.6,4500.6 L1150.0,4498.1 L1157.0,4498.5 L1106.3,4494.9 L1055.7,4494.9 L1015.2,4492.4 L964.6,4487.3 L913.9,4479.7 Z" fill="#ffb800" />
<path d="M1474.1,4488.0 L1514.6,4480.4 L1565.2,4477.8 L1565.2,4490.5 L1514.6,4492.0 Z" fill="#ffb800" />
<path d="M1605.7,4579.1 L1625.9,4578.1 L1641.1,4583.2 L1625.9,4586.7 L1608.2,4585.7 Z" fill="#ffb800" />
<path d="M1870.0,4553.0 L1920.0,4545.0 L1980.0,4542.0 L2010.0,4552.0 L1980.0,4562.0 L1920.0,4565.0 L1880.0,4562.0 Z" fill="#ffb800" />
<path d="M1790.0,4230.0 L1820.0,4205.0 L1870.0,4185.0 L1930.0,4170.0 L1990.0,4165.0 L2040.0,4175.0 L2060.0,4200.0 L2055.0,4235.0 L2030.0,4260.0 L1990.0,4275.0 L1930.0,4280.0 L1870.0,4278.0 L1820.0,4270.0 L1790.0,4255.0 Z" fill="#ffb800" />
<path d="M283.5,4274.8 L293.6,4254.5 L317.3,4239.3 L351.0,4229.2 L384.8,4225.8 L418.5,4225.8 L452.3,4227.5 L480.0,4228.3 L507.0,4231.0 L534.0,4236.4 L561.0,4243.2 L588.0,4255.3 L615.0,4268.8 L642.0,4287.7 L663.6,4309.3 L671.7,4336.3 L655.5,4349.8 L628.5,4360.6 L601.5,4366.0 L574.5,4368.7 L547.5,4368.7 L520.5,4367.4 L493.5,4364.7 L480.0,4363.3 L452.3,4349.0 L418.5,4340.6 L384.8,4330.5 L351.0,4318.6 L317.3,4308.5 L290.3,4295.0 Z" fill="#ff9000" />
<path d="M957.0,4484.8 L984.8,4478.2 L1020.3,4483.3 L1040.5,4489.9 L1015.2,4493.4 L979.7,4492.4 Z" fill="#ff9000" />
<path d="M1190.5,4490.5 L1225.9,4483.9 L1276.6,4481.9 L1327.2,4485.4 L1357.6,4492.0 L1327.2,4500.6 L1276.6,4503.2 L1225.9,4500.6 Z" fill="#ff9000" />
<path d="M1860.0,4235.0 L1900.0,4215.0 L1950.0,4205.0 L1990.0,4220.0 L1985.0,4240.0 L1950.0,4248.0 L1900.0,4248.0 Z" fill="#ff9000" />
<path d="M313.9,4301.8 L317.3,4271.4 L351.0,4252.8 L384.8,4246.1 L418.5,4244.4 L452.3,4246.1 L480.0,4243.2 L507.0,4245.9 L534.0,4252.6 L561.0,4258.0 L588.0,4268.8 L609.6,4285.0 L625.8,4303.9 L644.7,4336.3 L628.5,4344.4 L601.5,4349.8 L574.5,4353.9 L547.5,4355.2 L520.5,4355.2 L493.5,4353.9 L480.0,4352.5 L452.3,4335.5 L418.5,4328.8 L384.8,4320.3 L351.0,4310.2 L327.4,4305.1 Z" fill="#ff4040" />
<path d="M1210.8,4493.0 L1241.1,4487.0 L1281.6,4483.9 L1322.2,4487.0 L1347.5,4493.0 L1322.2,4500.6 L1281.6,4503.2 L1241.1,4500.6 Z" fill="#ff4040" />
<path d="M1895.0,4552.0 L1940.0,4545.0 L1985.0,4547.0 L1990.0,4555.0 L1950.0,4562.0 L1905.0,4560.0 Z" fill="#ff4040" />
<path d="M340.9,4301.8 L351.0,4274.8 L378.0,4264.6 L418.5,4261.3 L452.3,4263.0 L480.0,4255.3 L507.0,4258.0 L534.0,4266.1 L561.0,4276.9 L588.0,4290.4 L604.2,4306.6 L615.0,4336.3 L596.1,4339.0 L574.5,4341.7 L547.5,4343.1 L520.5,4343.1 L493.5,4343.1 L480.0,4343.1 L435.4,4328.8 L401.7,4322.0 L367.9,4313.6 Z" fill="#ff0d8c" />
<path d="M1241.1,4494.1 L1266.5,4488.0 L1296.8,4487.0 L1322.2,4490.5 L1312.0,4499.1 L1281.6,4503.2 L1251.3,4500.6 Z" fill="#ff0d8c" />
<path d="M1910.0,4553.0 L1940.0,4548.0 L1965.0,4552.0 L1950.0,4558.0 L1920.0,4558.0 Z" fill="#ff0d8c" />
<path d="M371.3,4301.8 L391.5,4281.5 L418.5,4276.5 L452.3,4274.8 L486.0,4278.1 L519.8,4286.6 L553.5,4298.4 L573.8,4308.5 L578.9,4328.8 L553.5,4335.5 L519.8,4337.2 L486.0,4333.8 L452.3,4327.1 L418.5,4318.6 L391.5,4310.2 Z" fill="#e600e6" />
<path d="M411.8,4303.5 L435.4,4293.3 L469.2,4288.3 L502.9,4290.0 L526.6,4298.4 L535.0,4306.8 L526.6,4318.6 L502.9,4322.0 L469.2,4318.6 L435.4,4311.9 Z" fill="#b300f8" />
<path d="M397.5,3747.5 L397.5,4673 M576.9,3747.5 L576.9,4673 M756.3,3747.5 L756.3,4673 M935.7,3747.5 L935.7,4673 M1115.1,3747.5 L1115.1,4673 M1294.5,3747.5 L1294.5,4673 M1473.9,3747.5 L1473.9,4673 M1653.3,3747.5 L1653.3,4673 M1832.7,3747.5 L1832.7,4673 M2012.1,3747.5 L2012.1,4673 M217,4057.5 L2117.5,4057.5 M217,4365.6 L2117.5,4365.6 M217,4551.4 L2117.5,4551.4 M217,4612 L2117.5,4612 M217,4645 L2117.5,4645 M217,4662 L2117.5,4662 M217,4669 L2117.5,4669" stroke="#b8b8b8" stroke-opacity="0.6" stroke-width="2.4" stroke-dasharray="2.5,9" fill="none"/>
<path d="M220.0,4672.0 L220.5,4671.4 L221.0,4670.7 L221.5,4670.1 L222.0,4669.5 L222.5,4668.9 L223.0,4668.2 L223.5,4667.6 L224.0,4667.0 L224.5,4666.4 L225.0,4665.7 L225.5,4665.1 L226.0,4664.5 L226.5,4663.9 L227.0,4663.2 L227.5,4662.6 L228.0,4662.0 L228.5,4661.4 L229.0,4660.7 L229.5,4660.1 L230.0,4659.5 L230.5,4658.9 L231.0,4658.2 L231.5,4657.6 L232.0,4657.0 L232.5,4656.4 L233.0,4655.7 L233.5,4655.1 L234.0,4654.5 L234.5,4653.9 L235.0,4653.2 L235.5,4652.6 L236.0,4652.0 L236.5,4651.4 L237.0,4650.7 L237.5,4649.9 L238.0,4649.9 L238.5,4647.9 L239.0,4647.9 L239.5,4647.9 L240.0,4647.9 L240.5,4645.7 L241.0,4645.7 L241.5,4645.7 L242.0,4643.3 L242.5,4643.3 L243.0,4643.3 L243.5,4643.3 L244.0,4640.7 L244.5,4640.7 L245.0,4640.7 L245.5,4640.7 L246.0,4640.7 L246.5,4637.9 L247.0,4637.9 L247.5,4637.9 L248.0,4637.9 L248.5,4634.8 L249.0,4634.8 L249.5,4634.8 L250.0,4634.8 L250.5,4634.8 L251.0,4634.8 L251.5,4631.5 L252.0,4631.5 L252.5,4631.5 L253.0,4631.5 L253.5,4631.5 L254.0,4627.8 L254.5,4627.8 L255.0,4627.8 L255.5,4627.8 L256.0,4627.8 L256.5,4627.8 L257.0,4623.8 L257.5,4623.8 L258.0,4623.8 L258.5,4623.8 L259.0,4623.8 L259.5,4623.8 L260.0,4623.8 L260.5,4619.4 L261.0,4619.4 L261.5,4619.4 L262.0,4619.4 L262.5,4619.4 L263.0,4619.4 L263.5,4619.4 L264.0,4614.7 L264.5,4614.7 L265.0,4614.7 L265.5,4614.7 L266.0,4614.7 L266.5,4614.7 L267.0,4614.7 L267.5,4614.7 L268.0,4609.5 L268.5,4609.5 L269.0,4609.5 L269.5,4609.5 L270.0,4609.5 L270.5,4609.5 L271.0,4609.5 L271.5,4609.5 L272.0,4609.5 L272.5,4603.8 L273.0,4603.8 L273.5,4603.8 L274.0,4603.8 L274.5,4603.8 L275.0,4603.8 L275.5,4603.8 L276.0,4603.8 L276.5,4603.8 L277.0,4597.7 L277.5,4597.7 L278.0,4597.7 L278.5,4597.7 L279.0,4597.7 L279.5,4597.7 L280.0,4597.7 L280.5,4597.7 L281.0,4597.7 L281.5,4597.7 L282.0,4597.7 L282.5,4590.9 L283.0,4590.9 L283.5,4590.9 L284.0,4590.9 L284.5,4590.9 L285.0,4590.9 L285.5,4590.9 L286.0,4590.9 L286.5,4590.9 L287.0,4590.9 L287.5,4590.9 L288.0,4583.6 L288.5,4583.6 L289.0,4583.6 L289.5,4583.6 L290.0,4583.6 L290.5,4583.6 L291.0,4583.6 L291.5,4583.6 L292.0,4583.6 L292.5,4583.6 L293.0,4583.6 L293.5,4583.6 L294.0,4575.6 L294.5,4575.6 L295.0,4575.6 L295.5,4575.6 L296.0,4575.6 L296.5,4575.6 L297.0,4575.6 L297.5,4575.6 L298.0,4575.6 L298.5,4575.6 L299.0,4575.6 L299.5,4575.6 L300.0,4575.6 L300.5,4566.9 L301.0,4566.9 L301.5,4566.9 L302.0,4566.9 L302.5,4566.9 L303.0,4566.9 L303.5,4566.9 L304.0,4566.9 L304.5,4566.9 L305.0,4566.9 L305.5,4566.9 L306.0,4566.9 L306.5,4566.9 L307.0,4566.9 L307.5,4566.9 L308.0,4557.4 L308.5,4557.4 L309.0,4557.4 L309.5,4557.4 L310.0,4557.4 L310.5,4557.4 L311.0,4557.4 L311.5,4557.4 L312.0,4557.4 L312.5,4557.4 L313.0,4557.4 L313.5,4557.4 L314.0,4557.4 L314.5,4557.4 L315.0,4557.4 L315.5,4557.4 L316.0,4547.0 L316.5,4547.0 L317.0,4547.0 L317.5,4547.0 L318.0,4547.0 L318.5,4547.0 L319.0,4547.0 L319.5,4547.0 L320.0,4547.0 L320.5,4547.0 L321.0,4547.0 L321.5,4547.0 L322.0,4547.0 L322.5,4547.0 L323.0,4547.0 L323.5,4547.0 L324.0,4547.0 L324.5,4535.7 L325.0,4535.7 L325.5,4535.7 L326.0,4535.7 L326.5,4535.7 L327.0,4535.7 L327.5,4535.7 L328.0,4535.7 L328.5,4535.7 L329.0,4535.7 L329.5,4535.7 L330.0,4535.7 L330.5,4535.7 L331.0,4535.7 L331.5,4535.7 L332.0,4535.7 L332.5,4535.7 L333.0,4535.7 L333.5,4535.7 L334.0,4523.3 L334.5,4523.3 L335.0,4523.3 L335.5,4523.3 L336.0,4523.3 L336.5,4523.3 L337.0,4523.3 L337.5,4523.3 L338.0,4523.3 L338.5,4523.3 L339.0,4523.3 L339.5,4523.3 L340.0,4523.3 L340.5,4523.3 L341.0,4523.3 L341.5,4523.3 L342.0,4523.3 L342.5,4523.3 L343.0,4523.3 L343.5,4523.3 L344.0,4523.3 L344.5,4509.9 L345.0,4509.9 L345.5,4509.9 L346.0,4509.9 L346.5,4509.9 L347.0,4509.9 L347.5,4509.9 L348.0,4509.9 L348.5,4509.9 L349.0,4509.9 L349.5,4509.9 L350.0,4509.9 L350.5,4509.9 L351.0,4509.9 L351.5,4509.9 L352.0,4509.9 L352.5,4509.9 L353.0,4509.9 L353.5,4509.9 L354.0,4509.9 L354.5,4509.9 L355.0,4509.9 L355.5,4495.2 L356.0,4495.2 L356.5,4495.2 L357.0,4495.2 L357.5,4495.2 L358.0,4495.2 L358.5,4495.2 L359.0,4495.2 L359.5,4495.2 L360.0,4495.2 L360.5,4495.2 L361.0,4495.2 L361.5,4495.2 L362.0,4495.2 L362.5,4495.2 L363.0,4495.2 L363.5,4495.2 L364.0,4495.2 L364.5,4495.2 L365.0,4495.2 L365.5,4495.2 L366.0,4495.2 L366.5,4495.2 L367.0,4495.2 L367.5,4495.2 L368.0,4479.2 L368.5,4479.2 L369.0,4479.2 L369.5,4479.2 L370.0,4479.2 L370.5,4479.2 L371.0,4479.2 L371.5,4479.2 L372.0,4479.2 L372.5,4479.2 L373.0,4479.2 L373.5,4479.2 L374.0,4479.2 L374.5,4479.2 L375.0,4479.2 L375.5,4479.2 L376.0,4479.2 L376.5,4479.2 L377.0,4479.2 L377.5,4479.2 L378.0,4479.2 L378.5,4479.2 L379.0,4479.2 L379.5,4479.2 L380.0,4479.2 L380.5,4479.2 L381.0,4461.8 L381.5,4461.8 L382.0,4461.8 L382.5,4461.8 L383.0,4461.8 L383.5,4461.8 L384.0,4461.8 L384.5,4461.8 L385.0,4461.8 L385.5,4461.8 L386.0,4461.8 L386.5,4461.8 L387.0,4461.8 L387.5,4461.8 L388.0,4461.8 L388.5,4461.8 L389.0,4461.8 L389.5,4461.8 L390.0,4461.8 L390.5,4461.8 L391.0,4461.8 L391.5,4461.8 L392.0,4461.8 L392.5,4461.8 L393.0,4461.8 L393.5,4461.8 L394.0,4461.8 L394.5,4461.8 L395.0,4461.8 L395.5,4461.8 L396.0,4442.7 L396.5,4442.7 L397.0,4442.7 L397.5,4442.7 L398.0,4442.7 L398.5,4442.7 L399.0,4442.7 L399.5,4442.7 L400.0,4442.7 L400.5,4442.7 L401.0,4442.7 L401.5,4442.7 L402.0,4442.7 L402.5,4442.7 L403.0,4442.7 L403.5,4442.7 L404.0,4442.7 L404.5,4442.7 L405.0,4442.7 L405.5,4442.7 L406.0,4442.7 L406.5,4442.7 L407.0,4442.7 L407.5,4442.7 L408.0,4442.7 L408.5,4442.7 L409.0,4442.7 L409.5,4442.7 L410.0,4442.7 L410.5,4442.7 L411.0,4442.7 L411.5,4422.0 L412.0,4422.0 L412.5,4422.0 L413.0,4422.0 L413.5,4422.0 L414.0,4422.0 L414.5,4422.0 L415.0,4422.0 L415.5,4422.0 L416.0,4422.0 L416.5,4422.0 L417.0,4422.0 L417.5,4422.0 L418.0,4422.0 L418.5,4422.0 L419.0,4422.0 L419.5,4422.0 L420.0,4422.0 L420.5,4422.0 L421.0,4422.0 L421.5,4422.0 L422.0,4422.0 L422.5,4422.0 L423.0,4422.0 L423.5,4422.0 L424.0,4422.0 L424.5,4422.0 L425.0,4422.0 L425.5,4422.0 L426.0,4422.0 L426.5,4422.0 L427.0,4422.0 L427.5,4422.0 L428.0,4422.0 L428.5,4422.0 L429.0,4399.4 L429.5,4399.4 L430.0,4399.4 L430.5,4399.4 L431.0,4399.4 L431.5,4399.4 L432.0,4399.4 L432.5,4399.4 L433.0,4399.4 L433.5,4399.4 L434.0,4399.4 L434.5,4399.4 L435.0,4399.4 L435.5,4399.4 L436.0,4399.4 L436.5,4399.4 L437.0,4399.4 L437.5,4399.4 L438.0,4399.4 L438.5,4399.4 L439.0,4399.4 L439.5,4399.4 L440.0,4399.4 L440.5,4399.4 L441.0,4399.4 L441.5,4399.4 L442.0,4399.4 L442.5,4399.4 L443.0,4399.4 L443.5,4399.4 L444.0,4399.4 L444.5,4399.4 L445.0,4399.4 L445.5,4399.4 L446.0,4399.4 L446.5,4399.4 L447.0,4399.4 L447.5,4399.4 L448.0,4374.7 L448.5,4374.7 L449.0,4374.7 L449.5,4374.7 L450.0,4374.7 L450.5,4374.7 L451.0,4374.7 L451.5,4374.7 L452.0,4374.7 L452.5,4374.7 L453.0,4374.7 L453.5,4374.7 L454.0,4374.7 L454.5,4374.7 L455.0,4374.7 L455.5,4374.7 L456.0,4374.7 L456.5,4374.7 L457.0,4374.7 L457.5,4374.7 L458.0,4374.7 L458.5,4374.7 L459.0,4374.7 L459.5,4374.7 L460.0,4374.7 L460.5,4374.7 L461.0,4374.7 L461.5,4374.7 L462.0,4374.7 L462.5,4374.7 L463.0,4374.7 L463.5,4374.7 L464.0,4374.7 L464.5,4374.7 L465.0,4374.7 L465.5,4374.7 L466.0,4374.7 L466.5,4374.7 L467.0,4374.7 L467.5,4374.7 L468.0,4374.7 L468.5,4347.8 L469.0,4347.8 L469.5,4347.8 L470.0,4347.8 L470.5,4347.8 L471.0,4347.8 L471.5,4347.8 L472.0,4347.8 L472.5,4347.8 L473.0,4347.8 L473.5,4347.8 L474.0,4347.8 L474.5,4347.8 L475.0,4347.8 L475.5,4347.8 L476.0,4347.8 L476.5,4347.8 L477.0,4347.8 L477.5,4347.8 L478.0,4347.8 L478.5,4347.8 L479.0,4347.8 L479.5,4347.8 L480.0,4347.8 L480.5,4347.8 L481.0,4347.8 L481.5,4347.8 L482.0,4347.8 L482.5,4347.8 L483.0,4347.8 L483.5,4347.8 L484.0,4347.8 L484.5,4347.8 L485.0,4347.8 L485.5,4347.8 L486.0,4347.8 L486.5,4347.8 L487.0,4347.8 L487.5,4347.8 L488.0,4347.8 L488.5,4347.8 L489.0,4347.8 L489.5,4347.8 L490.0,4347.8 L490.5,4347.8 L491.0,4318.4 L491.5,4318.4 L492.0,4318.4 L492.5,4318.4 L493.0,4318.4 L493.5,4318.4 L494.0,4318.4 L494.5,4318.4 L495.0,4318.4 L495.5,4318.4 L496.0,4318.4 L496.5,4318.4 L497.0,4318.4 L497.5,4318.4 L498.0,4318.4 L498.5,4318.4 L499.0,4318.4 L499.5,4318.4 L500.0,4318.4 L500.5,4318.4 L501.0,4318.4 L501.5,4318.4 L502.0,4318.4 L502.5,4318.4 L503.0,4318.4 L503.5,4318.4 L504.0,4318.4 L504.5,4318.4 L505.0,4318.4 L505.5,4318.4 L506.0,4318.4 L506.5,4318.4 L507.0,4318.4 L507.5,4318.4 L508.0,4318.4 L508.5,4318.4 L509.0,4318.4 L509.5,4318.4 L510.0,4318.4 L510.5,4318.4 L511.0,4318.4 L511.5,4318.4 L512.0,4318.4 L512.5,4318.4 L513.0,4318.4 L513.5,4318.4 L514.0,4318.4 L514.5,4318.4 L515.0,4318.4 L515.5,4286.4 L516.0,4286.4 L516.5,4286.4 L517.0,4286.4 L517.5,4286.4 L518.0,4286.4 L518.5,4286.4 L519.0,4286.4 L519.5,4286.4 L520.0,4286.4 L520.5,4286.4 L521.0,4286.4 L521.5,4286.4 L522.0,4286.4 L522.5,4286.4 L523.0,4286.4 L523.5,4286.4 L524.0,4286.4 L524.5,4286.4 L525.0,4286.4 L525.5,4286.4 L526.0,4286.4 L526.5,4286.4 L527.0,4286.4 L527.5,4286.4 L528.0,4286.4 L528.5,4286.4 L529.0,4286.4 L529.5,4286.4 L530.0,4286.4 L530.5,4286.4 L531.0,4286.4 L531.5,4286.4 L532.0,4286.4 L532.5,4286.4 L533.0,4286.4 L533.5,4286.4 L534.0,4286.4 L534.5,4286.4 L535.0,4286.4 L535.5,4286.4 L536.0,4286.4 L536.5,4286.4 L537.0,4286.4 L537.5,4286.4 L538.0,4286.4 L538.5,4286.4 L539.0,4286.4 L539.5,4286.4 L540.0,4286.4 L540.5,4286.4 L541.0,4286.4 L541.5,4286.4 L542.0,4251.5 L542.5,4251.5 L543.0,4251.5 L543.5,4251.5 L544.0,4251.5 L544.5,4251.5 L545.0,4251.5 L545.5,4251.5 L546.0,4251.5 L546.5,4251.5 L547.0,4251.5 L547.5,4251.5 L548.0,4251.5 L548.5,4251.5 L549.0,4251.5 L549.5,4251.5 L550.0,4251.5 L550.5,4251.5 L551.0,4251.5 L551.5,4251.5 L552.0,4251.5 L552.5,4251.5 L553.0,4251.5 L553.5,4251.5 L554.0,4251.5 L554.5,4251.5 L555.0,4251.5 L555.5,4251.5 L556.0,4251.5 L556.5,4251.5 L557.0,4251.5 L557.5,4251.5 L558.0,4251.5 L558.5,4251.5 L559.0,4251.5 L559.5,4251.5 L560.0,4251.5 L560.5,4251.5 L561.0,4251.5 L561.5,4251.5 L562.0,4251.5 L562.5,4251.5 L563.0,4251.5 L563.5,4251.5 L564.0,4251.5 L564.5,4251.5 L565.0,4251.5 L565.5,4251.5 L566.0,4251.5 L566.5,4251.5 L567.0,4251.5 L567.5,4251.5 L568.0,4251.5 L568.5,4251.5 L569.0,4251.5 L569.5,4251.5 L570.0,4251.5 L570.5,4251.5 L571.0,4251.5 L571.5,4213.5 L572.0,4213.5 L572.5,4213.5 L573.0,4213.5 L573.5,4213.5 L574.0,4213.5 L574.5,4213.5 L575.0,4213.5 L575.5,4213.5 L576.0,4213.5 L576.5,4213.5 L577.0,4213.5 L577.5,4213.5 L578.0,4213.5 L578.5,4213.5 L579.0,4213.5 L579.5,4213.5 L580.0,4213.5 L580.5,4213.5 L581.0,4213.5 L581.5,4213.5 L582.0,4213.5 L582.5,4213.5 L583.0,4213.5 L583.5,4213.5 L584.0,4213.5 L584.5,4213.5 L585.0,4213.5 L585.5,4213.5 L586.0,4213.5 L586.5,4213.5 L587.0,4213.5 L587.5,4213.5 L588.0,4213.5 L588.5,4213.5 L589.0,4213.5 L589.5,4213.5 L590.0,4213.5 L590.5,4213.5 L591.0,4213.5 L591.5,4213.5 L592.0,4213.5 L592.5,4213.5 L593.0,4213.5 L593.5,4213.5 L594.0,4213.5 L594.5,4213.5 L595.0,4213.5 L595.5,4213.5 L596.0,4213.5 L596.5,4213.5 L597.0,4213.5 L597.5,4213.5 L598.0,4213.5 L598.5,4213.5 L599.0,4213.5 L599.5,4213.5 L600.0,4213.5 L600.5,4213.5 L601.0,4213.5 L601.5,4213.5 L602.0,4213.5 L602.5,4213.5 L603.0,4172.0 L603.5,4172.0 L604.0,4172.0 L604.5,4172.0 L605.0,4172.0 L605.5,4172.0 L606.0,4172.0 L606.5,4172.0 L607.0,4172.0 L607.5,4172.0 L608.0,4172.0 L608.5,4172.0 L609.0,4172.0 L609.5,4172.0 L610.0,4172.0 L610.5,4172.0 L611.0,4172.0 L611.5,4172.0 L612.0,4172.0 L612.5,4172.0 L613.0,4172.0 L613.5,4172.0 L614.0,4172.0 L614.5,4172.0 L615.0,4172.0 L615.5,4172.0 L616.0,4172.0 L616.5,4172.0 L617.0,4172.0 L617.5,4172.0 L618.0,4172.0 L618.5,4172.0 L619.0,4172.0 L619.5,4172.0 L620.0,4172.0 L620.5,4172.0 L621.0,4172.0 L621.5,4172.0 L622.0,4172.0 L622.5,4172.0 L623.0,4172.0 L623.5,4172.0 L624.0,4172.0 L624.5,4172.0 L625.0,4172.0 L625.5,4172.0 L626.0,4172.0 L626.5,4172.0 L627.0,4172.0 L627.5,4172.0 L628.0,4172.0 L628.5,4172.0 L629.0,4172.0 L629.5,4172.0 L630.0,4172.0 L630.5,4172.0 L631.0,4172.0 L631.5,4172.0 L632.0,4172.0 L632.5,4172.0 L633.0,4172.0 L633.5,4172.0 L634.0,4172.0 L634.5,4172.0 L635.0,4172.0 L635.5,4172.0 L636.0,4172.0 L636.5,4172.0 L637.0,4172.0 L637.5,4172.0 L638.0,4126.7 L638.5,4126.7 L639.0,4126.7 L639.5,4126.7 L640.0,4126.7 L640.5,4126.7 L641.0,4126.7 L641.5,4126.7 L642.0,4126.7 L642.5,4126.7 L643.0,4126.7 L643.5,4126.7 L644.0,4126.7 L644.5,4126.7 L645.0,4126.7 L645.5,4126.7 L646.0,4126.7 L646.5,4126.7 L647.0,4126.7 L647.5,4126.7 L648.0,4126.7 L648.5,4126.7 L649.0,4126.7 L649.5,4126.7 L650.0,4126.7 L650.5,4126.7 L651.0,4126.7 L651.5,4126.7 L652.0,4126.7 L652.5,4126.7 L653.0,4126.7 L653.5,4126.7 L654.0,4126.7 L654.5,4126.7 L655.0,4126.7 L655.5,4126.7 L656.0,4126.7 L656.5,4126.7 L657.0,4126.7 L657.5,4126.7 L658.0,4126.7 L658.5,4126.7 L659.0,4126.7 L659.5,4126.7 L660.0,4126.7 L660.5,4126.7 L661.0,4126.7 L661.5,4126.7 L662.0,4126.7 L662.5,4126.7 L663.0,4126.7 L663.5,4126.7 L664.0,4126.7 L664.5,4126.7 L665.0,4126.7 L665.5,4126.7 L666.0,4126.7 L666.5,4126.7 L667.0,4126.7 L667.5,4126.7 L668.0,4126.7 L668.5,4126.7 L669.0,4126.7 L669.5,4126.7 L670.0,4126.7 L670.5,4126.7 L671.0,4126.7 L671.5,4126.7 L672.0,4126.7 L672.5,4126.7 L673.0,4126.7 L673.5,4126.7 L674.0,4126.7 L674.5,4126.7 L675.0,4126.7 L675.5,4077.4 L676.0,4077.4 L676.5,4077.4 L677.0,4077.4 L677.5,4077.4 L678.0,4077.4 L678.5,4077.4 L679.0,4077.4 L679.5,4077.4 L680.0,4077.4 L680.5,4077.4 L681.0,4077.4 L681.5,4077.4 L682.0,4077.4 L682.5,4077.4 L683.0,4077.4 L683.5,4077.4 L684.0,4077.4 L684.5,4077.4 L685.0,4077.4 L685.5,4077.4 L686.0,4077.4 L686.5,4077.4 L687.0,4077.4 L687.5,4077.4 L688.0,4077.4 L688.5,4077.4 L689.0,4077.4 L689.5,4077.4 L690.0,4077.4 L690.5,4077.4 L691.0,4077.4 L691.5,4077.4 L692.0,4077.4 L692.5,4077.4 L693.0,4077.4 L693.5,4077.4 L694.0,4077.4 L694.5,4077.4 L695.0,4077.4 L695.5,4077.4 L696.0,4077.4 L696.5,4077.4 L697.0,4077.4 L697.5,4077.4 L698.0,4077.4 L698.5,4077.4 L699.0,4077.4 L699.5,4077.4 L700.0,4077.4 L700.5,4077.4 L701.0,4077.4 L701.5,4077.4 L702.0,4077.4 L702.5,4077.4 L703.0,4077.4 L703.5,4077.4 L704.0,4077.4 L704.5,4077.4 L705.0,4077.4 L705.5,4077.4 L706.0,4077.4 L706.5,4077.4 L707.0,4077.4 L707.5,4077.4 L708.0,4077.4 L708.5,4077.4 L709.0,4077.4 L709.5,4077.4 L710.0,4077.4 L710.5,4077.4 L711.0,4077.4 L711.5,4077.4 L712.0,4077.4 L712.5,4077.4 L713.0,4077.4 L713.5,4077.4 L714.0,4077.4 L714.5,4077.4 L715.0,4077.4 L715.5,4077.4 L716.0,4077.4 L716.5,4077.4 L717.0,4023.5 L717.5,4023.5 L718.0,4023.5 L718.5,4023.5 L719.0,4023.5 L719.5,4023.5 L720.0,4023.5 L720.5,4023.5 L721.0,4023.5 L721.5,4023.5 L722.0,4023.5 L722.5,4023.5 L723.0,4023.5 L723.5,4023.5 L724.0,4023.5 L724.5,4023.5 L725.0,4023.5 L725.5,4023.5 L726.0,4023.5 L726.5,4023.5 L727.0,4023.5 L727.5,4023.5 L728.0,4023.5 L728.5,4023.5 L729.0,4023.5 L729.5,4023.5 L730.0,4023.5 L730.5,4023.5 L731.0,4023.5 L731.5,4023.5 L732.0,4023.5 L732.5,4023.5 L733.0,4023.5 L733.5,4023.5 L734.0,4023.5 L734.5,4023.5 L735.0,4023.5 L735.5,4023.5 L736.0,4023.5 L736.5,4023.5 L737.0,4023.5 L737.5,4023.5 L738.0,4023.5 L738.5,4023.5 L739.0,4023.5 L739.5,4023.5 L740.0,4023.5 L740.5,4023.5 L741.0,4023.5 L741.5,4023.5 L742.0,4023.5 L742.5,4023.5 L743.0,4023.5 L743.5,4023.5 L744.0,4023.5 L744.5,4023.5 L745.0,4023.5 L745.5,4023.5 L746.0,4023.5 L746.5,4023.5 L747.0,4023.5 L747.5,4023.5 L748.0,4023.5 L748.5,4023.5 L749.0,4023.5 L749.5,4023.5 L750.0,4023.5 L750.5,4023.5 L751.0,4023.5 L751.5,4023.5 L752.0,4023.5 L752.5,4023.5 L753.0,4023.5 L753.5,4023.5 L754.0,4023.5 L754.5,4023.5 L755.0,4023.5 L755.5,4023.5 L756.0,4023.5 L756.5,4023.5 L757.0,4023.5 L757.5,4023.5 L758.0,4023.5 L758.5,4023.5 L759.0,4023.5 L759.5,4023.5 L760.0,4023.5 L760.5,4023.5 L761.0,4023.5 L761.5,4023.5 L762.0,3964.9 L762.5,3964.9 L763.0,3964.9 L763.5,3964.9 L764.0,3964.9 L764.5,3964.9 L765.0,3964.9 L765.5,3964.9 L766.0,3964.9 L766.5,3964.9 L767.0,3964.9 L767.5,3964.9 L768.0,3964.9 L768.5,3964.9 L769.0,3964.9 L769.5,3964.9 L770.0,3964.9 L770.5,3964.9 L771.0,3964.9 L771.5,3964.9 L772.0,3964.9 L772.5,3964.9 L773.0,3964.9 L773.5,3964.9 L774.0,3964.9 L774.5,3964.9 L775.0,3964.9 L775.5,3964.9 L776.0,3964.9 L776.5,3964.9 L777.0,3964.9 L777.5,3964.9 L778.0,3964.9 L778.5,3964.9 L779.0,3964.9 L779.5,3964.9 L780.0,3964.9 L780.5,3964.9 L781.0,3964.9 L781.5,3964.9 L782.0,3964.9 L782.5,3964.9 L783.0,3964.9 L783.5,3964.9 L784.0,3964.9 L784.5,3964.9 L785.0,3964.9 L785.5,3964.9 L786.0,3964.9 L786.5,3964.9 L787.0,3964.9 L787.5,3964.9 L788.0,3964.9 L788.5,3964.9 L789.0,3964.9 L789.5,3964.9 L790.0,3964.9 L790.5,3964.9 L791.0,3964.9 L791.5,3964.9 L792.0,3964.9 L792.5,3964.9 L793.0,3964.9 L793.5,3964.9 L794.0,3964.9 L794.5,3964.9 L795.0,3964.9 L795.5,3964.9 L796.0,3964.9 L796.5,3964.9 L797.0,3964.9 L797.5,3964.9 L798.0,3964.9 L798.5,3964.9 L799.0,3964.9 L799.5,3964.9 L800.0,3964.9 L800.5,3964.9 L801.0,3964.9 L801.5,3964.9 L802.0,3964.9 L802.5,3964.9 L803.0,3964.9 L803.5,3964.9 L804.0,3964.9 L804.5,3964.9 L805.0,3964.9 L805.5,3964.9 L806.0,3964.9 L806.5,3964.9 L807.0,3964.9 L807.5,3964.9 L808.0,3964.9 L808.5,3964.9 L809.0,3964.9 L809.5,3964.9 L810.0,3964.9 L810.5,3964.9 L811.0,3900.9 L811.5,3900.9 L812.0,3900.9 L812.5,3900.9 L813.0,3900.9 L813.5,3900.9 L814.0,3900.9 L814.5,3900.9 L815.0,3900.9 L815.5,3900.9 L816.0,3900.9 L816.5,3900.9 L817.0,3900.9 L817.5,3900.9 L818.0,3900.9 L818.5,3900.9 L819.0,3900.9 L819.5,3900.9 L820.0,3900.9 L820.5,3900.9 L821.0,3900.9 L821.5,3900.9 L822.0,3900.9 L822.5,3900.9 L823.0,3900.9 L823.5,3900.9 L824.0,3900.9 L824.5,3900.9 L825.0,3900.9 L825.5,3900.9 L826.0,3900.9 L826.5,3900.9 L827.0,3900.9 L827.5,3900.9 L828.0,3900.9 L828.5,3900.9 L829.0,3900.9 L829.5,3900.9 L830.0,3900.9 L830.5,3900.9 L831.0,3900.9 L831.5,3900.9 L832.0,3900.9 L832.5,3900.9 L833.0,3900.9 L833.5,3900.9 L834.0,3900.9 L834.5,3900.9 L835.0,3900.9 L835.5,3900.9 L836.0,3900.9 L836.5,3900.9 L837.0,3900.9 L837.5,3900.9 L838.0,3900.9 L838.5,3900.9 L839.0,3900.9 L839.5,3900.9 L840.0,3900.9 L840.5,3900.9 L841.0,3900.9 L841.5,3900.9 L842.0,3900.9 L842.5,3900.9 L843.0,3900.9 L843.5,3900.9 L844.0,3900.9 L844.5,3900.9 L845.0,3900.9 L845.5,3900.9 L846.0,3900.9 L846.5,3900.9 L847.0,3900.9 L847.5,3900.9 L848.0,3900.9 L848.5,3900.9 L849.0,3900.9 L849.5,3900.9 L850.0,3900.9 L850.5,3900.9 L851.0,3900.9 L851.5,3900.9 L852.0,3900.9 L852.5,3900.9 L853.0,3900.9 L853.5,3900.9 L854.0,3900.9 L854.5,3900.9 L855.0,3900.9 L855.5,3900.9 L856.0,3900.9 L856.5,3900.9 L857.0,3900.9 L857.5,3900.9 L858.0,3900.9 L858.5,3900.9 L859.0,3900.9 L859.5,3900.9 L860.0,3900.9 L860.5,3900.9 L861.0,3900.9 L861.5,3900.9 L862.0,3900.9 L862.5,3900.9 L863.0,3900.9 L863.5,3900.9 L864.0,3831.1 L864.5,3831.1 L865.0,3831.1 L865.5,3831.1 L866.0,3831.1 L866.5,3831.1 L867.0,3831.1 L867.5,3831.1 L868.0,3831.1 L868.5,3831.1 L869.0,3831.1 L869.5,3831.1 L870.0,3831.1 L870.5,3831.1 L871.0,3831.1 L871.5,3831.1 L872.0,3831.1 L872.5,3831.1 L873.0,3831.1 L873.5,3831.1 L874.0,3831.1 L874.5,3831.1 L875.0,3831.1 L875.5,3831.1 L876.0,3831.1 L876.5,3831.1 L877.0,3831.1 L877.5,3831.1 L878.0,3831.1 L878.5,3831.1 L879.0,3831.1 L879.5,3831.1 L880.0,3831.1 L880.5,3831.1 L881.0,3831.1 L881.5,3831.1 L882.0,3831.1 L882.5,3831.1 L883.0,3831.1 L883.5,3831.1 L884.0,3831.1 L884.5,3831.1 L885.0,3831.1 L885.5,3831.1 L886.0,3831.1 L886.5,3831.1 L887.0,3831.1 L887.5,3831.1 L888.0,3831.1 L888.5,3831.1 L889.0,3831.1 L889.5,3831.1 L890.0,3831.1 L890.5,3831.1 L891.0,3831.1 L891.5,3831.1 L892.0,3831.1 L892.5,3831.1 L893.0,3831.1 L893.5,3831.1 L894.0,3831.1 L894.5,3831.1 L895.0,3831.1 L895.5,3831.1 L896.0,3831.1 L896.5,3831.1 L897.0,3831.1 L897.5,3831.1 L898.0,3831.1 L898.5,3831.1 L899.0,3831.1 L899.5,3831.1 L900.0,3831.1 L900.5,3831.1 L901.0,3831.1 L901.5,3831.1 L902.0,3831.1 L902.5,3831.1 L903.0,3831.1 L903.5,3831.1 L904.0,3831.1 L904.5,3831.1 L905.0,3831.1 L905.5,3831.1 L906.0,3831.1 L906.5,3831.1 L907.0,3831.1 L907.5,3831.1 L908.0,3831.1 L908.5,3831.1 L909.0,3831.1 L909.5,3831.1 L910.0,3831.1 L910.5,3831.1 L911.0,3831.1 L911.5,3831.1 L912.0,3831.1 L912.5,3831.1 L913.0,3831.1 L913.5,3831.1 L914.0,3831.1 L914.5,3831.1 L915.0,3831.1 L915.5,3831.1 L916.0,3831.1 L916.5,3831.1 L917.0,3831.1 L917.5,3831.1 L918.0,3831.1 L918.5,3831.1 L919.0,3831.1 L919.5,3831.1 L920.0,3831.1 L920.5,3831.1 L921.0,3831.1 L921.5,3831.1 L922.0,3831.1 L922.5,3754.9 L923.0,3754.9 L923.5,3754.9 L924.0,3754.9 L924.5,3754.9 L925.0,3754.9 L925.5,3754.9 L926.0,3754.9 L926.5,3754.9 L927.0,3754.9 L927.5,3754.9 L928.0,3754.9 L928.5,3754.9 L929.0,3754.9 L929.5,3754.9 L930.0,3754.9 L930.5,3754.9 L931.0,3754.9 L931.5,3754.9 L932.0,3754.9 L932.5,3754.9 L933.0,3754.9 L933.5,3754.9 L934.0,3754.9 L934.5,3754.9 L935.0,3754.9 L935.5,3754.9 L936.0,3754.9 L936.5,3754.9 L937.0,3754.9 L937.5,3754.9 L938.0,3754.9 L938.5,3754.9 L939.0,3754.9 L939.5,3754.9 L940.0,3754.9 L940.5,3754.9 L941.0,3754.9 L941.5,3754.9 L942.0,3754.9 L942.5,3754.9 L943.0,3754.9 L943.5,3754.9 L944.0,3754.9 L944.5,3754.9 L945.0,3754.9 L945.5,3754.9 L946.0,3754.9 L946.5,3754.9 L947.0,3754.9 L947.5,3754.9 L948.0,3754.9 L948.5,3754.9 L949.0,3754.9 L949.5,3754.9 L950.0,3754.9 L950.5,3754.9 L951.0,3754.9 L951.5,3754.9 L952.0,3754.9 L952.5,3754.9 L953.0,3754.9 L953.5,3754.9 L954.0,3754.9 L954.5,3754.9 L955.0,3754.9 L955.5,3754.9 L956.0,3754.9 L956.5,3754.9 L957.0,3754.9 L957.5,3754.9 L958.0,3754.9 L958.5,3754.9 L959.0,3754.9 L959.5,3754.9 L960.0,3754.9 L960.5,3754.9 L961.0,3754.9 L961.5,3754.9 L962.0,3754.9 L962.5,3754.9 L963.0,3754.9 L963.5,3754.9 L964.0,3754.9 L964.5,3754.9 L965.0,3754.9 L965.5,3754.9 L966.0,3754.9 L966.5,3754.9 L967.0,3754.9 L967.5,3754.9 L968.0,3754.9 L968.5,3754.9 L969.0,3754.9 L969.5,3754.9 L970.0,3754.9 L970.5,3754.9 L971.0,3754.9 L971.5,3754.9 L972.0,3754.9 L972.5,3754.9 L973.0,3754.9 L973.5,3754.9 L974.0,3754.9 L974.5,3754.9 L975.0,3754.9 L975.5,3754.9 L976.0,3754.9 L976.5,3754.9 L977.0,3754.9 L977.5,3754.9 L978.0,3754.9 L978.5,3754.9 L979.0,3754.9 L979.5,3754.9 L980.0,3754.9 L980.5,3754.9 L981.0,3754.9 L981.5,3754.9 L982.0,3754.9 L982.5,3754.9 L983.0,3754.9 L983.5,3754.9 L984.0,3754.9 L984.5,3754.9 L985.0,3754.9 L985.5,3754.9 L986.0,3747.5 L986.5,3747.5 L987.0,3747.5 L987.5,3747.5 L988.0,3747.5 L988.5,3747.5 L989.0,3747.5 L989.5,3747.5 L990.0,3747.5 L990.5,3747.5 L991.0,3747.5 L991.5,3747.5 L992.0,3747.5 L992.5,3747.5 L993.0,3747.5 L993.5,3747.5 L994.0,3747.5 L994.5,3747.5 L995.0,3747.5 L995.5,3747.5 L996.0,3747.5 L996.5,3747.5 L997.0,3747.5 L997.5,3747.5 L998.0,3747.5 L998.5,3747.5 L999.0,3747.5 L999.5,3747.5 L1000.0,3747.5 L1000.5,3747.5 L1001.0,3747.5 L1001.5,3747.5 L1002.0,3747.5 L1002.5,3747.5 L1003.0,3747.5 L1003.5,3747.5 L1004.0,3747.5 L1004.5,3747.5 L1005.0,3747.5 L1005.5,3747.5 L1006.0,3747.5 L1006.5,3747.5 L1007.0,3747.5 L1007.5,3747.5 L1008.0,3747.5 L1008.5,3747.5 L1009.0,3747.5 L1009.5,3747.5 L1010.0,3747.5 L1010.5,3747.5 L1011.0,3747.5 L1011.5,3747.5 L1012.0,3747.5 L1012.5,3747.5 L1013.0,3747.5 L1013.5,3747.5 L1014.0,3747.5 L1014.5,3747.5 L1015.0,3747.5 L1015.5,3747.5 L1016.0,3747.5 L1016.5,3747.5 L1017.0,3747.5 L1017.5,3747.5 L1018.0,3747.5 L1018.5,3747.5 L1019.0,3747.5 L1019.5,3747.5 L1020.0,3747.5 L1020.5,3747.5 L1021.0,3747.5 L1021.5,3747.5 L1022.0,3747.5 L1022.5,3747.5 L1023.0,3747.5 L1023.5,3747.5 L1024.0,3747.5 L1024.5,3747.5 L1025.0,3747.5 L1025.5,3747.5 L1026.0,3747.5 L1026.5,3747.5 L1027.0,3747.5 L1027.5,3747.5 L1028.0,3747.5 L1028.5,3747.5 L1029.0,3747.5 L1029.5,3747.5 L1030.0,3747.5 L1030.5,3747.5 L1031.0,3747.5 L1031.5,3747.5 L1032.0,3747.5 L1032.5,3747.5 L1033.0,3747.5 L1033.5,3747.5 L1034.0,3747.5 L1034.5,3747.5 L1035.0,3747.5 L1035.5,3747.5 L1036.0,3747.5 L1036.5,3747.5 L1037.0,3747.5 L1037.5,3747.5 L1038.0,3747.5 L1038.5,3747.5 L1039.0,3747.5 L1039.5,3747.5 L1040.0,3747.5 L1040.5,3747.5 L1041.0,3747.5 L1041.5,3747.5 L1042.0,3747.5 L1042.5,3747.5 L1043.0,3747.5 L1043.5,3747.5 L1044.0,3747.5 L1044.5,3747.5 L1045.0,3747.5 L1045.5,3747.5 L1046.0,3747.5 L1046.5,3747.5 L1047.0,3747.5 L1047.5,3747.5 L1048.0,3747.5 L1048.5,3747.5 L1049.0,3747.5 L1049.5,3747.5 L1050.0,3747.5 L1050.5,3747.5 L1051.0,3747.5 L1051.5,3747.5 L1052.0,3747.5 L1052.5,3747.5 L1053.0,3747.5 L1053.5,3747.5 L1054.0,3747.5 L1054.5,3747.5 L1055.0,3747.5 L1055.5,3747.5 L1056.0,3747.5 L1056.5,3747.5 L1057.0,3747.5 L1057.5,3747.5 L1058.0,3747.5 L1058.5,3747.5 L1059.0,3747.5 L1059.5,3747.5 L1060.0,3747.5 L1060.5,3747.5 L1061.0,3747.5 L1061.5,3747.5 L1062.0,3747.5 L1062.5,3747.5 L1063.0,3747.5 L1063.5,3747.5 L1064.0,3747.5 L1064.5,3747.5 L1065.0,3747.5 L1065.5,3747.5 L1066.0,3747.5 L1066.5,3747.5 L1067.0,3747.5 L1067.5,3747.5 L1068.0,3747.5 L1068.5,3747.5 L1069.0,3747.5 L1069.5,3747.5 L1070.0,3747.5 L1070.5,3747.5 L1071.0,3747.5 L1071.5,3747.5 L1072.0,3747.5 L1072.5,3747.5 L1073.0,3747.5 L1073.5,3747.5 L1074.0,3747.5 L1074.5,3747.5 L1075.0,3747.5 L1075.5,3747.5 L1076.0,3747.5 L1076.5,3747.5 L1077.0,3747.5 L1077.5,3747.5 L1078.0,3747.5 L1078.5,3747.5 L1079.0,3747.5 L1079.5,3747.5 L1080.0,3747.5 L1080.5,3747.5 L1081.0,3747.5 L1081.5,3747.5 L1082.0,3747.5 L1082.5,3747.5 L1083.0,3747.5 L1083.5,3747.5 L1084.0,3747.5 L1084.5,3747.5 L1085.0,3747.5 L1085.5,3747.5 L1086.0,3747.5 L1086.5,3747.5 L1087.0,3747.5 L1087.5,3747.5 L1088.0,3747.5 L1088.5,3747.5 L1089.0,3747.5 L1089.5,3747.5 L1090.0,3747.5 L1090.5,3747.5 L1091.0,3747.5 L1091.5,3747.5 L1092.0,3747.5 L1092.5,3747.5 L1093.0,3747.5 L1093.5,3747.5 L1094.0,3747.5 L1094.5,3747.5 L1095.0,3747.5 L1095.5,3747.5 L1096.0,3747.5 L1096.5,3747.5 L1097.0,3747.5 L1097.5,3747.5 L1098.0,3747.5 L1098.5,3747.5 L1099.0,3747.5 L1099.5,3747.5 L1100.0,3747.5 L1100.5,3747.5 L1101.0,3747.5 L1101.5,3747.5 L1102.0,3747.5 L1102.5,3747.5 L1103.0,3747.5 L1103.5,3747.5 L1104.0,3747.5 L1104.5,3747.5 L1105.0,3747.5 L1105.5,3747.5 L1106.0,3747.5 L1106.5,3747.5 L1107.0,3747.5 L1107.5,3747.5 L1108.0,3747.5 L1108.5,3747.5 L1109.0,3747.5 L1109.5,3747.5 L1110.0,3747.5 L1110.5,3747.5 L1111.0,3747.5 L1111.5,3747.5 L1112.0,3747.5 L1112.5,3747.5 L1113.0,3747.5 L1113.5,3747.5 L1114.0,3747.5 L1114.5,3747.5 L1115.0,3747.5 L1115.5,3747.5 L1116.0,3747.5 L1116.5,3747.5 L1117.0,3747.5 L1117.5,3747.5 L1118.0,3747.5 L1118.5,3747.5 L1119.0,3747.5 L1119.5,3747.5 L1120.0,3747.5 L1120.5,3747.5 L1121.0,3747.5 L1121.5,3747.5 L1122.0,3747.5 L1122.5,3747.5 L1123.0,3747.5 L1123.5,3747.5 L1124.0,3747.5 L1124.5,3747.5 L1125.0,3747.5 L1125.5,3747.5 L1126.0,3747.5 L1126.5,3747.5 L1127.0,3747.5 L1127.5,3747.5 L1128.0,3747.5 L1128.5,3747.5 L1129.0,3747.5 L1129.5,3747.5 L1130.0,3747.5 L1130.5,3747.5 L1131.0,3747.5 L1131.5,3747.5 L1132.0,3747.5 L1132.5,3747.5 L1133.0,3747.5 L1133.5,3747.5 L1134.0,3747.5 L1134.5,3747.5 L1135.0,3747.5 L1135.5,3747.5 L1136.0,3747.5 L1136.5,3747.5 L1137.0,3747.5 L1137.5,3747.5 L1138.0,3747.5 L1138.5,3747.5 L1139.0,3747.5 L1139.5,3747.5 L1140.0,3747.5 L1140.5,3747.5 L1141.0,3747.5 L1141.5,3747.5 L1142.0,3747.5 L1142.5,3747.5 L1143.0,3747.5 L1143.5,3747.5 L1144.0,3747.5 L1144.5,3747.5 L1145.0,3747.5 L1145.5,3747.5 L1146.0,3747.5 L1146.5,3747.5 L1147.0,3747.5 L1147.5,3747.5 L1148.0,3747.5 L1148.5,3747.5 L1149.0,3747.5 L1149.5,3747.5 L1150.0,3747.5 L1150.5,3747.5 L1151.0,3747.5 L1151.5,3747.5 L1152.0,3747.5 L1152.5,3747.5 L1153.0,3747.5 L1153.5,3747.5 L1154.0,3747.5 L1154.5,3747.5 L1155.0,3747.5 L1155.5,3747.5 L1156.0,3747.5 L1156.5,3747.5 L1157.0,3747.5 L1157.5,3747.5 L1158.0,3747.5 L1158.5,3747.5 L1159.0,3747.5 L1159.5,3747.5 L1160.0,3747.5 L1160.5,3747.5 L1161.0,3747.5 L1161.5,3747.5 L1162.0,3747.5 L1162.5,3747.5 L1163.0,3747.5 L1163.5,3747.5 L1164.0,3747.5 L1164.5,3747.5 L1165.0,3747.5 L1165.5,3747.5 L1166.0,3747.5 L1166.5,3747.5 L1167.0,3747.5 L1167.5,3747.5 L1168.0,3747.5 L1168.5,3747.5 L1169.0,3747.5 L1169.5,3747.5 L1170.0,3747.5 L1170.5,3747.5 L1171.0,3747.5 L1171.5,3747.5 L1172.0,3747.5 L1172.5,3747.5 L1173.0,3747.5 L1173.5,3747.5 L1174.0,3747.5 L1174.5,3747.5 L1175.0,3747.5 L1175.5,3747.5 L1176.0,3747.5 L1176.5,3747.5 L1177.0,3747.5 L1177.5,3747.5 L1178.0,3747.5 L1178.5,3747.5 L1179.0,3747.5 L1179.5,3747.5 L1180.0,3747.5 L1180.5,3747.5 L1181.0,3747.5 L1181.5,3747.5 L1182.0,3747.5 L1182.5,3747.5 L1183.0,3747.5 L1183.5,3747.5 L1184.0,3747.5 L1184.5,3747.5 L1185.0,3747.5 L1185.5,3747.5 L1186.0,3747.5 L1186.5,3747.5 L1187.0,3747.5 L1187.5,3747.5 L1188.0,3747.5 L1188.5,3747.5 L1189.0,3747.5 L1189.5,3747.5 L1190.0,3747.5 L1190.5,3747.5 L1191.0,3747.5 L1191.5,3747.5 L1192.0,3747.5 L1192.5,3747.5 L1193.0,3747.5 L1193.5,3747.5 L1194.0,3747.5 L1194.5,3747.5 L1195.0,3747.5 L1195.5,3747.5 L1196.0,3747.5 L1196.5,3747.5 L1197.0,3747.5 L1197.5,3747.5 L1198.0,3747.5 L1198.5,3747.5 L1199.0,3747.5 L1199.5,3747.5 L1200.0,3747.5 L1200.5,3747.5 L1201.0,3747.5 L1201.5,3747.5 L1202.0,3747.5 L1202.5,3747.5 L1203.0,3747.5 L1203.5,3747.5 L1204.0,3747.5 L1204.5,3747.5 L1205.0,3747.5 L1205.5,3747.5 L1206.0,3747.5 L1206.5,3747.5 L1207.0,3747.5 L1207.5,3747.5 L1208.0,3747.5 L1208.5,3747.5 L1209.0,3747.5 L1209.5,3747.5 L1210.0,3747.5 L1210.5,3747.5 L1211.0,3747.5 L1211.5,3747.5 L1212.0,3747.5 L1212.5,3747.5 L1213.0,3747.5 L1213.5,3747.5 L1214.0,3747.5 L1214.5,3747.5 L1215.0,3747.5 L1215.5,3747.5 L1216.0,3747.5 L1216.5,3747.5 L1217.0,3747.5 L1217.5,3747.5 L1218.0,3747.5 L1218.5,3747.5 L1219.0,3747.5 L1219.5,3747.5 L1220.0,3747.5 L1220.5,3747.5 L1221.0,3747.5 L1221.5,3747.5 L1222.0,3747.5 L1222.5,3747.5 L1223.0,3747.5 L1223.5,3747.5 L1224.0,3747.5 L1224.5,3747.5 L1225.0,3747.5 L1225.5,3747.5 L1226.0,3747.5 L1226.5,3747.5 L1227.0,3747.5 L1227.5,3747.5 L1228.0,3747.5 L1228.5,3747.5 L1229.0,3747.5 L1229.5,3747.5 L1230.0,3747.5 L1230.5,3747.5 L1231.0,3747.5 L1231.5,3747.5 L1232.0,3747.5 L1232.5,3747.5 L1233.0,3747.5 L1233.5,3747.5 L1234.0,3747.5 L1234.5,3747.5 L1235.0,3747.5 L1235.5,3747.5 L1236.0,3747.5 L1236.5,3747.5 L1237.0,3747.5 L1237.5,3747.5 L1238.0,3747.5 L1238.5,3747.5 L1239.0,3747.5 L1239.5,3747.5 L1240.0,3747.5 L1240.5,3747.5 L1241.0,3747.5 L1241.5,3747.5 L1242.0,3747.5 L1242.5,3747.5 L1243.0,3747.5 L1243.5,3747.5 L1244.0,3747.5 L1244.5,3747.5 L1245.0,3747.5 L1245.5,3747.5 L1246.0,3747.5 L1246.5,3747.5 L1247.0,3747.5 L1247.5,3747.5 L1248.0,3747.5 L1248.5,3747.5 L1249.0,3747.5 L1249.5,3747.5 L1250.0,3747.5 L1250.5,3747.5 L1251.0,3747.5 L1251.5,3747.5 L1252.0,3747.5 L1252.5,3747.5 L1253.0,3747.5 L1253.5,3747.5 L1254.0,3747.5 L1254.5,3747.5 L1255.0,3747.5 L1255.5,3747.5 L1256.0,3747.5 L1256.5,3747.5 L1257.0,3747.5 L1257.5,3747.5 L1258.0,3747.5 L1258.5,3747.5 L1259.0,3747.5 L1259.5,3747.5 L1260.0,3747.5 L1260.5,3747.5 L1261.0,3747.5 L1261.5,3747.5 L1262.0,3747.5 L1262.5,3747.5 L1263.0,3747.5 L1263.5,3747.5 L1264.0,3747.5 L1264.5,3747.5 L1265.0,3747.5 L1265.5,3747.5 L1266.0,3747.5 L1266.5,3747.5 L1267.0,3747.5 L1267.5,3747.5 L1268.0,3747.5 L1268.5,3747.5 L1269.0,3747.5 L1269.5,3747.5 L1270.0,3747.5 L1270.5,3747.5 L1271.0,3747.5 L1271.5,3747.5 L1272.0,3747.5 L1272.5,3747.5 L1273.0,3747.5 L1273.5,3747.5 L1274.0,3747.5 L1274.5,3747.5 L1275.0,3747.5 L1275.5,3747.5 L1276.0,3747.5 L1276.5,3747.5 L1277.0,3747.5 L1277.5,3747.5 L1278.0,3747.5 L1278.5,3747.5 L1279.0,3747.5 L1279.5,3747.5 L1280.0,3747.5 L1280.5,3747.5 L1281.0,3747.5 L1281.5,3747.5 L1282.0,3747.5 L1282.5,3747.5 L1283.0,3747.5 L1283.5,3747.5 L1284.0,3747.5 L1284.5,3747.5 L1285.0,3747.5 L1285.5,3747.5 L1286.0,3747.5 L1286.5,3747.5 L1287.0,3747.5 L1287.5,3747.5 L1288.0,3747.5 L1288.5,3747.5 L1289.0,3747.5 L1289.5,3747.5 L1290.0,3747.5 L1290.5,3747.5 L1291.0,3747.5 L1291.5,3747.5 L1292.0,3747.5 L1292.5,3747.5 L1293.0,3747.5 L1293.5,3747.5 L1294.0,3747.5 L1294.5,3747.5 L1295.0,3747.5 L1295.5,3747.5 L1296.0,3747.5 L1296.5,3747.5 L1297.0,3747.5 L1297.5,3747.5 L1298.0,3747.5 L1298.5,3747.5 L1299.0,3747.5 L1299.5,3747.5 L1300.0,3747.5 L1300.5,3747.5 L1301.0,3747.5 L1301.5,3747.5 L1302.0,3747.5 L1302.5,3747.5 L1303.0,3747.5 L1303.5,3747.5 L1304.0,3747.5 L1304.5,3747.5 L1305.0,3747.5 L1305.5,3747.5 L1306.0,3747.5 L1306.5,3747.5 L1307.0,3747.5 L1307.5,3747.5 L1308.0,3747.5 L1308.5,3747.5 L1309.0,3747.5 L1309.5,3747.5 L1310.0,3747.5 L1310.5,3747.5 L1311.0,3747.5 L1311.5,3747.5 L1312.0,3747.5 L1312.5,3747.5 L1313.0,3747.5 L1313.5,3747.5 L1314.0,3747.5 L1314.5,3747.5 L1315.0,3747.5 L1315.5,3747.5 L1316.0,3747.5 L1316.5,3747.5 L1317.0,3747.5 L1317.5,3747.5 L1318.0,3747.5 L1318.5,3747.5 L1319.0,3747.5 L1319.5,3747.5 L1320.0,3747.5 L1320.5,3747.5 L1321.0,3747.5 L1321.5,3747.5 L1322.0,3747.5 L1322.5,3747.5 L1323.0,3747.5 L1323.5,3747.5 L1324.0,3747.5 L1324.5,3747.5 L1325.0,3747.5 L1325.5,3747.5 L1326.0,3747.5 L1326.5,3747.5 L1327.0,3747.5 L1327.5,3747.5 L1328.0,3747.5 L1328.5,3747.5 L1329.0,3747.5 L1329.5,3747.5 L1330.0,3747.5 L1330.5,3747.5 L1331.0,3747.5 L1331.5,3747.5 L1332.0,3747.5 L1332.5,3747.5 L1333.0,3747.5 L1333.5,3747.5 L1334.0,3747.5 L1334.5,3747.5 L1335.0,3747.5 L1335.5,3747.5 L1336.0,3747.5 L1336.5,3747.5 L1337.0,3747.5 L1337.5,3747.5 L1338.0,3747.5 L1338.5,3747.5 L1339.0,3747.5 L1339.5,3747.5 L1340.0,3747.5 L1340.5,3747.5 L1341.0,3747.5 L1341.5,3747.5 L1342.0,3747.5 L1342.5,3747.5 L1343.0,3747.5 L1343.5,3747.5 L1344.0,3747.5 L1344.5,3747.5 L1345.0,3747.5 L1345.5,3747.5 L1346.0,3747.5 L1346.5,3747.5 L1347.0,3747.5 L1347.5,3747.5 L1348.0,3747.5 L1348.5,3754.9 L1349.0,3754.9 L1349.5,3754.9 L1350.0,3754.9 L1350.5,3754.9 L1351.0,3754.9 L1351.5,3754.9 L1352.0,3754.9 L1352.5,3754.9 L1353.0,3754.9 L1353.5,3754.9 L1354.0,3754.9 L1354.5,3754.9 L1355.0,3754.9 L1355.5,3754.9 L1356.0,3754.9 L1356.5,3754.9 L1357.0,3754.9 L1357.5,3754.9 L1358.0,3754.9 L1358.5,3754.9 L1359.0,3754.9 L1359.5,3754.9 L1360.0,3754.9 L1360.5,3754.9 L1361.0,3754.9 L1361.5,3754.9 L1362.0,3754.9 L1362.5,3754.9 L1363.0,3754.9 L1363.5,3754.9 L1364.0,3754.9 L1364.5,3754.9 L1365.0,3754.9 L1365.5,3754.9 L1366.0,3754.9 L1366.5,3754.9 L1367.0,3754.9 L1367.5,3754.9 L1368.0,3754.9 L1368.5,3754.9 L1369.0,3754.9 L1369.5,3754.9 L1370.0,3754.9 L1370.5,3754.9 L1371.0,3754.9 L1371.5,3754.9 L1372.0,3754.9 L1372.5,3754.9 L1373.0,3754.9 L1373.5,3754.9 L1374.0,3754.9 L1374.5,3754.9 L1375.0,3754.9 L1375.5,3754.9 L1376.0,3754.9 L1376.5,3754.9 L1377.0,3754.9 L1377.5,3754.9 L1378.0,3754.9 L1378.5,3754.9 L1379.0,3754.9 L1379.5,3754.9 L1380.0,3754.9 L1380.5,3754.9 L1381.0,3754.9 L1381.5,3754.9 L1382.0,3754.9 L1382.5,3754.9 L1383.0,3754.9 L1383.5,3754.9 L1384.0,3754.9 L1384.5,3754.9 L1385.0,3754.9 L1385.5,3754.9 L1386.0,3754.9 L1386.5,3754.9 L1387.0,3754.9 L1387.5,3754.9 L1388.0,3754.9 L1388.5,3754.9 L1389.0,3754.9 L1389.5,3754.9 L1390.0,3754.9 L1390.5,3754.9 L1391.0,3754.9 L1391.5,3754.9 L1392.0,3754.9 L1392.5,3754.9 L1393.0,3754.9 L1393.5,3754.9 L1394.0,3754.9 L1394.5,3754.9 L1395.0,3754.9 L1395.5,3754.9 L1396.0,3754.9 L1396.5,3754.9 L1397.0,3754.9 L1397.5,3754.9 L1398.0,3754.9 L1398.5,3754.9 L1399.0,3754.9 L1399.5,3754.9 L1400.0,3754.9 L1400.5,3754.9 L1401.0,3754.9 L1401.5,3754.9 L1402.0,3754.9 L1402.5,3754.9 L1403.0,3754.9 L1403.5,3754.9 L1404.0,3754.9 L1404.5,3754.9 L1405.0,3754.9 L1405.5,3754.9 L1406.0,3754.9 L1406.5,3754.9 L1407.0,3754.9 L1407.5,3754.9 L1408.0,3754.9 L1408.5,3754.9 L1409.0,3754.9 L1409.5,3754.9 L1410.0,3754.9 L1410.5,3754.9 L1411.0,3754.9 L1411.5,3754.9 L1412.0,3831.1 L1412.5,3831.1 L1413.0,3831.1 L1413.5,3831.1 L1414.0,3831.1 L1414.5,3831.1 L1415.0,3831.1 L1415.5,3831.1 L1416.0,3831.1 L1416.5,3831.1 L1417.0,3831.1 L1417.5,3831.1 L1418.0,3831.1 L1418.5,3831.1 L1419.0,3831.1 L1419.5,3831.1 L1420.0,3831.1 L1420.5,3831.1 L1421.0,3831.1 L1421.5,3831.1 L1422.0,3831.1 L1422.5,3831.1 L1423.0,3831.1 L1423.5,3831.1 L1424.0,3831.1 L1424.5,3831.1 L1425.0,3831.1 L1425.5,3831.1 L1426.0,3831.1 L1426.5,3831.1 L1427.0,3831.1 L1427.5,3831.1 L1428.0,3831.1 L1428.5,3831.1 L1429.0,3831.1 L1429.5,3831.1 L1430.0,3831.1 L1430.5,3831.1 L1431.0,3831.1 L1431.5,3831.1 L1432.0,3831.1 L1432.5,3831.1 L1433.0,3831.1 L1433.5,3831.1 L1434.0,3831.1 L1434.5,3831.1 L1435.0,3831.1 L1435.5,3831.1 L1436.0,3831.1 L1436.5,3831.1 L1437.0,3831.1 L1437.5,3831.1 L1438.0,3831.1 L1438.5,3831.1 L1439.0,3831.1 L1439.5,3831.1 L1440.0,3831.1 L1440.5,3831.1 L1441.0,3831.1 L1441.5,3831.1 L1442.0,3831.1 L1442.5,3831.1 L1443.0,3831.1 L1443.5,3831.1 L1444.0,3831.1 L1444.5,3831.1 L1445.0,3831.1 L1445.5,3831.1 L1446.0,3831.1 L1446.5,3831.1 L1447.0,3831.1 L1447.5,3831.1 L1448.0,3831.1 L1448.5,3831.1 L1449.0,3831.1 L1449.5,3831.1 L1450.0,3831.1 L1450.5,3831.1 L1451.0,3831.1 L1451.5,3831.1 L1452.0,3831.1 L1452.5,3831.1 L1453.0,3831.1 L1453.5,3831.1 L1454.0,3831.1 L1454.5,3831.1 L1455.0,3831.1 L1455.5,3831.1 L1456.0,3831.1 L1456.5,3831.1 L1457.0,3831.1 L1457.5,3831.1 L1458.0,3831.1 L1458.5,3831.1 L1459.0,3831.1 L1459.5,3831.1 L1460.0,3831.1 L1460.5,3831.1 L1461.0,3831.1 L1461.5,3831.1 L1462.0,3831.1 L1462.5,3831.1 L1463.0,3831.1 L1463.5,3831.1 L1464.0,3831.1 L1464.5,3831.1 L1465.0,3831.1 L1465.5,3831.1 L1466.0,3831.1 L1466.5,3831.1 L1467.0,3831.1 L1467.5,3831.1 L1468.0,3831.1 L1468.5,3831.1 L1469.0,3831.1 L1469.5,3831.1 L1470.0,3831.1 L1470.5,3900.9 L1471.0,3900.9 L1471.5,3900.9 L1472.0,3900.9 L1472.5,3900.9 L1473.0,3900.9 L1473.5,3900.9 L1474.0,3900.9 L1474.5,3900.9 L1475.0,3900.9 L1475.5,3900.9 L1476.0,3900.9 L1476.5,3900.9 L1477.0,3900.9 L1477.5,3900.9 L1478.0,3900.9 L1478.5,3900.9 L1479.0,3900.9 L1479.5,3900.9 L1480.0,3900.9 L1480.5,3900.9 L1481.0,3900.9 L1481.5,3900.9 L1482.0,3900.9 L1482.5,3900.9 L1483.0,3900.9 L1483.5,3900.9 L1484.0,3900.9 L1484.5,3900.9 L1485.0,3900.9 L1485.5,3900.9 L1486.0,3900.9 L1486.5,3900.9 L1487.0,3900.9 L1487.5,3900.9 L1488.0,3900.9 L1488.5,3900.9 L1489.0,3900.9 L1489.5,3900.9 L1490.0,3900.9 L1490.5,3900.9 L1491.0,3900.9 L1491.5,3900.9 L1492.0,3900.9 L1492.5,3900.9 L1493.0,3900.9 L1493.5,3900.9 L1494.0,3900.9 L1494.5,3900.9 L1495.0,3900.9 L1495.5,3900.9 L1496.0,3900.9 L1496.5,3900.9 L1497.0,3900.9 L1497.5,3900.9 L1498.0,3900.9 L1498.5,3900.9 L1499.0,3900.9 L1499.5,3900.9 L1500.0,3900.9 L1500.5,3900.9 L1501.0,3900.9 L1501.5,3900.9 L1502.0,3900.9 L1502.5,3900.9 L1503.0,3900.9 L1503.5,3900.9 L1504.0,3900.9 L1504.5,3900.9 L1505.0,3900.9 L1505.5,3900.9 L1506.0,3900.9 L1506.5,3900.9 L1507.0,3900.9 L1507.5,3900.9 L1508.0,3900.9 L1508.5,3900.9 L1509.0,3900.9 L1509.5,3900.9 L1510.0,3900.9 L1510.5,3900.9 L1511.0,3900.9 L1511.5,3900.9 L1512.0,3900.9 L1512.5,3900.9 L1513.0,3900.9 L1513.5,3900.9 L1514.0,3900.9 L1514.5,3900.9 L1515.0,3900.9 L1515.5,3900.9 L1516.0,3900.9 L1516.5,3900.9 L1517.0,3900.9 L1517.5,3900.9 L1518.0,3900.9 L1518.5,3900.9 L1519.0,3900.9 L1519.5,3900.9 L1520.0,3900.9 L1520.5,3900.9 L1521.0,3900.9 L1521.5,3900.9 L1522.0,3900.9 L1522.5,3900.9 L1523.0,3900.9 L1523.5,3964.9 L1524.0,3964.9 L1524.5,3964.9 L1525.0,3964.9 L1525.5,3964.9 L1526.0,3964.9 L1526.5,3964.9 L1527.0,3964.9 L1527.5,3964.9 L1528.0,3964.9 L1528.5,3964.9 L1529.0,3964.9 L1529.5,3964.9 L1530.0,3964.9 L1530.5,3964.9 L1531.0,3964.9 L1531.5,3964.9 L1532.0,3964.9 L1532.5,3964.9 L1533.0,3964.9 L1533.5,3964.9 L1534.0,3964.9 L1534.5,3964.9 L1535.0,3964.9 L1535.5,3964.9 L1536.0,3964.9 L1536.5,3964.9 L1537.0,3964.9 L1537.5,3964.9 L1538.0,3964.9 L1538.5,3964.9 L1539.0,3964.9 L1539.5,3964.9 L1540.0,3964.9 L1540.5,3964.9 L1541.0,3964.9 L1541.5,3964.9 L1542.0,3964.9 L1542.5,3964.9 L1543.0,3964.9 L1543.5,3964.9 L1544.0,3964.9 L1544.5,3964.9 L1545.0,3964.9 L1545.5,3964.9 L1546.0,3964.9 L1546.5,3964.9 L1547.0,3964.9 L1547.5,3964.9 L1548.0,3964.9 L1548.5,3964.9 L1549.0,3964.9 L1549.5,3964.9 L1550.0,3964.9 L1550.5,3964.9 L1551.0,3964.9 L1551.5,3964.9 L1552.0,3964.9 L1552.5,3964.9 L1553.0,3964.9 L1553.5,3964.9 L1554.0,3964.9 L1554.5,3964.9 L1555.0,3964.9 L1555.5,3964.9 L1556.0,3964.9 L1556.5,3964.9 L1557.0,3964.9 L1557.5,3964.9 L1558.0,3964.9 L1558.5,3964.9 L1559.0,3964.9 L1559.5,3964.9 L1560.0,3964.9 L1560.5,3964.9 L1561.0,3964.9 L1561.5,3964.9 L1562.0,3964.9 L1562.5,3964.9 L1563.0,3964.9 L1563.5,3964.9 L1564.0,3964.9 L1564.5,3964.9 L1565.0,3964.9 L1565.5,3964.9 L1566.0,3964.9 L1566.5,3964.9 L1567.0,3964.9 L1567.5,3964.9 L1568.0,3964.9 L1568.5,3964.9 L1569.0,3964.9 L1569.5,3964.9 L1570.0,3964.9 L1570.5,3964.9 L1571.0,3964.9 L1571.5,3964.9 L1572.0,3964.9 L1572.5,4023.5 L1573.0,4023.5 L1573.5,4023.5 L1574.0,4023.5 L1574.5,4023.5 L1575.0,4023.5 L1575.5,4023.5 L1576.0,4023.5 L1576.5,4023.5 L1577.0,4023.5 L1577.5,4023.5 L1578.0,4023.5 L1578.5,4023.5 L1579.0,4023.5 L1579.5,4023.5 L1580.0,4023.5 L1580.5,4023.5 L1581.0,4023.5 L1581.5,4023.5 L1582.0,4023.5 L1582.5,4023.5 L1583.0,4023.5 L1583.5,4023.5 L1584.0,4023.5 L1584.5,4023.5 L1585.0,4023.5 L1585.5,4023.5 L1586.0,4023.5 L1586.5,4023.5 L1587.0,4023.5 L1587.5,4023.5 L1588.0,4023.5 L1588.5,4023.5 L1589.0,4023.5 L1589.5,4023.5 L1590.0,4023.5 L1590.5,4023.5 L1591.0,4023.5 L1591.5,4023.5 L1592.0,4023.5 L1592.5,4023.5 L1593.0,4023.5 L1593.5,4023.5 L1594.0,4023.5 L1594.5,4023.5 L1595.0,4023.5 L1595.5,4023.5 L1596.0,4023.5 L1596.5,4023.5 L1597.0,4023.5 L1597.5,4023.5 L1598.0,4023.5 L1598.5,4023.5 L1599.0,4023.5 L1599.5,4023.5 L1600.0,4023.5 L1600.5,4023.5 L1601.0,4023.5 L1601.5,4023.5 L1602.0,4023.5 L1602.5,4023.5 L1603.0,4023.5 L1603.5,4023.5 L1604.0,4023.5 L1604.5,4023.5 L1605.0,4023.5 L1605.5,4023.5 L1606.0,4023.5 L1606.5,4023.5 L1607.0,4023.5 L1607.5,4023.5 L1608.0,4023.5 L1608.5,4023.5 L1609.0,4023.5 L1609.5,4023.5 L1610.0,4023.5 L1610.5,4023.5 L1611.0,4023.5 L1611.5,4023.5 L1612.0,4023.5 L1612.5,4023.5 L1613.0,4023.5 L1613.5,4023.5 L1614.0,4023.5 L1614.5,4023.5 L1615.0,4023.5 L1615.5,4023.5 L1616.0,4023.5 L1616.5,4023.5 L1617.0,4023.5 L1617.5,4077.4 L1618.0,4077.4 L1618.5,4077.4 L1619.0,4077.4 L1619.5,4077.4 L1620.0,4077.4 L1620.5,4077.4 L1621.0,4077.4 L1621.5,4077.4 L1622.0,4077.4 L1622.5,4077.4 L1623.0,4077.4 L1623.5,4077.4 L1624.0,4077.4 L1624.5,4077.4 L1625.0,4077.4 L1625.5,4077.4 L1626.0,4077.4 L1626.5,4077.4 L1627.0,4077.4 L1627.5,4077.4 L1628.0,4077.4 L1628.5,4077.4 L1629.0,4077.4 L1629.5,4077.4 L1630.0,4077.4 L1630.5,4077.4 L1631.0,4077.4 L1631.5,4077.4 L1632.0,4077.4 L1632.5,4077.4 L1633.0,4077.4 L1633.5,4077.4 L1634.0,4077.4 L1634.5,4077.4 L1635.0,4077.4 L1635.5,4077.4 L1636.0,4077.4 L1636.5,4077.4 L1637.0,4077.4 L1637.5,4077.4 L1638.0,4077.4 L1638.5,4077.4 L1639.0,4077.4 L1639.5,4077.4 L1640.0,4077.4 L1640.5,4077.4 L1641.0,4077.4 L1641.5,4077.4 L1642.0,4077.4 L1642.5,4077.4 L1643.0,4077.4 L1643.5,4077.4 L1644.0,4077.4 L1644.5,4077.4 L1645.0,4077.4 L1645.5,4077.4 L1646.0,4077.4 L1646.5,4077.4 L1647.0,4077.4 L1647.5,4077.4 L1648.0,4077.4 L1648.5,4077.4 L1649.0,4077.4 L1649.5,4077.4 L1650.0,4077.4 L1650.5,4077.4 L1651.0,4077.4 L1651.5,4077.4 L1652.0,4077.4 L1652.5,4077.4 L1653.0,4077.4 L1653.5,4077.4 L1654.0,4077.4 L1654.5,4077.4 L1655.0,4077.4 L1655.5,4077.4 L1656.0,4077.4 L1656.5,4077.4 L1657.0,4077.4 L1657.5,4077.4 L1658.0,4077.4 L1658.5,4077.4 L1659.0,4126.7 L1659.5,4126.7 L1660.0,4126.7 L1660.5,4126.7 L1661.0,4126.7 L1661.5,4126.7 L1662.0,4126.7 L1662.5,4126.7 L1663.0,4126.7 L1663.5,4126.7 L1664.0,4126.7 L1664.5,4126.7 L1665.0,4126.7 L1665.5,4126.7 L1666.0,4126.7 L1666.5,4126.7 L1667.0,4126.7 L1667.5,4126.7 L1668.0,4126.7 L1668.5,4126.7 L1669.0,4126.7 L1669.5,4126.7 L1670.0,4126.7 L1670.5,4126.7 L1671.0,4126.7 L1671.5,4126.7 L1672.0,4126.7 L1672.5,4126.7 L1673.0,4126.7 L1673.5,4126.7 L1674.0,4126.7 L1674.5,4126.7 L1675.0,4126.7 L1675.5,4126.7 L1676.0,4126.7 L1676.5,4126.7 L1677.0,4126.7 L1677.5,4126.7 L1678.0,4126.7 L1678.5,4126.7 L1679.0,4126.7 L1679.5,4126.7 L1680.0,4126.7 L1680.5,4126.7 L1681.0,4126.7 L1681.5,4126.7 L1682.0,4126.7 L1682.5,4126.7 L1683.0,4126.7 L1683.5,4126.7 L1684.0,4126.7 L1684.5,4126.7 L1685.0,4126.7 L1685.5,4126.7 L1686.0,4126.7 L1686.5,4126.7 L1687.0,4126.7 L1687.5,4126.7 L1688.0,4126.7 L1688.5,4126.7 L1689.0,4126.7 L1689.5,4126.7 L1690.0,4126.7 L1690.5,4126.7 L1691.0,4126.7 L1691.5,4126.7 L1692.0,4126.7 L1692.5,4126.7 L1693.0,4126.7 L1693.5,4126.7 L1694.0,4126.7 L1694.5,4126.7 L1695.0,4126.7 L1695.5,4126.7 L1696.0,4126.7 L1696.5,4172.0 L1697.0,4172.0 L1697.5,4172.0 L1698.0,4172.0 L1698.5,4172.0 L1699.0,4172.0 L1699.5,4172.0 L1700.0,4172.0 L1700.5,4172.0 L1701.0,4172.0 L1701.5,4172.0 L1702.0,4172.0 L1702.5,4172.0 L1703.0,4172.0 L1703.5,4172.0 L1704.0,4172.0 L1704.5,4172.0 L1705.0,4172.0 L1705.5,4172.0 L1706.0,4172.0 L1706.5,4172.0 L1707.0,4172.0 L1707.5,4172.0 L1708.0,4172.0 L1708.5,4172.0 L1709.0,4172.0 L1709.5,4172.0 L1710.0,4172.0 L1710.5,4172.0 L1711.0,4172.0 L1711.5,4172.0 L1712.0,4172.0 L1712.5,4172.0 L1713.0,4172.0 L1713.5,4172.0 L1714.0,4172.0 L1714.5,4172.0 L1715.0,4172.0 L1715.5,4172.0 L1716.0,4172.0 L1716.5,4172.0 L1717.0,4172.0 L1717.5,4172.0 L1718.0,4172.0 L1718.5,4172.0 L1719.0,4172.0 L1719.5,4172.0 L1720.0,4172.0 L1720.5,4172.0 L1721.0,4172.0 L1721.5,4172.0 L1722.0,4172.0 L1722.5,4172.0 L1723.0,4172.0 L1723.5,4172.0 L1724.0,4172.0 L1724.5,4172.0 L1725.0,4172.0 L1725.5,4172.0 L1726.0,4172.0 L1726.5,4172.0 L1727.0,4172.0 L1727.5,4172.0 L1728.0,4172.0 L1728.5,4172.0 L1729.0,4172.0 L1729.5,4172.0 L1730.0,4172.0 L1730.5,4172.0 L1731.0,4172.0 L1731.5,4213.5 L1732.0,4213.5 L1732.5,4213.5 L1733.0,4213.5 L1733.5,4213.5 L1734.0,4213.5 L1734.5,4213.5 L1735.0,4213.5 L1735.5,4213.5 L1736.0,4213.5 L1736.5,4213.5 L1737.0,4213.5 L1737.5,4213.5 L1738.0,4213.5 L1738.5,4213.5 L1739.0,4213.5 L1739.5,4213.5 L1740.0,4213.5 L1740.5,4213.5 L1741.0,4213.5 L1741.5,4213.5 L1742.0,4213.5 L1742.5,4213.5 L1743.0,4213.5 L1743.5,4213.5 L1744.0,4213.5 L1744.5,4213.5 L1745.0,4213.5 L1745.5,4213.5 L1746.0,4213.5 L1746.5,4213.5 L1747.0,4213.5 L1747.5,4213.5 L1748.0,4213.5 L1748.5,4213.5 L1749.0,4213.5 L1749.5,4213.5 L1750.0,4213.5 L1750.5,4213.5 L1751.0,4213.5 L1751.5,4213.5 L1752.0,4213.5 L1752.5,4213.5 L1753.0,4213.5 L1753.5,4213.5 L1754.0,4213.5 L1754.5,4213.5 L1755.0,4213.5 L1755.5,4213.5 L1756.0,4213.5 L1756.5,4213.5 L1757.0,4213.5 L1757.5,4213.5 L1758.0,4213.5 L1758.5,4213.5 L1759.0,4213.5 L1759.5,4213.5 L1760.0,4213.5 L1760.5,4213.5 L1761.0,4213.5 L1761.5,4213.5 L1762.0,4213.5 L1762.5,4213.5 L1763.0,4251.5 L1763.5,4251.5 L1764.0,4251.5 L1764.5,4251.5 L1765.0,4251.5 L1765.5,4251.5 L1766.0,4251.5 L1766.5,4251.5 L1767.0,4251.5 L1767.5,4251.5 L1768.0,4251.5 L1768.5,4251.5 L1769.0,4251.5 L1769.5,4251.5 L1770.0,4251.5 L1770.5,4251.5 L1771.0,4251.5 L1771.5,4251.5 L1772.0,4251.5 L1772.5,4251.5 L1773.0,4251.5 L1773.5,4251.5 L1774.0,4251.5 L1774.5,4251.5 L1775.0,4251.5 L1775.5,4251.5 L1776.0,4251.5 L1776.5,4251.5 L1777.0,4251.5 L1777.5,4251.5 L1778.0,4251.5 L1778.5,4251.5 L1779.0,4251.5 L1779.5,4251.5 L1780.0,4251.5 L1780.5,4251.5 L1781.0,4251.5 L1781.5,4251.5 L1782.0,4251.5 L1782.5,4251.5 L1783.0,4251.5 L1783.5,4251.5 L1784.0,4251.5 L1784.5,4251.5 L1785.0,4251.5 L1785.5,4251.5 L1786.0,4251.5 L1786.5,4251.5 L1787.0,4251.5 L1787.5,4251.5 L1788.0,4251.5 L1788.5,4251.5 L1789.0,4251.5 L1789.5,4251.5 L1790.0,4251.5 L1790.5,4251.5 L1791.0,4251.5 L1791.5,4251.5 L1792.0,4251.5 L1792.5,4286.4 L1793.0,4286.4 L1793.5,4286.4 L1794.0,4286.4 L1794.5,4286.4 L1795.0,4286.4 L1795.5,4286.4 L1796.0,4286.4 L1796.5,4286.4 L1797.0,4286.4 L1797.5,4286.4 L1798.0,4286.4 L1798.5,4286.4 L1799.0,4286.4 L1799.5,4286.4 L1800.0,4286.4 L1800.5,4286.4 L1801.0,4286.4 L1801.5,4286.4 L1802.0,4286.4 L1802.5,4286.4 L1803.0,4286.4 L1803.5,4286.4 L1804.0,4286.4 L1804.5,4286.4 L1805.0,4286.4 L1805.5,4286.4 L1806.0,4286.4 L1806.5,4286.4 L1807.0,4286.4 L1807.5,4286.4 L1808.0,4286.4 L1808.5,4286.4 L1809.0,4286.4 L1809.5,4286.4 L1810.0,4286.4 L1810.5,4286.4 L1811.0,4286.4 L1811.5,4286.4 L1812.0,4286.4 L1812.5,4286.4 L1813.0,4286.4 L1813.5,4286.4 L1814.0,4286.4 L1814.5,4286.4 L1815.0,4286.4 L1815.5,4286.4 L1816.0,4286.4 L1816.5,4286.4 L1817.0,4286.4 L1817.5,4286.4 L1818.0,4286.4 L1818.5,4286.4 L1819.0,4318.4 L1819.5,4318.4 L1820.0,4318.4 L1820.5,4318.4 L1821.0,4318.4 L1821.5,4318.4 L1822.0,4318.4 L1822.5,4318.4 L1823.0,4318.4 L1823.5,4318.4 L1824.0,4318.4 L1824.5,4318.4 L1825.0,4318.4 L1825.5,4318.4 L1826.0,4318.4 L1826.5,4318.4 L1827.0,4318.4 L1827.5,4318.4 L1828.0,4318.4 L1828.5,4318.4 L1829.0,4318.4 L1829.5,4318.4 L1830.0,4318.4 L1830.5,4318.4 L1831.0,4318.4 L1831.5,4318.4 L1832.0,4318.4 L1832.5,4318.4 L1833.0,4318.4 L1833.5,4318.4 L1834.0,4318.4 L1834.5,4318.4 L1835.0,4318.4 L1835.5,4318.4 L1836.0,4318.4 L1836.5,4318.4 L1837.0,4318.4 L1837.5,4318.4 L1838.0,4318.4 L1838.5,4318.4 L1839.0,4318.4 L1839.5,4318.4 L1840.0,4318.4 L1840.5,4318.4 L1841.0,4318.4 L1841.5,4318.4 L1842.0,4318.4 L1842.5,4318.4 L1843.0,4318.4 L1843.5,4347.8 L1844.0,4347.8 L1844.5,4347.8 L1845.0,4347.8 L1845.5,4347.8 L1846.0,4347.8 L1846.5,4347.8 L1847.0,4347.8 L1847.5,4347.8 L1848.0,4347.8 L1848.5,4347.8 L1849.0,4347.8 L1849.5,4347.8 L1850.0,4347.8 L1850.5,4347.8 L1851.0,4347.8 L1851.5,4347.8 L1852.0,4347.8 L1852.5,4347.8 L1853.0,4347.8 L1853.5,4347.8 L1854.0,4347.8 L1854.5,4347.8 L1855.0,4347.8 L1855.5,4347.8 L1856.0,4347.8 L1856.5,4347.8 L1857.0,4347.8 L1857.5,4347.8 L1858.0,4347.8 L1858.5,4347.8 L1859.0,4347.8 L1859.5,4347.8 L1860.0,4347.8 L1860.5,4347.8 L1861.0,4347.8 L1861.5,4347.8 L1862.0,4347.8 L1862.5,4347.8 L1863.0,4347.8 L1863.5,4347.8 L1864.0,4347.8 L1864.5,4347.8 L1865.0,4347.8 L1865.5,4347.8 L1866.0,4374.7 L1866.5,4374.7 L1867.0,4374.7 L1867.5,4374.7 L1868.0,4374.7 L1868.5,4374.7 L1869.0,4374.7 L1869.5,4374.7 L1870.0,4374.7 L1870.5,4374.7 L1871.0,4374.7 L1871.5,4374.7 L1872.0,4374.7 L1872.5,4374.7 L1873.0,4374.7 L1873.5,4374.7 L1874.0,4374.7 L1874.5,4374.7 L1875.0,4374.7 L1875.5,4374.7 L1876.0,4374.7 L1876.5,4374.7 L1877.0,4374.7 L1877.5,4374.7 L1878.0,4374.7 L1878.5,4374.7 L1879.0,4374.7 L1879.5,4374.7 L1880.0,4374.7 L1880.5,4374.7 L1881.0,4374.7 L1881.5,4374.7 L1882.0,4374.7 L1882.5,4374.7 L1883.0,4374.7 L1883.5,4374.7 L1884.0,4374.7 L1884.5,4374.7 L1885.0,4374.7 L1885.5,4374.7 L1886.0,4374.7 L1886.5,4399.4 L1887.0,4399.4 L1887.5,4399.4 L1888.0,4399.4 L1888.5,4399.4 L1889.0,4399.4 L1889.5,4399.4 L1890.0,4399.4 L1890.5,4399.4 L1891.0,4399.4 L1891.5,4399.4 L1892.0,4399.4 L1892.5,4399.4 L1893.0,4399.4 L1893.5,4399.4 L1894.0,4399.4 L1894.5,4399.4 L1895.0,4399.4 L1895.5,4399.4 L1896.0,4399.4 L1896.5,4399.4 L1897.0,4399.4 L1897.5,4399.4 L1898.0,4399.4 L1898.5,4399.4 L1899.0,4399.4 L1899.5,4399.4 L1900.0,4399.4 L1900.5,4399.4 L1901.0,4399.4 L1901.5,4399.4 L1902.0,4399.4 L1902.5,4399.4 L1903.0,4399.4 L1903.5,4399.4 L1904.0,4399.4 L1904.5,4399.4 L1905.0,4399.4 L1905.5,4422.0 L1906.0,4422.0 L1906.5,4422.0 L1907.0,4422.0 L1907.5,4422.0 L1908.0,4422.0 L1908.5,4422.0 L1909.0,4422.0 L1909.5,4422.0 L1910.0,4422.0 L1910.5,4422.0 L1911.0,4422.0 L1911.5,4422.0 L1912.0,4422.0 L1912.5,4422.0 L1913.0,4422.0 L1913.5,4422.0 L1914.0,4422.0 L1914.5,4422.0 L1915.0,4422.0 L1915.5,4422.0 L1916.0,4422.0 L1916.5,4422.0 L1917.0,4422.0 L1917.5,4422.0 L1918.0,4422.0 L1918.5,4422.0 L1919.0,4422.0 L1919.5,4422.0 L1920.0,4422.0 L1920.5,4422.0 L1921.0,4422.0 L1921.5,4422.0 L1922.0,4422.0 L1922.5,4422.0 L1923.0,4442.7 L1923.5,4442.7 L1924.0,4442.7 L1924.5,4442.7 L1925.0,4442.7 L1925.5,4442.7 L1926.0,4442.7 L1926.5,4442.7 L1927.0,4442.7 L1927.5,4442.7 L1928.0,4442.7 L1928.5,4442.7 L1929.0,4442.7 L1929.5,4442.7 L1930.0,4442.7 L1930.5,4442.7 L1931.0,4442.7 L1931.5,4442.7 L1932.0,4442.7 L1932.5,4442.7 L1933.0,4442.7 L1933.5,4442.7 L1934.0,4442.7 L1934.5,4442.7 L1935.0,4442.7 L1935.5,4442.7 L1936.0,4442.7 L1936.5,4442.7 L1937.0,4442.7 L1937.5,4442.7 L1938.0,4442.7 L1938.5,4461.8 L1939.0,4461.8 L1939.5,4461.8 L1940.0,4461.8 L1940.5,4461.8 L1941.0,4461.8 L1941.5,4461.8 L1942.0,4461.8 L1942.5,4461.8 L1943.0,4461.8 L1943.5,4461.8 L1944.0,4461.8 L1944.5,4461.8 L1945.0,4461.8 L1945.5,4461.8 L1946.0,4461.8 L1946.5,4461.8 L1947.0,4461.8 L1947.5,4461.8 L1948.0,4461.8 L1948.5,4461.8 L1949.0,4461.8 L1949.5,4461.8 L1950.0,4461.8 L1950.5,4461.8 L1951.0,4461.8 L1951.5,4461.8 L1952.0,4461.8 L1952.5,4461.8 L1953.0,4461.8 L1953.5,4479.2 L1954.0,4479.2 L1954.5,4479.2 L1955.0,4479.2 L1955.5,4479.2 L1956.0,4479.2 L1956.5,4479.2 L1957.0,4479.2 L1957.5,4479.2 L1958.0,4479.2 L1958.5,4479.2 L1959.0,4479.2 L1959.5,4479.2 L1960.0,4479.2 L1960.5,4479.2 L1961.0,4479.2 L1961.5,4479.2 L1962.0,4479.2 L1962.5,4479.2 L1963.0,4479.2 L1963.5,4479.2 L1964.0,4479.2 L1964.5,4479.2 L1965.0,4479.2 L1965.5,4479.2 L1966.0,4479.2 L1966.5,4495.2 L1967.0,4495.2 L1967.5,4495.2 L1968.0,4495.2 L1968.5,4495.2 L1969.0,4495.2 L1969.5,4495.2 L1970.0,4495.2 L1970.5,4495.2 L1971.0,4495.2 L1971.5,4495.2 L1972.0,4495.2 L1972.5,4495.2 L1973.0,4495.2 L1973.5,4495.2 L1974.0,4495.2 L1974.5,4495.2 L1975.0,4495.2 L1975.5,4495.2 L1976.0,4495.2 L1976.5,4495.2 L1977.0,4495.2 L1977.5,4495.2 L1978.0,4495.2 L1978.5,4495.2 L1979.0,4509.9 L1979.5,4509.9 L1980.0,4509.9 L1980.5,4509.9 L1981.0,4509.9 L1981.5,4509.9 L1982.0,4509.9 L1982.5,4509.9 L1983.0,4509.9 L1983.5,4509.9 L1984.0,4509.9 L1984.5,4509.9 L1985.0,4509.9 L1985.5,4509.9 L1986.0,4509.9 L1986.5,4509.9 L1987.0,4509.9 L1987.5,4509.9 L1988.0,4509.9 L1988.5,4509.9 L1989.0,4509.9 L1989.5,4509.9 L1990.0,4523.3 L1990.5,4523.3 L1991.0,4523.3 L1991.5,4523.3 L1992.0,4523.3 L1992.5,4523.3 L1993.0,4523.3 L1993.5,4523.3 L1994.0,4523.3 L1994.5,4523.3 L1995.0,4523.3 L1995.5,4523.3 L1996.0,4523.3 L1996.5,4523.3 L1997.0,4523.3 L1997.5,4523.3 L1998.0,4523.3 L1998.5,4523.3 L1999.0,4523.3 L1999.5,4523.3 L2000.0,4523.3 L2000.5,4535.7 L2001.0,4535.7 L2001.5,4535.7 L2002.0,4535.7 L2002.5,4535.7 L2003.0,4535.7 L2003.5,4535.7 L2004.0,4535.7 L2004.5,4535.7 L2005.0,4535.7 L2005.5,4535.7 L2006.0,4535.7 L2006.5,4535.7 L2007.0,4535.7 L2007.5,4535.7 L2008.0,4535.7 L2008.5,4535.7 L2009.0,4535.7 L2009.5,4535.7 L2010.0,4547.0 L2010.5,4547.0 L2011.0,4547.0 L2011.5,4547.0 L2012.0,4547.0 L2012.5,4547.0 L2013.0,4547.0 L2013.5,4547.0 L2014.0,4547.0 L2014.5,4547.0 L2015.0,4547.0 L2015.5,4547.0 L2016.0,4547.0 L2016.5,4547.0 L2017.0,4547.0 L2017.5,4547.0 L2018.0,4547.0 L2018.5,4557.4 L2019.0,4557.4 L2019.5,4557.4 L2020.0,4557.4 L2020.5,4557.4 L2021.0,4557.4 L2021.5,4557.4 L2022.0,4557.4 L2022.5,4557.4 L2023.0,4557.4 L2023.5,4557.4 L2024.0,4557.4 L2024.5,4557.4 L2025.0,4557.4 L2025.5,4557.4 L2026.0,4557.4 L2026.5,4566.9 L2027.0,4566.9 L2027.5,4566.9 L2028.0,4566.9 L2028.5,4566.9 L2029.0,4566.9 L2029.5,4566.9 L2030.0,4566.9 L2030.5,4566.9 L2031.0,4566.9 L2031.5,4566.9 L2032.0,4566.9 L2032.5,4566.9 L2033.0,4566.9 L2033.5,4566.9 L2034.0,4575.6 L2034.5,4575.6 L2035.0,4575.6 L2035.5,4575.6 L2036.0,4575.6 L2036.5,4575.6 L2037.0,4575.6 L2037.5,4575.6 L2038.0,4575.6 L2038.5,4575.6 L2039.0,4575.6 L2039.5,4575.6 L2040.0,4575.6 L2040.5,4583.6 L2041.0,4583.6 L2041.5,4583.6 L2042.0,4583.6 L2042.5,4583.6 L2043.0,4583.6 L2043.5,4583.6 L2044.0,4583.6 L2044.5,4583.6 L2045.0,4583.6 L2045.5,4583.6 L2046.0,4583.6 L2046.5,4590.9 L2047.0,4590.9 L2047.5,4590.9 L2048.0,4590.9 L2048.5,4590.9 L2049.0,4590.9 L2049.5,4590.9 L2050.0,4590.9 L2050.5,4590.9 L2051.0,4590.9 L2051.5,4590.9 L2052.0,4597.7 L2052.5,4597.7 L2053.0,4597.7 L2053.5,4597.7 L2054.0,4597.7 L2054.5,4597.7 L2055.0,4597.7 L2055.5,4597.7 L2056.0,4597.7 L2056.5,4597.7 L2057.0,4597.7 L2057.5,4603.8 L2058.0,4603.8 L2058.5,4603.8 L2059.0,4603.8 L2059.5,4603.8 L2060.0,4603.8 L2060.5,4603.8 L2061.0,4603.8 L2061.5,4603.8 L2062.0,4609.5 L2062.5,4609.5 L2063.0,4609.5 L2063.5,4609.5 L2064.0,4609.5 L2064.5,4609.5 L2065.0,4609.5 L2065.5,4609.5 L2066.0,4609.5 L2066.5,4614.7 L2067.0,4614.7 L2067.5,4614.7 L2068.0,4614.7 L2068.5,4614.7 L2069.0,4614.7 L2069.5,4614.7 L2070.0,4614.7 L2070.5,4619.4 L2071.0,4619.4 L2071.5,4619.4 L2072.0,4619.4 L2072.5,4619.4 L2073.0,4619.4 L2073.5,4619.4 L2074.0,4623.8 L2074.5,4623.8 L2075.0,4623.8 L2075.5,4623.8 L2076.0,4623.8 L2076.5,4623.8 L2077.0,4623.8 L2077.5,4627.8 L2078.0,4627.8 L2078.5,4627.8 L2079.0,4627.8 L2079.5,4627.8 L2080.0,4627.8 L2080.5,4631.5 L2081.0,4631.5 L2081.5,4631.5 L2082.0,4631.5 L2082.5,4631.5 L2083.0,4634.8 L2083.5,4634.8 L2084.0,4634.8 L2084.5,4634.8 L2085.0,4634.8 L2085.5,4634.8 L2086.0,4637.9 L2086.5,4637.9 L2087.0,4637.9 L2087.5,4637.9 L2088.0,4640.7 L2088.5,4640.7 L2089.0,4640.7 L2089.5,4640.7 L2090.0,4640.7 L2090.5,4643.3 L2091.0,4643.3 L2091.5,4643.3 L2092.0,4643.3 L2092.5,4645.7 L2093.0,4645.7 L2093.5,4645.7 L2094.0,4647.9 L2094.5,4647.9 L2095.0,4647.9 L2095.5,4647.9 L2096.0,4649.9 L2096.5,4649.9 L2097.0,4650.7 L2097.5,4651.4 L2098.0,4652.0 L2098.5,4652.6 L2099.0,4653.2 L2099.5,4653.9 L2100.0,4654.5 L2100.5,4655.1 L2101.0,4655.7 L2101.5,4656.4 L2102.0,4657.0 L2102.5,4657.6 L2103.0,4658.2 L2103.5,4658.9 L2104.0,4659.5 L2104.5,4660.1 L2105.0,4660.7 L2105.5,4661.4 L2106.0,4662.0 L2106.5,4662.6 L2107.0,4663.2 L2107.5,4663.9 L2108.0,4664.5 L2108.5,4665.1 L2109.0,4665.7 L2109.5,4666.4 L2110.0,4667.0 L2110.5,4667.6 L2111.0,4668.2 L2111.5,4668.9 L2112.0,4669.5 L2112.5,4670.1 L2113.0,4670.7 L2113.5,4671.4 L2114.0,4672.0" fill="none" stroke="#2a2a2a" stroke-width="2.1" stroke-linejoin="round"/>
<rect x="216" y="3746.5" width="1901.5" height="926.5" fill="none" stroke="#8a8a8a" stroke-width="3"/>
<line x1="210" y1="4680" x2="2119" y2="4680" stroke="#000" stroke-width="5"/>
<line x1="212.4" y1="4678" x2="212.4" y2="4703" stroke="#000" stroke-width="5"/>
<text transform="translate(137.3,4801.5) scale(0.9287,1)" font-family='"Liberation Sans", sans-serif' font-weight="normal" font-size="71.47" fill="#595959" >1970</text>
<line x1="395.4" y1="4678" x2="395.4" y2="4703" stroke="#000" stroke-width="5"/>
<text transform="translate(320.3,4801.5) scale(0.9300,1)" font-family='"Liberation Sans", sans-serif' font-weight="normal" font-size="71.47" fill="#595959" >1975</text>
<line x1="578.4" y1="4678" x2="578.4" y2="4703" stroke="#000" stroke-width="5"/>
<text transform="translate(503.3,4801.5) scale(0.9287,1)" font-family='"Liberation Sans", sans-serif' font-weight="normal" font-size="71.47" fill="#595959" >1980</text>
<line x1="761.4" y1="4678" x2="761.4" y2="4703" stroke="#000" stroke-width="5"/>
<text transform="translate(686.3,4801.5) scale(0.9300,1)" font-family='"Liberation Sans", sans-serif' font-weight="normal" font-size="71.47" fill="#595959" >1985</text>
<line x1="944.4" y1="4678" x2="944.4" y2="4703" stroke="#000" stroke-width="5"/>
<text transform="translate(869.3,4801.5) scale(0.9287,1)" font-family='"Liberation Sans", sans-serif' font-weight="normal" font-size="71.47" fill="#595959" >1990</text>
<line x1="1127.4" y1="4678" x2="1127.4" y2="4703" stroke="#000" stroke-width="5"/>
<text transform="translate(1052.3,4801.5) scale(0.9300,1)" font-family='"Liberation Sans", sans-serif' font-weight="normal" font-size="71.47" fill="#595959" >1995</text>
<line x1="1310.4" y1="4678" x2="1310.4" y2="4703" stroke="#000" stroke-width="5"/>
<text transform="translate(1237.1,4801.5) scale(0.9174,1)" font-family='"Liberation Sans", sans-serif' font-weight="normal" font-size="71.47" fill="#595959" >2000</text>
<line x1="1493.4" y1="4678" x2="1493.4" y2="4703" stroke="#000" stroke-width="5"/>
<text transform="translate(1420.1,4801.5) scale(0.9187,1)" font-family='"Liberation Sans", sans-serif' font-weight="normal" font-size="71.47" fill="#595959" >2005</text>
<line x1="1676.4" y1="4678" x2="1676.4" y2="4703" stroke="#000" stroke-width="5"/>
<text transform="translate(1603.1,4801.5) scale(0.9174,1)" font-family='"Liberation Sans", sans-serif' font-weight="normal" font-size="71.47" fill="#595959" >2010</text>
<line x1="1859.4" y1="4678" x2="1859.4" y2="4703" stroke="#000" stroke-width="5"/>
<text transform="translate(1786.1,4801.5) scale(0.9187,1)" font-family='"Liberation Sans", sans-serif' font-weight="normal" font-size="71.47" fill="#595959" >2015</text>
<line x1="2042.4" y1="4678" x2="2042.4" y2="4703" stroke="#000" stroke-width="5"/>
<text transform="translate(1969.1,4801.5) scale(0.9174,1)" font-family='"Liberation Sans", sans-serif' font-weight="normal" font-size="71.47" fill="#595959" >2020</text>
<line x1="210" y1="3747.5" x2="217" y2="3747.5" stroke="#777" stroke-width="2"/>
<line x1="210" y1="4057.5" x2="217" y2="4057.5" stroke="#777" stroke-width="2"/>
<line x1="210" y1="4365.6" x2="217" y2="4365.6" stroke="#777" stroke-width="2"/>
<line x1="210" y1="4551.4" x2="217" y2="4551.4" stroke="#777" stroke-width="2"/>
<line x1="210" y1="4618.7" x2="217" y2="4618.7" stroke="#777" stroke-width="2"/>
<line x1="210" y1="4644.3" x2="217" y2="4644.3" stroke="#777" stroke-width="2"/>
<line x1="210" y1="4660.3" x2="217" y2="4660.3" stroke="#777" stroke-width="2"/>
<text transform="translate(197.8,3814.6) rotate(-90) scale(0.9525,1)" font-family='"Liberation Sans", sans-serif' font-weight="normal" font-size="72.23" fill="#000" >15</text>
<text transform="translate(197.8,4105.8) rotate(-90) scale(0.9905,1)" font-family='"Liberation Sans", sans-serif' font-weight="normal" font-size="71.19" fill="#000" >10</text>
<text transform="translate(197.8,4393.9) rotate(-90) scale(0.9052,1)" font-family='"Liberation Sans", sans-serif' font-weight="normal" font-size="72.23" fill="#000" >5</text>
<text transform="translate(198.5,4575.4) rotate(-90) scale(1.0066,1)" font-family='"Liberation Sans", sans-serif' font-weight="normal" font-size="72.18" fill="#000" >2</text>
<text transform="translate(197.8,4686.5) rotate(-90) scale(0.9727,1)" font-family='"Liberation Sans", sans-serif' font-weight="normal" font-size="71.19" fill="#000" >0</text>
<text transform="translate(97.8,4420.7) rotate(-90) scale(0.9719,1)" font-family='"Liberation Sans", sans-serif' font-weight="normal" font-size="73.38" fill="#000" >Period (yr)</text>
<text transform="translate(2134.6,4686.0) scale(1.0326,1)" font-family='"Liberation Serif", serif' font-weight="bold" font-size="116.54" fill="#000" >d</text>
</svg></body></html>
